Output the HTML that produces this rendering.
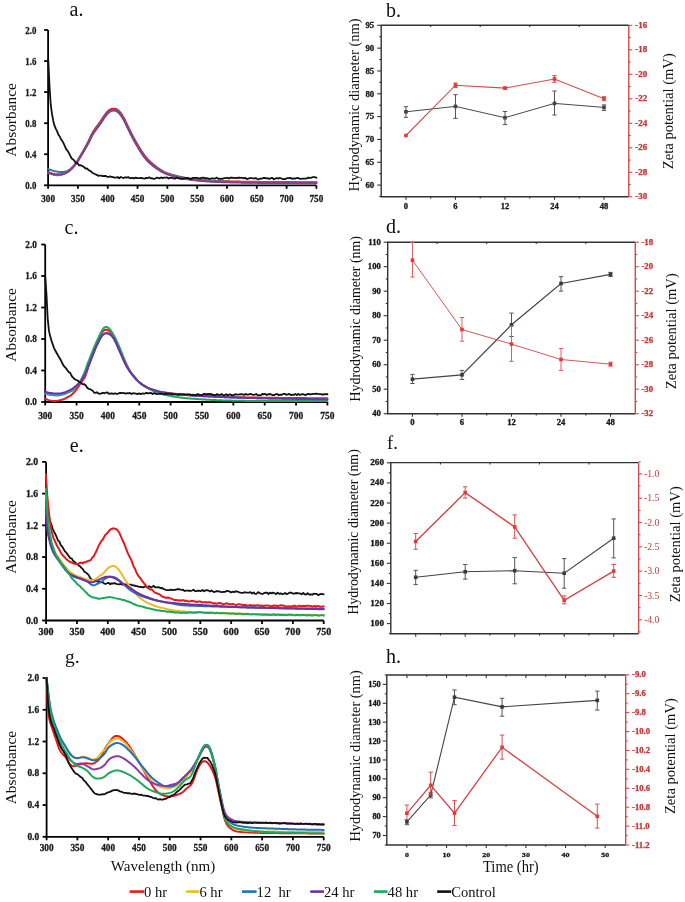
<!DOCTYPE html>
<html><head><meta charset="utf-8"><style>
html,body{margin:0;padding:0;background:#fff;}
body{width:685px;height:902px;overflow:hidden;}
svg{display:block;filter:blur(0.3px);}
text{font-family:"Liberation Serif",serif;}
</style></head><body>
<svg width="685" height="902" viewBox="0 0 685 902">
<rect width="685" height="902" fill="#fff"/>
<g stroke="#000" stroke-width="1.8" fill="none">
<path d="M48.1 30 L48.1 185.3 L316.4 185.3"/>
<path d="M44.1 185.3 H48.1"/>
<path d="M44.1 154.24 H48.1"/>
<path d="M44.1 123.18 H48.1"/>
<path d="M44.1 92.12 H48.1"/>
<path d="M44.1 61.06 H48.1"/>
<path d="M44.1 30 H48.1"/>
<path d="M48.1 185.3 V188.8"/>
<path d="M77.91 185.3 V188.8"/>
<path d="M107.72 185.3 V188.8"/>
<path d="M137.53 185.3 V188.8"/>
<path d="M167.34 185.3 V188.8"/>
<path d="M197.16 185.3 V188.8"/>
<path d="M226.97 185.3 V188.8"/>
<path d="M256.78 185.3 V188.8"/>
<path d="M286.59 185.3 V188.8"/>
<path d="M316.4 185.3 V188.8"/>
</g>
<text transform="translate(36.4 188.95) scale(0.82 1)" font-size="10.8" text-anchor="end" font-weight="bold" fill="#1a1a1a" stroke="#1a1a1a" stroke-width="0.3">0.0</text>
<text transform="translate(36.4 157.89) scale(0.82 1)" font-size="10.8" text-anchor="end" font-weight="bold" fill="#1a1a1a" stroke="#1a1a1a" stroke-width="0.3">0.4</text>
<text transform="translate(36.4 126.83) scale(0.82 1)" font-size="10.8" text-anchor="end" font-weight="bold" fill="#1a1a1a" stroke="#1a1a1a" stroke-width="0.3">0.8</text>
<text transform="translate(36.4 95.77) scale(0.82 1)" font-size="10.8" text-anchor="end" font-weight="bold" fill="#1a1a1a" stroke="#1a1a1a" stroke-width="0.3">1.2</text>
<text transform="translate(36.4 64.71) scale(0.82 1)" font-size="10.8" text-anchor="end" font-weight="bold" fill="#1a1a1a" stroke="#1a1a1a" stroke-width="0.3">1.6</text>
<text transform="translate(36.4 33.65) scale(0.82 1)" font-size="10.8" text-anchor="end" font-weight="bold" fill="#1a1a1a" stroke="#1a1a1a" stroke-width="0.3">2.0</text>
<text transform="translate(48.1 201.8) scale(0.89 1)" font-size="10.3" text-anchor="middle" font-weight="bold" fill="#1a1a1a" stroke="#1a1a1a" stroke-width="0.3">300</text>
<text transform="translate(77.91 201.8) scale(0.89 1)" font-size="10.3" text-anchor="middle" font-weight="bold" fill="#1a1a1a" stroke="#1a1a1a" stroke-width="0.3">350</text>
<text transform="translate(107.72 201.8) scale(0.89 1)" font-size="10.3" text-anchor="middle" font-weight="bold" fill="#1a1a1a" stroke="#1a1a1a" stroke-width="0.3">400</text>
<text transform="translate(137.53 201.8) scale(0.89 1)" font-size="10.3" text-anchor="middle" font-weight="bold" fill="#1a1a1a" stroke="#1a1a1a" stroke-width="0.3">450</text>
<text transform="translate(167.34 201.8) scale(0.89 1)" font-size="10.3" text-anchor="middle" font-weight="bold" fill="#1a1a1a" stroke="#1a1a1a" stroke-width="0.3">500</text>
<text transform="translate(197.16 201.8) scale(0.89 1)" font-size="10.3" text-anchor="middle" font-weight="bold" fill="#1a1a1a" stroke="#1a1a1a" stroke-width="0.3">550</text>
<text transform="translate(226.97 201.8) scale(0.89 1)" font-size="10.3" text-anchor="middle" font-weight="bold" fill="#1a1a1a" stroke="#1a1a1a" stroke-width="0.3">600</text>
<text transform="translate(256.78 201.8) scale(0.89 1)" font-size="10.3" text-anchor="middle" font-weight="bold" fill="#1a1a1a" stroke="#1a1a1a" stroke-width="0.3">650</text>
<text transform="translate(286.59 201.8) scale(0.89 1)" font-size="10.3" text-anchor="middle" font-weight="bold" fill="#1a1a1a" stroke="#1a1a1a" stroke-width="0.3">700</text>
<text transform="translate(316.4 201.8) scale(0.89 1)" font-size="10.3" text-anchor="middle" font-weight="bold" fill="#1a1a1a" stroke="#1a1a1a" stroke-width="0.3">750</text>
<text x="69.5" y="15.5" font-size="20" text-anchor="start" font-weight="normal" fill="#111">a.</text>
<text transform="translate(15.5 119.9) rotate(-90)" font-size="15.4" text-anchor="middle" font-weight="normal" fill="#111">Absorbance</text>
<path d="M48.2 172.3 L49.14 172.65 L50.08 173 L51.02 173.32 L51.97 173.62 L52.93 173.89 L53.9 174.13 L54.87 174.32 L55.85 174.47 L56.83 174.57 L57.82 174.62 L58.81 174.61 L59.79 174.53 L60.76 174.4 L61.73 174.21 L62.68 173.96 L63.63 173.65 L64.55 173.31 L65.47 172.91 L66.35 172.48 L67.22 172 L68.06 171.47 L68.87 170.91 L69.66 170.3 L70.42 169.66 L71.15 168.99 L71.86 168.29 L72.55 167.57 L73.23 166.83 L73.89 166.08 L74.54 165.32 L75.17 164.54 L75.77 163.75 L76.36 162.94 L76.92 162.12 L77.46 161.28 L77.98 160.43 L78.48 159.57 L78.98 158.7 L79.47 157.83 L79.96 156.96 L80.46 156.09 L80.96 155.22 L81.46 154.35 L81.96 153.48 L82.46 152.61 L82.95 151.74 L83.44 150.87 L83.92 149.99 L84.4 149.11 L84.87 148.22 L85.35 147.34 L85.82 146.46 L86.3 145.58 L86.77 144.69 L87.24 143.81 L87.71 142.92 L88.16 142.03 L88.61 141.13 L89.04 140.23 L89.46 139.32 L89.87 138.41 L90.28 137.5 L90.7 136.59 L91.12 135.68 L91.56 134.78 L92.03 133.9 L92.51 133.03 L93.02 132.16 L93.55 131.32 L94.09 130.48 L94.66 129.65 L95.23 128.83 L95.82 128.02 L96.41 127.22 L97.01 126.41 L97.61 125.61 L98.22 124.81 L98.81 124.01 L99.4 123.2 L99.98 122.38 L100.55 121.56 L101.11 120.73 L101.66 119.89 L102.2 119.05 L102.74 118.21 L103.29 117.37 L103.84 116.53 L104.4 115.7 L104.98 114.89 L105.57 114.08 L106.19 113.3 L106.83 112.54 L107.5 111.81 L108.21 111.13 L108.95 110.51 L109.73 109.95 L110.56 109.49 L111.42 109.12 L112.32 108.86 L113.22 108.73 L114.14 108.73 L115.03 108.86 L115.91 109.12 L116.74 109.51 L117.54 110 L118.28 110.59 L118.99 111.25 L119.65 111.97 L120.28 112.73 L120.89 113.52 L121.47 114.33 L122.03 115.16 L122.57 116 L123.09 116.85 L123.59 117.72 L124.07 118.6 L124.53 119.48 L124.98 120.38 L125.41 121.28 L125.84 122.19 L126.26 123.09 L126.69 124 L127.11 124.91 L127.55 125.81 L127.98 126.71 L128.43 127.61 L128.87 128.51 L129.32 129.4 L129.78 130.3 L130.23 131.19 L130.68 132.09 L131.13 132.98 L131.58 133.88 L132.03 134.77 L132.48 135.67 L132.94 136.56 L133.41 137.45 L133.88 138.33 L134.36 139.21 L134.84 140.09 L135.33 140.96 L135.83 141.83 L136.33 142.7 L136.83 143.56 L137.34 144.43 L137.85 145.29 L138.36 146.16 L138.87 147.02 L139.39 147.87 L139.91 148.73 L140.44 149.58 L140.98 150.43 L141.52 151.27 L142.08 152.1 L142.64 152.93 L143.21 153.76 L143.79 154.57 L144.38 155.38 L144.98 156.18 L145.6 156.97 L146.23 157.74 L146.88 158.5 L147.54 159.25 L148.23 159.98 L148.93 160.69 L149.64 161.39 L150.37 162.08 L151.11 162.75 L151.86 163.42 L152.62 164.07 L153.39 164.71 L154.17 165.34 L154.95 165.97 L155.74 166.58 L156.54 167.18 L157.35 167.77 L158.17 168.35 L158.99 168.91 L159.83 169.47 L160.68 170 L161.53 170.52 L162.4 171.02 L163.28 171.5 L164.16 171.95 L165.06 172.39 L165.98 172.79 L166.9 173.17 L167.83 173.53 L168.78 173.86 L169.73 174.17 L170.68 174.46 L171.64 174.74 L172.61 175.01 L173.58 175.27 L174.55 175.53 L175.52 175.78 L176.49 176.02 L177.46 176.26 L178.44 176.49 L179.41 176.72 L180.39 176.94 L181.37 177.16 L182.35 177.36 L183.33 177.57 L184.31 177.76 L185.3 177.95 L186.28 178.14 L187.27 178.31 L188.26 178.48 L189.24 178.64 L190.23 178.8 L191.23 178.94 L192.22 179.08 L193.21 179.2 L194.21 179.32 L195.2 179.44 L196.2 179.54 L197.2 179.64 L198.19 179.73 L199.19 179.82 L200.19 179.91 L201.19 180 L202.19 180.08 L203.19 180.17 L204.19 180.25 L205.19 180.33 L206.18 180.41 L207.18 180.48 L208.18 180.56 L209.18 180.63 L210.18 180.7 L211.18 180.76 L212.18 180.82 L213.18 180.88 L214.18 180.93 L215.19 180.98 L216.19 181.03 L217.19 181.08 L218.19 181.12 L219.19 181.16 L220.19 181.2 L221.19 181.23 L222.2 181.27 L223.2 181.3 L224.2 181.33 L225.2 181.36 L226.2 181.39 L227.2 181.42 L228.21 181.44 L229.21 181.47 L230.21 181.49 L231.21 181.52 L232.21 181.54 L233.22 181.56 L234.22 181.59 L235.22 181.61 L236.22 181.63 L237.22 181.65 L238.23 181.67 L239.23 181.69 L240.23 181.71 L241.23 181.73 L242.24 181.74 L243.24 181.76 L244.24 181.78 L245.24 181.8 L246.24 181.81 L247.25 181.83 L248.25 181.84 L249.25 181.86 L250.25 181.87 L251.25 181.89 L252.26 181.9 L253.26 181.91 L254.26 181.93 L255.26 181.94 L256.27 181.95 L257.27 181.97 L258.27 181.98 L259.27 181.99 L260.27 182 L261.28 182.01 L262.28 182.02 L263.28 182.03 L264.28 182.04 L265.29 182.05 L266.29 182.06 L267.29 182.07 L268.29 182.07 L269.29 182.08 L270.3 182.09 L271.3 182.1 L272.3 182.1 L273.3 182.11 L274.31 182.12 L275.31 182.12 L276.31 182.13 L277.31 182.13 L278.31 182.14 L279.32 182.15 L280.32 182.15 L281.32 182.16 L282.32 182.16 L283.33 182.17 L284.33 182.17 L285.33 182.18 L286.33 182.18 L287.33 182.18 L288.34 182.19 L289.34 182.19 L290.34 182.2 L291.34 182.2 L292.35 182.21 L293.35 182.21 L294.35 182.21 L295.35 182.22 L296.35 182.22 L297.36 182.23 L298.36 182.23 L299.36 182.23 L300.36 182.24 L301.37 182.24 L302.37 182.24 L303.37 182.25 L304.37 182.25 L305.38 182.26 L306.38 182.26 L307.38 182.26 L308.38 182.27 L309.38 182.27 L310.39 182.27 L311.39 182.28 L312.39 182.28 L313.39 182.29 L314.4 182.29 L315.4 182.3 L316.4 182.3 L316.4 182.3" fill="none" stroke="#d51d1d" stroke-width="2.2" stroke-linejoin="round" stroke-linecap="round"/>
<path d="M48.2 169 L49.14 169.35 L50.08 169.7 L51.02 170.03 L51.97 170.35 L52.92 170.64 L53.88 170.92 L54.85 171.16 L55.82 171.38 L56.8 171.57 L57.79 171.73 L58.78 171.85 L59.77 171.94 L60.76 171.99 L61.75 171.99 L62.74 171.94 L63.73 171.85 L64.7 171.7 L65.66 171.49 L66.6 171.22 L67.51 170.87 L68.39 170.46 L69.23 169.98 L70.05 169.43 L70.82 168.83 L71.57 168.18 L72.28 167.5 L72.98 166.79 L73.65 166.05 L74.31 165.3 L74.95 164.53 L75.57 163.75 L76.17 162.95 L76.75 162.14 L77.3 161.31 L77.84 160.47 L78.36 159.62 L78.87 158.76 L79.38 157.9 L79.89 157.04 L80.41 156.18 L80.93 155.33 L81.45 154.47 L81.98 153.62 L82.5 152.76 L83.01 151.9 L83.52 151.04 L84.03 150.17 L84.53 149.31 L85.03 148.44 L85.53 147.57 L86.03 146.7 L86.52 145.83 L87.02 144.96 L87.51 144.09 L87.99 143.21 L88.45 142.32 L88.91 141.43 L89.35 140.54 L89.78 139.63 L90.21 138.73 L90.64 137.82 L91.07 136.92 L91.52 136.03 L91.99 135.15 L92.48 134.28 L93 133.43 L93.53 132.58 L94.09 131.75 L94.66 130.93 L95.24 130.11 L95.83 129.3 L96.42 128.5 L97.02 127.7 L97.63 126.9 L98.23 126.1 L98.83 125.29 L99.42 124.48 L100 123.67 L100.56 122.84 L101.12 122.01 L101.67 121.17 L102.21 120.33 L102.75 119.49 L103.3 118.65 L103.85 117.81 L104.41 116.99 L104.99 116.17 L105.58 115.37 L106.2 114.59 L106.84 113.83 L107.51 113.1 L108.22 112.42 L108.96 111.8 L109.75 111.25 L110.57 110.78 L111.44 110.41 L112.33 110.16 L113.24 110.03 L114.15 110.03 L115.05 110.16 L115.92 110.42 L116.76 110.81 L117.55 111.31 L118.29 111.9 L119 112.56 L119.66 113.28 L120.29 114.04 L120.9 114.83 L121.48 115.64 L122.04 116.47 L122.58 117.31 L123.09 118.16 L123.59 119.03 L124.07 119.91 L124.54 120.79 L124.98 121.69 L125.42 122.59 L125.85 123.49 L126.27 124.4 L126.69 125.31 L127.12 126.22 L127.55 127.12 L127.99 128.02 L128.43 128.92 L128.88 129.82 L129.33 130.71 L129.78 131.61 L130.23 132.5 L130.68 133.4 L131.13 134.29 L131.58 135.19 L132.03 136.08 L132.48 136.97 L132.94 137.86 L133.41 138.75 L133.88 139.64 L134.36 140.52 L134.84 141.39 L135.34 142.27 L135.83 143.14 L136.33 144 L136.84 144.87 L137.34 145.73 L137.85 146.6 L138.36 147.46 L138.87 148.32 L139.39 149.18 L139.92 150.03 L140.45 150.88 L140.99 151.73 L141.53 152.56 L142.09 153.4 L142.65 154.22 L143.23 155.04 L143.81 155.86 L144.41 156.66 L145.02 157.45 L145.65 158.23 L146.29 159 L146.95 159.75 L147.63 160.48 L148.32 161.2 L149.04 161.9 L149.77 162.58 L150.51 163.25 L151.27 163.9 L152.04 164.54 L152.82 165.17 L153.6 165.79 L154.4 166.4 L155.2 167 L156.01 167.59 L156.83 168.16 L157.66 168.72 L158.5 169.27 L159.34 169.81 L160.2 170.33 L161.06 170.83 L161.93 171.32 L162.82 171.79 L163.71 172.24 L164.61 172.66 L165.53 173.06 L166.45 173.44 L167.39 173.8 L168.33 174.13 L169.28 174.44 L170.23 174.74 L171.19 175.02 L172.16 175.29 L173.13 175.56 L174.09 175.81 L175.06 176.06 L176.03 176.31 L177.01 176.55 L177.98 176.79 L178.96 177.02 L179.93 177.24 L180.91 177.46 L181.89 177.67 L182.87 177.87 L183.85 178.07 L184.84 178.27 L185.82 178.45 L186.81 178.63 L187.79 178.81 L188.78 178.97 L189.77 179.13 L190.76 179.27 L191.75 179.41 L192.75 179.55 L193.74 179.67 L194.73 179.78 L195.73 179.89 L196.73 179.99 L197.72 180.09 L198.72 180.18 L199.72 180.27 L200.72 180.36 L201.72 180.44 L202.72 180.53 L203.71 180.61 L204.71 180.69 L205.71 180.77 L206.71 180.85 L207.71 180.92 L208.71 181 L209.71 181.06 L210.71 181.13 L211.71 181.19 L212.71 181.25 L213.71 181.31 L214.71 181.36 L215.71 181.41 L216.71 181.46 L217.71 181.5 L218.71 181.54 L219.71 181.58 L220.72 181.62 L221.72 181.65 L222.72 181.68 L223.72 181.71 L224.72 181.75 L225.72 181.77 L226.73 181.8 L227.73 181.83 L228.73 181.86 L229.73 181.88 L230.73 181.91 L231.73 181.93 L232.74 181.95 L233.74 181.98 L234.74 182 L235.74 182.02 L236.74 182.04 L237.74 182.06 L238.75 182.08 L239.75 182.1 L240.75 182.12 L241.75 182.14 L242.75 182.15 L243.76 182.17 L244.76 182.19 L245.76 182.2 L246.76 182.22 L247.76 182.24 L248.76 182.25 L249.77 182.27 L250.77 182.28 L251.77 182.29 L252.77 182.31 L253.77 182.32 L254.78 182.33 L255.78 182.35 L256.78 182.36 L257.78 182.37 L258.78 182.38 L259.79 182.39 L260.79 182.41 L261.79 182.42 L262.79 182.43 L263.79 182.44 L264.8 182.44 L265.8 182.45 L266.8 182.46 L267.8 182.47 L268.8 182.48 L269.81 182.49 L270.81 182.49 L271.81 182.5 L272.81 182.51 L273.81 182.51 L274.82 182.52 L275.82 182.53 L276.82 182.53 L277.82 182.54 L278.82 182.54 L279.83 182.55 L280.83 182.55 L281.83 182.56 L282.83 182.56 L283.83 182.57 L284.84 182.57 L285.84 182.58 L286.84 182.58 L287.84 182.59 L288.84 182.59 L289.85 182.6 L290.85 182.6 L291.85 182.6 L292.85 182.61 L293.85 182.61 L294.86 182.62 L295.86 182.62 L296.86 182.62 L297.86 182.63 L298.86 182.63 L299.87 182.64 L300.87 182.64 L301.87 182.64 L302.87 182.65 L303.87 182.65 L304.88 182.65 L305.88 182.66 L306.88 182.66 L307.88 182.67 L308.88 182.67 L309.89 182.67 L310.89 182.68 L311.89 182.68 L312.89 182.68 L313.89 182.69 L314.9 182.69 L315.9 182.7 L316.4 182.7" fill="none" stroke="#2a7d9a" stroke-width="2.0" stroke-linejoin="round" stroke-linecap="round"/>
<path d="M48.2 172.9 L49.14 173.25 L50.07 173.6 L51.02 173.92 L51.97 174.23 L52.93 174.5 L53.89 174.73 L54.87 174.92 L55.84 175.07 L56.83 175.15 L57.81 175.18 L58.79 175.15 L59.76 175.04 L60.72 174.86 L61.67 174.62 L62.61 174.32 L63.53 173.96 L64.44 173.56 L65.32 173.11 L66.19 172.62 L67.03 172.1 L67.86 171.54 L68.65 170.95 L69.43 170.32 L70.18 169.67 L70.9 168.99 L71.61 168.28 L72.31 167.56 L72.98 166.83 L73.65 166.08 L74.3 165.32 L74.94 164.55 L75.56 163.77 L76.15 162.97 L76.73 162.16 L77.29 161.33 L77.82 160.49 L78.34 159.63 L78.86 158.78 L79.37 157.92 L79.88 157.06 L80.4 156.2 L80.92 155.35 L81.44 154.49 L81.96 153.64 L82.48 152.78 L83 151.92 L83.51 151.06 L84.02 150.19 L84.52 149.33 L85.02 148.46 L85.52 147.59 L86.01 146.72 L86.51 145.85 L87.01 144.98 L87.5 144.11 L87.98 143.23 L88.44 142.34 L88.9 141.45 L89.34 140.55 L89.77 139.65 L90.2 138.75 L90.63 137.84 L91.06 136.94 L91.51 136.05 L91.98 135.17 L92.47 134.3 L92.99 133.44 L93.52 132.6 L94.08 131.77 L94.64 130.94 L95.22 130.13 L95.81 129.32 L96.41 128.51 L97.01 127.71 L97.62 126.91 L98.22 126.11 L98.82 125.31 L99.41 124.5 L99.99 123.68 L100.55 122.86 L101.11 122.03 L101.66 121.19 L102.2 120.35 L102.74 119.51 L103.29 118.67 L103.84 117.83 L104.4 117 L104.98 116.19 L105.57 115.38 L106.19 114.6 L106.83 113.84 L107.5 113.12 L108.2 112.43 L108.95 111.81 L109.73 111.26 L110.56 110.79 L111.42 110.42 L112.31 110.16 L113.22 110.03 L114.13 110.03 L115.03 110.16 L115.9 110.42 L116.74 110.8 L117.53 111.3 L118.28 111.89 L118.98 112.55 L119.65 113.27 L120.28 114.03 L120.89 114.81 L121.47 115.62 L122.03 116.45 L122.57 117.29 L123.09 118.15 L123.59 119.01 L124.07 119.89 L124.53 120.78 L124.98 121.67 L125.41 122.57 L125.84 123.48 L126.26 124.39 L126.68 125.3 L127.11 126.2 L127.54 127.11 L127.98 128.01 L128.42 128.91 L128.87 129.8 L129.32 130.7 L129.77 131.59 L130.22 132.49 L130.67 133.38 L131.12 134.28 L131.57 135.17 L132.02 136.07 L132.48 136.96 L132.94 137.85 L133.4 138.74 L133.87 139.62 L134.35 140.5 L134.84 141.38 L135.33 142.25 L135.83 143.12 L136.33 143.99 L136.83 144.86 L137.34 145.72 L137.84 146.59 L138.35 147.45 L138.87 148.31 L139.38 149.17 L139.91 150.02 L140.44 150.87 L140.98 151.71 L141.52 152.55 L142.08 153.39 L142.65 154.21 L143.22 155.03 L143.81 155.85 L144.4 156.65 L145.01 157.44 L145.64 158.22 L146.28 158.99 L146.94 159.74 L147.62 160.47 L148.31 161.19 L149.03 161.89 L149.76 162.57 L150.5 163.24 L151.26 163.89 L152.03 164.53 L152.81 165.16 L153.59 165.78 L154.39 166.39 L155.19 166.99 L156 167.58 L156.82 168.15 L157.65 168.72 L158.49 169.27 L159.33 169.8 L160.19 170.32 L161.05 170.83 L161.92 171.31 L162.81 171.78 L163.7 172.23 L164.6 172.66 L165.52 173.06 L166.44 173.44 L167.38 173.79 L168.32 174.13 L169.27 174.44 L170.22 174.74 L171.18 175.02 L172.15 175.29 L173.11 175.55 L174.08 175.81 L175.05 176.06 L176.02 176.31 L177 176.55 L177.97 176.78 L178.95 177.01 L179.92 177.24 L180.9 177.45 L181.88 177.66 L182.86 177.87 L183.84 178.07 L184.83 178.26 L185.81 178.45 L186.8 178.63 L187.78 178.8 L188.77 178.97 L189.76 179.12 L190.75 179.27 L191.74 179.41 L192.74 179.54 L193.73 179.67 L194.72 179.78 L195.72 179.89 L196.72 179.99 L197.72 180.09 L198.71 180.18 L199.71 180.27 L200.71 180.36 L201.71 180.44 L202.71 180.53 L203.71 180.61 L204.7 180.69 L205.7 180.77 L206.7 180.85 L207.7 180.92 L208.7 180.99 L209.7 181.06 L210.7 181.13 L211.7 181.19 L212.7 181.25 L213.7 181.31 L214.7 181.36 L215.7 181.41 L216.7 181.46 L217.7 181.5 L218.71 181.54 L219.71 181.58 L220.71 181.62 L221.71 181.65 L222.71 181.68 L223.71 181.71 L224.71 181.74 L225.72 181.77 L226.72 181.8 L227.72 181.83 L228.72 181.86 L229.72 181.88 L230.73 181.91 L231.73 181.93 L232.73 181.95 L233.73 181.98 L234.73 182 L235.73 182.02 L236.74 182.04 L237.74 182.06 L238.74 182.08 L239.74 182.1 L240.74 182.12 L241.75 182.14 L242.75 182.15 L243.75 182.17 L244.75 182.19 L245.75 182.2 L246.76 182.22 L247.76 182.24 L248.76 182.25 L249.76 182.27 L250.76 182.28 L251.77 182.29 L252.77 182.31 L253.77 182.32 L254.77 182.33 L255.77 182.35 L256.78 182.36 L257.78 182.37 L258.78 182.38 L259.78 182.39 L260.78 182.41 L261.79 182.42 L262.79 182.43 L263.79 182.44 L264.79 182.44 L265.79 182.45 L266.8 182.46 L267.8 182.47 L268.8 182.48 L269.8 182.49 L270.8 182.49 L271.81 182.5 L272.81 182.51 L273.81 182.51 L274.81 182.52 L275.82 182.53 L276.82 182.53 L277.82 182.54 L278.82 182.54 L279.82 182.55 L280.83 182.55 L281.83 182.56 L282.83 182.56 L283.83 182.57 L284.83 182.57 L285.84 182.58 L286.84 182.58 L287.84 182.59 L288.84 182.59 L289.84 182.6 L290.85 182.6 L291.85 182.6 L292.85 182.61 L293.85 182.61 L294.85 182.62 L295.86 182.62 L296.86 182.62 L297.86 182.63 L298.86 182.63 L299.87 182.64 L300.87 182.64 L301.87 182.64 L302.87 182.65 L303.87 182.65 L304.88 182.65 L305.88 182.66 L306.88 182.66 L307.88 182.67 L308.88 182.67 L309.89 182.67 L310.89 182.68 L311.89 182.68 L312.89 182.68 L313.89 182.69 L314.9 182.69 L315.9 182.7 L316.4 182.7" fill="none" stroke="#3a9a6a" stroke-width="2.0" stroke-linejoin="round" stroke-linecap="round"/>
<path d="M48.2 172.4 L49.14 172.75 L50.08 173.1 L51.02 173.42 L51.97 173.72 L52.93 173.99 L53.9 174.23 L54.87 174.42 L55.85 174.57 L56.84 174.67 L57.82 174.72 L58.81 174.71 L59.79 174.63 L60.76 174.5 L61.73 174.3 L62.69 174.05 L63.63 173.75 L64.56 173.4 L65.47 173.01 L66.36 172.57 L67.22 172.09 L68.07 171.57 L68.88 171 L69.66 170.4 L70.42 169.76 L71.16 169.09 L71.87 168.39 L72.56 167.67 L73.24 166.93 L73.9 166.18 L74.55 165.42 L75.18 164.65 L75.79 163.86 L76.38 163.05 L76.95 162.23 L77.5 161.4 L78.03 160.55 L78.55 159.7 L79.06 158.84 L79.57 157.98 L80.09 157.12 L80.6 156.26 L81.13 155.41 L81.65 154.55 L82.17 153.7 L82.69 152.84 L83.2 151.98 L83.71 151.12 L84.22 150.25 L84.72 149.38 L85.22 148.51 L85.71 147.64 L86.21 146.77 L86.71 145.9 L87.2 145.03 L87.69 144.16 L88.16 143.27 L88.63 142.39 L89.08 141.49 L89.52 140.59 L89.94 139.69 L90.37 138.78 L90.8 137.88 L91.24 136.98 L91.7 136.09 L92.18 135.22 L92.68 134.35 L93.2 133.5 L93.74 132.66 L94.3 131.83 L94.88 131.01 L95.46 130.2 L96.06 129.39 L96.65 128.59 L97.26 127.79 L97.86 126.99 L98.46 126.18 L99.06 125.38 L99.64 124.57 L100.22 123.75 L100.78 122.92 L101.34 122.09 L101.88 121.25 L102.42 120.4 L102.97 119.56 L103.51 118.72 L104.07 117.89 L104.64 117.07 L105.22 116.25 L105.82 115.46 L106.45 114.68 L107.1 113.94 L107.79 113.23 L108.51 112.57 L109.27 111.97 L110.07 111.45 L110.91 111.02 L111.79 110.7 L112.69 110.49 L113.6 110.41 L114.51 110.47 L115.4 110.65 L116.26 110.97 L117.08 111.4 L117.85 111.93 L118.58 112.56 L119.27 113.24 L119.92 113.98 L120.54 114.75 L121.13 115.55 L121.7 116.37 L122.26 117.2 L122.79 118.05 L123.3 118.91 L123.79 119.78 L124.26 120.66 L124.72 121.55 L125.16 122.45 L125.59 123.36 L126.02 124.26 L126.44 125.17 L126.86 126.08 L127.29 126.98 L127.73 127.89 L128.17 128.79 L128.61 129.69 L129.06 130.58 L129.51 131.48 L129.96 132.37 L130.42 133.27 L130.87 134.16 L131.32 135.06 L131.77 135.95 L132.22 136.85 L132.67 137.74 L133.13 138.63 L133.6 139.52 L134.08 140.4 L134.56 141.28 L135.05 142.15 L135.54 143.03 L136.04 143.9 L136.54 144.76 L137.05 145.63 L137.55 146.49 L138.06 147.36 L138.57 148.22 L139.09 149.08 L139.61 149.94 L140.14 150.79 L140.67 151.64 L141.21 152.48 L141.77 153.31 L142.33 154.15 L142.89 154.97 L143.47 155.79 L144.06 156.6 L144.67 157.4 L145.28 158.18 L145.91 158.96 L146.56 159.72 L147.23 160.46 L147.92 161.19 L148.62 161.9 L149.35 162.59 L150.08 163.27 L150.83 163.93 L151.6 164.58 L152.37 165.21 L153.15 165.84 L153.94 166.45 L154.74 167.06 L155.55 167.65 L156.36 168.23 L157.19 168.8 L158.02 169.36 L158.86 169.9 L159.71 170.43 L160.57 170.95 L161.44 171.44 L162.31 171.92 L163.2 172.38 L164.1 172.82 L165.01 173.24 L165.93 173.63 L166.86 174 L167.8 174.35 L168.74 174.67 L169.69 174.97 L170.65 175.26 L171.62 175.54 L172.58 175.81 L173.55 176.07 L174.52 176.32 L175.49 176.57 L176.46 176.82 L177.43 177.06 L178.41 177.29 L179.39 177.51 L180.36 177.73 L181.34 177.95 L182.32 178.16 L183.3 178.36 L184.29 178.56 L185.27 178.75 L186.26 178.93 L187.24 179.11 L188.23 179.28 L189.22 179.44 L190.21 179.59 L191.2 179.74 L192.19 179.87 L193.19 180 L194.18 180.12 L195.18 180.23 L196.18 180.34 L197.17 180.44 L198.17 180.53 L199.17 180.62 L200.17 180.71 L201.17 180.8 L202.17 180.88 L203.17 180.96 L204.16 181.05 L205.16 181.13 L206.16 181.21 L207.16 181.28 L208.16 181.36 L209.16 181.43 L210.16 181.49 L211.16 181.56 L212.16 181.62 L213.16 181.68 L214.16 181.73 L215.17 181.78 L216.17 181.83 L217.17 181.88 L218.17 181.92 L219.17 181.96 L220.17 182 L221.18 182.03 L222.18 182.07 L223.18 182.1 L224.18 182.13 L225.18 182.16 L226.18 182.19 L227.19 182.22 L228.19 182.24 L229.19 182.27 L230.19 182.29 L231.2 182.32 L232.2 182.34 L233.2 182.36 L234.2 182.39 L235.2 182.41 L236.21 182.43 L237.21 182.45 L238.21 182.47 L239.21 182.49 L240.22 182.51 L241.22 182.53 L242.22 182.54 L243.22 182.56 L244.22 182.58 L245.23 182.59 L246.23 182.61 L247.23 182.63 L248.23 182.64 L249.24 182.66 L250.24 182.67 L251.24 182.69 L252.24 182.7 L253.25 182.71 L254.25 182.73 L255.25 182.74 L256.25 182.75 L257.26 182.77 L258.26 182.78 L259.26 182.79 L260.26 182.8 L261.27 182.81 L262.27 182.82 L263.27 182.83 L264.27 182.84 L265.27 182.85 L266.28 182.86 L267.28 182.87 L268.28 182.87 L269.28 182.88 L270.29 182.89 L271.29 182.9 L272.29 182.9 L273.29 182.91 L274.3 182.92 L275.3 182.92 L276.3 182.93 L277.3 182.93 L278.31 182.94 L279.31 182.95 L280.31 182.95 L281.31 182.96 L282.32 182.96 L283.32 182.97 L284.32 182.97 L285.32 182.98 L286.33 182.98 L287.33 182.98 L288.33 182.99 L289.33 182.99 L290.34 183 L291.34 183 L292.34 183.01 L293.34 183.01 L294.35 183.01 L295.35 183.02 L296.35 183.02 L297.35 183.03 L298.36 183.03 L299.36 183.03 L300.36 183.04 L301.36 183.04 L302.37 183.04 L303.37 183.05 L304.37 183.05 L305.37 183.06 L306.38 183.06 L307.38 183.06 L308.38 183.07 L309.38 183.07 L310.39 183.07 L311.39 183.08 L312.39 183.08 L313.39 183.09 L314.4 183.09 L315.4 183.1 L316.4 183.1 L316.4 183.1" fill="none" stroke="#8a3f8c" stroke-width="2.2" stroke-linejoin="round" stroke-linecap="round"/>
<path d="M48.3 60 L49.52 86.25 L50.72 104.46 L51.94 113.63 L53.22 120.66 L54.52 125.67 L55.76 128.69 L57.16 131.44 L58.48 134.82 L59.91 136.75 L61.15 139.52 L62.4 141.14 L63.64 143.35 L64.85 146.04 L66.26 149.3 L67.7 150.88 L68.94 153.2 L70.29 155.92 L71.76 158.42 L73.03 159.41 L74.36 160.63 L75.77 162.92 L77.27 162.85 L78.87 165.26 L80.14 165.21 L81.47 165.69 L82.83 166.26 L84.21 167.15 L85.56 168.55 L86.89 168.31 L88.18 169.67 L89.44 170.57 L91.01 171.4 L92.48 173.01 L94.03 173.52 L95.32 174.21 L96.73 174.87 L98.2 175.82 L99.7 175.58 L101.19 175.53 L102.69 176.07 L104.18 176.02 L105.68 175.95 L107.17 176.85 L108.66 176.87 L110.16 176.35 L111.65 176.99 L113.15 177.06 L114.65 177.71 L116.14 177.62 L117.64 177.08 L119.14 178.22 L120.64 177 L122.14 177.51 L123.64 178.07 L125.14 177.2 L126.64 177.74 L128.14 177.09 L129.65 178.05 L131.15 178.22 L132.65 177.95 L134.15 178.42 L135.65 177.59 L137.16 178.18 L138.66 178.04 L140.16 178.03 L141.66 177.86 L143.17 178.45 L144.67 178.62 L146.17 177.93 L147.67 178.22 L149.17 177.33 L150.68 178.31 L152.18 178.24 L153.68 178.78 L155.18 178.54 L156.68 177.75 L158.19 177.91 L159.69 178.35 L161.19 177.4 L162.69 178.07 L164.19 177.65 L165.7 177.59 L167.2 177.51 L168.7 178.59 L170.2 177.65 L171.7 177.84 L173.21 178.07 L174.71 178.8 L176.21 177.62 L177.71 178.19 L179.21 178.35 L180.72 178.86 L182.22 178.77 L183.72 178.84 L185.22 177.97 L186.73 178.18 L188.23 178.1 L189.73 178.89 L191.23 179 L192.73 177.79 L194.24 177.83 L195.74 177.91 L197.24 177.91 L198.74 178.28 L200.24 178.44 L201.75 177.94 L203.25 177.55 L204.75 178.17 L206.25 178.1 L207.76 178.39 L209.26 178.97 L210.76 178.57 L212.26 178.31 L213.76 178.46 L215.27 178.55 L216.77 177.62 L218.27 178.89 L219.77 178.72 L221.27 178.87 L222.78 178.76 L224.28 178.16 L225.78 178.18 L227.28 177.75 L228.78 178.56 L230.29 177.71 L231.79 177.73 L233.29 177.96 L234.79 177.9 L236.3 178.18 L237.8 177.77 L239.3 177.7 L240.8 177.94 L242.3 177.88 L243.81 178.29 L245.31 177.8 L246.81 179.08 L248.31 178.71 L249.81 178.02 L251.32 178.19 L252.82 178.34 L254.32 178.37 L255.82 178.02 L257.32 179.11 L258.83 179.34 L260.33 178.55 L261.83 178.58 L263.33 177.98 L264.83 178 L266.34 178.36 L267.84 178.24 L269.34 179.08 L270.84 178.08 L272.35 177.86 L273.85 179.25 L275.35 178.6 L276.85 178.02 L278.35 178.6 L279.86 177.81 L281.36 178.55 L282.86 179.21 L284.36 179.02 L285.86 178.75 L287.37 178.08 L288.87 178.21 L290.37 177.89 L291.87 178.78 L293.37 178.39 L294.88 178.73 L296.38 178.03 L297.88 177.84 L299.38 178.69 L300.88 178.91 L302.38 178.68 L303.89 178.58 L305.39 178.56 L306.89 178.4 L308.39 177.59 L309.89 177.99 L311.39 177.71 L312.9 177.18 L314.4 177.14 L315.9 177.48 L316.4 177.8" fill="none" stroke="#111111" stroke-width="1.8" stroke-linejoin="round" stroke-linecap="round"/>
<g stroke="#000" stroke-width="1.8" fill="none">
<path d="M45.2 244.5 L45.2 402 L327.4 402"/>
<path d="M41.2 402 H45.2"/>
<path d="M41.2 370.5 H45.2"/>
<path d="M41.2 339 H45.2"/>
<path d="M41.2 307.5 H45.2"/>
<path d="M41.2 276 H45.2"/>
<path d="M41.2 244.5 H45.2"/>
<path d="M45.2 402 V405.5"/>
<path d="M76.56 402 V405.5"/>
<path d="M107.91 402 V405.5"/>
<path d="M139.27 402 V405.5"/>
<path d="M170.62 402 V405.5"/>
<path d="M201.98 402 V405.5"/>
<path d="M233.33 402 V405.5"/>
<path d="M264.69 402 V405.5"/>
<path d="M296.04 402 V405.5"/>
<path d="M327.4 402 V405.5"/>
</g>
<text transform="translate(36.9 405.24) scale(0.97 1)" font-size="9.6" text-anchor="end" font-weight="bold" fill="#1a1a1a" stroke="#1a1a1a" stroke-width="0.3">0.0</text>
<text transform="translate(36.9 373.74) scale(0.97 1)" font-size="9.6" text-anchor="end" font-weight="bold" fill="#1a1a1a" stroke="#1a1a1a" stroke-width="0.3">0.4</text>
<text transform="translate(36.9 342.24) scale(0.97 1)" font-size="9.6" text-anchor="end" font-weight="bold" fill="#1a1a1a" stroke="#1a1a1a" stroke-width="0.3">0.8</text>
<text transform="translate(36.9 310.74) scale(0.97 1)" font-size="9.6" text-anchor="end" font-weight="bold" fill="#1a1a1a" stroke="#1a1a1a" stroke-width="0.3">1.2</text>
<text transform="translate(36.9 279.24) scale(0.97 1)" font-size="9.6" text-anchor="end" font-weight="bold" fill="#1a1a1a" stroke="#1a1a1a" stroke-width="0.3">1.6</text>
<text transform="translate(36.9 247.74) scale(0.97 1)" font-size="9.6" text-anchor="end" font-weight="bold" fill="#1a1a1a" stroke="#1a1a1a" stroke-width="0.3">2.0</text>
<text transform="translate(45.2 418.8) scale(0.9 1)" font-size="10.5" text-anchor="middle" font-weight="bold" fill="#1a1a1a" stroke="#1a1a1a" stroke-width="0.3">300</text>
<text transform="translate(76.56 418.8) scale(0.9 1)" font-size="10.5" text-anchor="middle" font-weight="bold" fill="#1a1a1a" stroke="#1a1a1a" stroke-width="0.3">350</text>
<text transform="translate(107.91 418.8) scale(0.9 1)" font-size="10.5" text-anchor="middle" font-weight="bold" fill="#1a1a1a" stroke="#1a1a1a" stroke-width="0.3">400</text>
<text transform="translate(139.27 418.8) scale(0.9 1)" font-size="10.5" text-anchor="middle" font-weight="bold" fill="#1a1a1a" stroke="#1a1a1a" stroke-width="0.3">450</text>
<text transform="translate(170.62 418.8) scale(0.9 1)" font-size="10.5" text-anchor="middle" font-weight="bold" fill="#1a1a1a" stroke="#1a1a1a" stroke-width="0.3">500</text>
<text transform="translate(201.98 418.8) scale(0.9 1)" font-size="10.5" text-anchor="middle" font-weight="bold" fill="#1a1a1a" stroke="#1a1a1a" stroke-width="0.3">550</text>
<text transform="translate(233.33 418.8) scale(0.9 1)" font-size="10.5" text-anchor="middle" font-weight="bold" fill="#1a1a1a" stroke="#1a1a1a" stroke-width="0.3">600</text>
<text transform="translate(264.69 418.8) scale(0.9 1)" font-size="10.5" text-anchor="middle" font-weight="bold" fill="#1a1a1a" stroke="#1a1a1a" stroke-width="0.3">650</text>
<text transform="translate(296.04 418.8) scale(0.9 1)" font-size="10.5" text-anchor="middle" font-weight="bold" fill="#1a1a1a" stroke="#1a1a1a" stroke-width="0.3">700</text>
<text transform="translate(327.4 418.8) scale(0.9 1)" font-size="10.5" text-anchor="middle" font-weight="bold" fill="#1a1a1a" stroke="#1a1a1a" stroke-width="0.3">750</text>
<text x="64.5" y="233.5" font-size="20" text-anchor="start" font-weight="normal" fill="#111">c.</text>
<text transform="translate(15.5 324.9) rotate(-90)" font-size="15.4" text-anchor="middle" font-weight="normal" fill="#111">Absorbance</text>
<path d="M45.2 398.8 L46.13 399.17 L47.07 399.53 L48.01 399.86 L48.96 400.16 L49.92 400.42 L50.9 400.62 L51.89 400.78 L52.88 400.9 L53.88 400.97 L54.87 400.98 L55.87 400.94 L56.87 400.85 L57.86 400.72 L58.84 400.54 L59.82 400.33 L60.79 400.1 L61.76 399.83 L62.71 399.53 L63.64 399.19 L64.56 398.79 L65.46 398.35 L66.34 397.89 L67.23 397.43 L68.12 396.97 L69 396.5 L69.86 396 L70.69 395.45 L71.48 394.84 L72.23 394.18 L72.96 393.49 L73.66 392.78 L74.34 392.05 L75 391.3 L75.64 390.53 L76.25 389.73 L76.84 388.93 L77.41 388.1 L77.98 387.28 L78.54 386.45 L79.1 385.62 L79.67 384.79 L80.23 383.97 L80.8 383.14 L81.37 382.32 L81.95 381.5 L82.54 380.69 L83.12 379.88 L83.69 379.06 L84.22 378.21 L84.71 377.34 L85.15 376.45 L85.55 375.53 L85.9 374.6 L86.23 373.65 L86.55 372.7 L86.85 371.75 L87.15 370.79 L87.44 369.83 L87.72 368.87 L88.01 367.91 L88.3 366.96 L88.6 366 L88.9 365.05 L89.21 364.09 L89.54 363.15 L89.86 362.2 L90.2 361.26 L90.54 360.31 L90.88 359.37 L91.22 358.43 L91.57 357.49 L91.91 356.55 L92.26 355.61 L92.6 354.67 L92.94 353.73 L93.28 352.79 L93.62 351.84 L93.96 350.9 L94.31 349.96 L94.66 349.03 L95.02 348.09 L95.39 347.16 L95.76 346.23 L96.14 345.31 L96.53 344.38 L96.93 343.46 L97.33 342.54 L97.73 341.63 L98.14 340.71 L98.55 339.8 L98.96 338.89 L99.37 337.97 L99.78 337.06 L100.18 336.14 L100.59 335.23 L101 334.32 L101.45 333.42 L101.93 332.56 L102.49 331.74 L103.14 331 L103.88 330.38 L104.7 329.92 L105.6 329.67 L106.51 329.67 L107.4 329.91 L108.25 330.36 L109.03 330.94 L109.76 331.61 L110.45 332.34 L111.09 333.1 L111.7 333.89 L112.26 334.72 L112.79 335.57 L113.29 336.43 L113.76 337.31 L114.22 338.21 L114.66 339.11 L115.08 340.01 L115.5 340.92 L115.91 341.83 L116.32 342.75 L116.71 343.67 L117.1 344.59 L117.48 345.52 L117.86 346.45 L118.23 347.38 L118.61 348.3 L118.98 349.23 L119.36 350.16 L119.74 351.09 L120.12 352.01 L120.5 352.94 L120.88 353.87 L121.26 354.79 L121.64 355.72 L122.03 356.64 L122.42 357.56 L122.82 358.48 L123.23 359.39 L123.65 360.3 L124.08 361.21 L124.52 362.11 L124.96 363.01 L125.41 363.9 L125.88 364.79 L126.35 365.67 L126.84 366.54 L127.35 367.4 L127.88 368.26 L128.42 369.1 L128.98 369.93 L129.55 370.75 L130.14 371.56 L130.74 372.36 L131.34 373.16 L131.96 373.95 L132.58 374.73 L133.21 375.52 L133.83 376.3 L134.46 377.07 L135.1 377.85 L135.74 378.62 L136.39 379.38 L137.07 380.11 L137.77 380.82 L138.5 381.51 L139.25 382.17 L140.02 382.8 L140.81 383.42 L141.61 384.02 L142.43 384.6 L143.26 385.16 L144.1 385.71 L144.95 386.23 L145.82 386.73 L146.7 387.2 L147.59 387.65 L148.5 388.07 L149.42 388.47 L150.35 388.84 L151.28 389.2 L152.22 389.54 L153.17 389.86 L154.12 390.17 L155.08 390.47 L156.04 390.76 L157 391.03 L157.97 391.29 L158.94 391.53 L159.92 391.74 L160.9 391.93 L161.89 392.11 L162.87 392.27 L163.86 392.42 L164.85 392.57 L165.84 392.72 L166.84 392.86 L167.83 393 L168.82 393.12 L169.81 393.25 L170.81 393.36 L171.8 393.47 L172.8 393.58 L173.8 393.68 L174.79 393.78 L175.79 393.87 L176.79 393.97 L177.78 394.06 L178.78 394.15 L179.78 394.23 L180.78 394.32 L181.78 394.4 L182.77 394.48 L183.77 394.56 L184.77 394.64 L185.77 394.71 L186.77 394.78 L187.77 394.85 L188.77 394.92 L189.77 394.98 L190.76 395.05 L191.76 395.11 L192.76 395.17 L193.76 395.23 L194.76 395.28 L195.76 395.34 L196.76 395.39 L197.76 395.44 L198.76 395.5 L199.76 395.55 L200.76 395.59 L201.76 395.64 L202.76 395.69 L203.76 395.73 L204.77 395.78 L205.77 395.82 L206.77 395.86 L207.77 395.91 L208.77 395.95 L209.77 395.99 L210.77 396.03 L211.77 396.08 L212.77 396.12 L213.77 396.17 L214.77 396.22 L215.77 396.26 L216.77 396.31 L217.77 396.36 L218.77 396.41 L219.77 396.45 L220.77 396.5 L221.77 396.55 L222.77 396.6 L223.77 396.64 L224.77 396.69 L225.77 396.73 L226.77 396.78 L227.77 396.82 L228.77 396.86 L229.78 396.9 L230.78 396.94 L231.78 396.98 L232.78 397.02 L233.78 397.05 L234.78 397.09 L235.78 397.12 L236.78 397.16 L237.78 397.19 L238.78 397.22 L239.78 397.25 L240.78 397.28 L241.79 397.3 L242.79 397.33 L243.79 397.36 L244.79 397.38 L245.79 397.41 L246.79 397.43 L247.79 397.45 L248.79 397.47 L249.79 397.49 L250.8 397.51 L251.8 397.53 L252.8 397.55 L253.8 397.56 L254.8 397.58 L255.8 397.6 L256.8 397.61 L257.8 397.63 L258.81 397.64 L259.81 397.66 L260.81 397.67 L261.81 397.68 L262.81 397.7 L263.81 397.71 L264.81 397.72 L265.82 397.73 L266.82 397.75 L267.82 397.76 L268.82 397.77 L269.82 397.78 L270.82 397.79 L271.82 397.8 L272.82 397.81 L273.83 397.83 L274.83 397.84 L275.83 397.85 L276.83 397.86 L277.83 397.87 L278.83 397.88 L279.83 397.89 L280.84 397.9 L281.84 397.91 L282.84 397.92 L283.84 397.93 L284.84 397.94 L285.84 397.94 L286.84 397.95 L287.85 397.96 L288.85 397.97 L289.85 397.98 L290.85 397.99 L291.85 398 L292.85 398.01 L293.85 398.02 L294.86 398.03 L295.86 398.03 L296.86 398.04 L297.86 398.05 L298.86 398.06 L299.86 398.07 L300.86 398.08 L301.86 398.08 L302.87 398.09 L303.87 398.1 L304.87 398.11 L305.87 398.12 L306.87 398.13 L307.87 398.13 L308.87 398.14 L309.88 398.15 L310.88 398.16 L311.88 398.17 L312.88 398.17 L313.88 398.18 L314.88 398.19 L315.88 398.2 L316.89 398.21 L317.89 398.22 L318.89 398.22 L319.89 398.23 L320.89 398.24 L321.89 398.25 L322.89 398.26 L323.9 398.27 L324.9 398.28 L325.9 398.29 L326.9 398.3 L327.4 398.3" fill="none" stroke="#e41a1c" stroke-width="2.0" stroke-linejoin="round" stroke-linecap="round"/>
<path d="M45.2 393.6 L46.16 393.88 L47.13 394.14 L48.1 394.39 L49.08 394.59 L50.06 394.76 L51.05 394.9 L52.05 395.01 L53.05 395.1 L54.05 395.17 L55.05 395.23 L56.05 395.26 L57.05 395.27 L58.05 395.23 L59.04 395.15 L60.03 395.03 L61.02 394.85 L61.99 394.63 L62.96 394.38 L63.93 394.11 L64.88 393.82 L65.83 393.5 L66.77 393.16 L67.71 392.81 L68.65 392.44 L69.57 392.06 L70.48 391.66 L71.37 391.21 L72.23 390.69 L73.03 390.11 L73.79 389.47 L74.5 388.77 L75.18 388.03 L75.84 387.28 L76.49 386.52 L77.13 385.75 L77.77 384.97 L78.37 384.18 L78.95 383.37 L79.5 382.53 L80.01 381.67 L80.5 380.8 L80.98 379.92 L81.44 379.03 L81.9 378.13 L82.34 377.23 L82.77 376.33 L83.2 375.42 L83.61 374.51 L84.01 373.59 L84.39 372.67 L84.76 371.73 L85.1 370.8 L85.44 369.85 L85.76 368.9 L86.08 367.95 L86.4 367 L86.72 366.05 L87.06 365.11 L87.4 364.17 L87.76 363.23 L88.13 362.3 L88.5 361.37 L88.88 360.44 L89.26 359.52 L89.64 358.59 L90.02 357.66 L90.4 356.74 L90.77 355.81 L91.14 354.87 L91.51 353.94 L91.87 353.01 L92.23 352.07 L92.59 351.14 L92.96 350.21 L93.32 349.27 L93.69 348.34 L94.07 347.41 L94.46 346.49 L94.85 345.57 L95.25 344.65 L95.65 343.73 L96.06 342.81 L96.47 341.9 L96.88 340.99 L97.3 340.08 L97.72 339.17 L98.14 338.26 L98.57 337.35 L98.99 336.45 L99.43 335.54 L99.86 334.64 L100.3 333.74 L100.75 332.84 L101.2 331.95 L101.67 331.07 L102.17 330.19 L102.69 329.35 L103.28 328.56 L103.94 327.86 L104.71 327.35 L105.56 327.07 L106.46 327.07 L107.35 327.33 L108.19 327.79 L108.95 328.4 L109.64 329.1 L110.28 329.86 L110.88 330.66 L111.46 331.48 L112.01 332.32 L112.54 333.17 L113.06 334.03 L113.56 334.89 L114.05 335.76 L114.53 336.64 L115 337.53 L115.45 338.42 L115.9 339.32 L116.33 340.22 L116.76 341.13 L117.18 342.04 L117.59 342.95 L118 343.87 L118.4 344.79 L118.8 345.71 L119.19 346.63 L119.57 347.55 L119.95 348.48 L120.33 349.41 L120.71 350.34 L121.09 351.27 L121.46 352.19 L121.84 353.12 L122.22 354.05 L122.6 354.98 L122.98 355.9 L123.36 356.83 L123.74 357.76 L124.12 358.69 L124.51 359.61 L124.9 360.53 L125.3 361.45 L125.71 362.36 L126.13 363.27 L126.56 364.18 L126.98 365.09 L127.42 365.99 L127.86 366.89 L128.3 367.79 L128.77 368.68 L129.24 369.56 L129.74 370.43 L130.25 371.28 L130.79 372.13 L131.35 372.96 L131.92 373.78 L132.51 374.59 L133.12 375.39 L133.74 376.18 L134.37 376.95 L135.01 377.72 L135.67 378.48 L136.34 379.23 L137.02 379.96 L137.71 380.68 L138.42 381.39 L139.15 382.08 L139.89 382.75 L140.65 383.4 L141.43 384.03 L142.22 384.64 L143.03 385.24 L143.85 385.81 L144.69 386.36 L145.53 386.89 L146.39 387.41 L147.26 387.9 L148.14 388.38 L149.03 388.85 L149.92 389.29 L150.83 389.73 L151.74 390.15 L152.65 390.56 L153.57 390.96 L154.49 391.35 L155.42 391.73 L156.35 392.11 L157.28 392.47 L158.22 392.81 L159.17 393.14 L160.12 393.46 L161.08 393.75 L162.04 394.02 L163.01 394.29 L163.98 394.54 L164.95 394.78 L165.92 395.02 L166.9 395.25 L167.87 395.47 L168.85 395.69 L169.83 395.89 L170.82 396.08 L171.8 396.27 L172.79 396.44 L173.78 396.6 L174.77 396.76 L175.76 396.91 L176.75 397.05 L177.74 397.19 L178.73 397.33 L179.73 397.46 L180.72 397.59 L181.71 397.71 L182.71 397.82 L183.71 397.93 L184.7 398.03 L185.7 398.13 L186.7 398.22 L187.7 398.31 L188.69 398.39 L189.69 398.47 L190.69 398.55 L191.69 398.63 L192.69 398.71 L193.69 398.78 L194.69 398.86 L195.69 398.93 L196.69 399 L197.69 399.07 L198.69 399.14 L199.69 399.21 L200.68 399.28 L201.68 399.35 L202.68 399.41 L203.68 399.48 L204.68 399.54 L205.68 399.6 L206.68 399.66 L207.69 399.72 L208.69 399.77 L209.69 399.83 L210.69 399.88 L211.69 399.93 L212.69 399.98 L213.69 400.03 L214.69 400.08 L215.69 400.12 L216.69 400.17 L217.69 400.21 L218.69 400.25 L219.7 400.29 L220.7 400.32 L221.7 400.36 L222.7 400.39 L223.7 400.42 L224.7 400.45 L225.7 400.48 L226.71 400.51 L227.71 400.54 L228.71 400.57 L229.71 400.59 L230.71 400.62 L231.71 400.64 L232.72 400.66 L233.72 400.69 L234.72 400.71 L235.72 400.73 L236.72 400.74 L237.72 400.76 L238.73 400.78 L239.73 400.79 L240.73 400.81 L241.73 400.82 L242.73 400.84 L243.74 400.85 L244.74 400.86 L245.74 400.88 L246.74 400.89 L247.74 400.9 L248.74 400.91 L249.75 400.92 L250.75 400.93 L251.75 400.94 L252.75 400.95 L253.75 400.95 L254.76 400.96 L255.76 400.97 L256.76 400.98 L257.76 400.98 L258.76 400.99 L259.77 401 L260.77 401 L261.77 401.01 L262.77 401.01 L263.77 401.02 L264.78 401.02 L265.78 401.03 L266.78 401.03 L267.78 401.03 L268.78 401.04 L269.79 401.04 L270.79 401.04 L271.79 401.04 L272.79 401.04 L273.79 401.05 L274.8 401.05 L275.8 401.05 L276.8 401.05 L277.8 401.05 L278.8 401.05 L279.81 401.05 L280.81 401.05 L281.81 401.05 L282.81 401.05 L283.81 401.05 L284.82 401.05 L285.82 401.05 L286.82 401.05 L287.82 401.05 L288.82 401.05 L289.83 401.05 L290.83 401.05 L291.83 401.05 L292.83 401.05 L293.83 401.05 L294.84 401.04 L295.84 401.04 L296.84 401.04 L297.84 401.04 L298.84 401.04 L299.85 401.04 L300.85 401.04 L301.85 401.04 L302.85 401.04 L303.85 401.03 L304.86 401.03 L305.86 401.03 L306.86 401.03 L307.86 401.03 L308.86 401.03 L309.87 401.02 L310.87 401.02 L311.87 401.02 L312.87 401.02 L313.87 401.02 L314.88 401.02 L315.88 401.01 L316.88 401.01 L317.88 401.01 L318.88 401.01 L319.89 401.01 L320.89 401.01 L321.89 401.01 L322.89 401 L323.89 401 L324.9 401 L325.9 401 L326.9 401 L327.4 401" fill="none" stroke="#1ca85a" stroke-width="2.0" stroke-linejoin="round" stroke-linecap="round"/>
<path d="M45.2 393.5 L46.16 393.77 L47.13 394.04 L48.1 394.28 L49.08 394.49 L50.06 394.67 L51.05 394.82 L52.05 394.94 L53.05 395.04 L54.04 395.13 L55.04 395.19 L56.04 395.24 L57.04 395.26 L58.04 395.24 L59.04 395.17 L60.03 395.05 L61.02 394.88 L61.99 394.65 L62.95 394.38 L63.9 394.06 L64.83 393.69 L65.75 393.29 L66.65 392.86 L67.54 392.41 L68.42 391.92 L69.28 391.42 L70.14 390.89 L70.97 390.35 L71.8 389.78 L72.6 389.18 L73.39 388.56 L74.15 387.91 L74.9 387.25 L75.64 386.57 L76.38 385.89 L77.11 385.21 L77.84 384.53 L78.56 383.83 L79.26 383.11 L79.91 382.36 L80.52 381.57 L81.09 380.75 L81.62 379.9 L82.13 379.04 L82.63 378.17 L83.14 377.31 L83.66 376.45 L84.18 375.59 L84.67 374.72 L85.14 373.84 L85.58 372.94 L86 372.03 L86.4 371.11 L86.78 370.19 L87.16 369.26 L87.54 368.33 L87.91 367.4 L88.28 366.47 L88.65 365.53 L89.02 364.6 L89.39 363.67 L89.76 362.74 L90.12 361.81 L90.49 360.87 L90.86 359.94 L91.22 359.01 L91.59 358.07 L91.95 357.14 L92.32 356.21 L92.69 355.28 L93.06 354.34 L93.43 353.41 L93.8 352.48 L94.17 351.55 L94.54 350.62 L94.92 349.69 L95.3 348.76 L95.68 347.84 L96.08 346.92 L96.49 346.01 L96.92 345.1 L97.36 344.2 L97.82 343.31 L98.27 342.41 L98.71 341.52 L99.15 340.61 L99.59 339.71 L100.04 338.82 L100.52 337.94 L101.03 337.08 L101.59 336.26 L102.21 335.48 L102.9 334.78 L103.68 334.17 L104.52 333.68 L105.42 333.34 L106.36 333.17 L107.3 333.22 L108.22 333.46 L109.11 333.87 L109.95 334.39 L110.74 334.99 L111.48 335.65 L112.17 336.37 L112.8 337.14 L113.38 337.95 L113.9 338.8 L114.39 339.67 L114.85 340.56 L115.3 341.46 L115.73 342.36 L116.16 343.27 L116.58 344.18 L117 345.09 L117.42 346 L117.84 346.91 L118.26 347.82 L118.68 348.73 L119.09 349.64 L119.5 350.56 L119.91 351.47 L120.32 352.39 L120.72 353.31 L121.13 354.22 L121.54 355.14 L121.94 356.06 L122.34 356.97 L122.73 357.89 L123.13 358.82 L123.53 359.74 L123.93 360.65 L124.34 361.57 L124.76 362.48 L125.2 363.38 L125.65 364.27 L126.12 365.16 L126.6 366.04 L127.08 366.92 L127.58 367.79 L128.09 368.65 L128.61 369.5 L129.15 370.35 L129.7 371.19 L130.27 372.01 L130.85 372.83 L131.45 373.63 L132.06 374.42 L132.68 375.21 L133.31 375.99 L133.95 376.76 L134.61 377.52 L135.27 378.27 L135.94 379.01 L136.63 379.74 L137.33 380.46 L138.04 381.16 L138.77 381.85 L139.52 382.51 L140.29 383.15 L141.08 383.77 L141.89 384.36 L142.71 384.93 L143.56 385.47 L144.41 385.98 L145.28 386.48 L146.17 386.95 L147.06 387.4 L147.97 387.83 L148.88 388.23 L149.81 388.62 L150.74 388.98 L151.68 389.33 L152.63 389.66 L153.58 389.98 L154.53 390.29 L155.49 390.59 L156.45 390.88 L157.41 391.16 L158.37 391.42 L159.34 391.67 L160.32 391.9 L161.3 392.12 L162.28 392.31 L163.27 392.49 L164.25 392.67 L165.24 392.83 L166.23 392.98 L167.22 393.12 L168.22 393.26 L169.21 393.38 L170.21 393.5 L171.2 393.61 L172.2 393.71 L173.2 393.82 L174.19 393.92 L175.19 394.02 L176.19 394.12 L177.19 394.21 L178.18 394.31 L179.18 394.4 L180.18 394.5 L181.18 394.59 L182.18 394.67 L183.18 394.76 L184.17 394.85 L185.17 394.93 L186.17 395.01 L187.17 395.09 L188.17 395.16 L189.17 395.24 L190.17 395.31 L191.17 395.38 L192.17 395.46 L193.17 395.53 L194.17 395.6 L195.17 395.67 L196.17 395.74 L197.17 395.8 L198.17 395.87 L199.17 395.93 L200.17 395.99 L201.17 396.05 L202.17 396.11 L203.17 396.16 L204.17 396.22 L205.17 396.27 L206.17 396.32 L207.17 396.37 L208.18 396.41 L209.18 396.46 L210.18 396.51 L211.18 396.55 L212.18 396.6 L213.18 396.65 L214.18 396.69 L215.18 396.74 L216.19 396.79 L217.19 396.83 L218.19 396.88 L219.19 396.92 L220.19 396.97 L221.19 397.01 L222.19 397.06 L223.19 397.1 L224.2 397.14 L225.2 397.19 L226.2 397.23 L227.2 397.27 L228.2 397.31 L229.2 397.35 L230.2 397.39 L231.21 397.42 L232.21 397.46 L233.21 397.5 L234.21 397.53 L235.21 397.57 L236.21 397.6 L237.22 397.63 L238.22 397.67 L239.22 397.7 L240.22 397.73 L241.22 397.76 L242.22 397.79 L243.23 397.82 L244.23 397.85 L245.23 397.87 L246.23 397.9 L247.23 397.93 L248.24 397.95 L249.24 397.98 L250.24 398 L251.24 398.03 L252.24 398.05 L253.25 398.07 L254.25 398.1 L255.25 398.12 L256.25 398.14 L257.25 398.16 L258.26 398.18 L259.26 398.21 L260.26 398.23 L261.26 398.25 L262.26 398.27 L263.27 398.29 L264.27 398.31 L265.27 398.33 L266.27 398.35 L267.27 398.36 L268.28 398.38 L269.28 398.4 L270.28 398.42 L271.28 398.44 L272.28 398.46 L273.29 398.48 L274.29 398.5 L275.29 398.51 L276.29 398.53 L277.29 398.55 L278.3 398.57 L279.3 398.59 L280.3 398.6 L281.3 398.62 L282.3 398.64 L283.31 398.66 L284.31 398.67 L285.31 398.69 L286.31 398.71 L287.32 398.73 L288.32 398.74 L289.32 398.76 L290.32 398.78 L291.32 398.8 L292.33 398.81 L293.33 398.83 L294.33 398.85 L295.33 398.86 L296.33 398.88 L297.34 398.9 L298.34 398.91 L299.34 398.93 L300.34 398.95 L301.35 398.96 L302.35 398.98 L303.35 399 L304.35 399.01 L305.35 399.03 L306.36 399.05 L307.36 399.06 L308.36 399.08 L309.36 399.1 L310.36 399.11 L311.37 399.13 L312.37 399.15 L313.37 399.16 L314.37 399.18 L315.37 399.2 L316.38 399.21 L317.38 399.23 L318.38 399.25 L319.38 399.26 L320.39 399.28 L321.39 399.3 L322.39 399.31 L323.39 399.33 L324.39 399.35 L325.4 399.37 L326.4 399.38 L327.4 399.4 L327.4 399.4" fill="none" stroke="#3497d6" stroke-width="2.0" stroke-linejoin="round" stroke-linecap="round"/>
<path d="M45.2 391.8 L46.16 392.07 L47.13 392.34 L48.1 392.58 L49.08 392.79 L50.07 392.97 L51.06 393.11 L52.05 393.23 L53.05 393.34 L54.05 393.42 L55.05 393.49 L56.05 393.54 L57.05 393.56 L58.05 393.54 L59.05 393.48 L60.04 393.37 L61.03 393.21 L62.01 393.01 L62.98 392.77 L63.94 392.5 L64.9 392.19 L65.84 391.86 L66.77 391.49 L67.7 391.1 L68.61 390.69 L69.51 390.26 L70.4 389.8 L71.28 389.31 L72.14 388.8 L72.98 388.26 L73.8 387.68 L74.59 387.07 L75.37 386.44 L76.14 385.8 L76.91 385.16 L77.67 384.5 L78.42 383.84 L79.14 383.15 L79.82 382.41 L80.45 381.64 L81.03 380.83 L81.56 379.98 L82.08 379.12 L82.58 378.26 L83.09 377.4 L83.61 376.54 L84.13 375.68 L84.63 374.81 L85.1 373.93 L85.54 373.03 L85.96 372.12 L86.36 371.2 L86.75 370.28 L87.13 369.35 L87.5 368.42 L87.87 367.49 L88.24 366.56 L88.61 365.62 L88.98 364.69 L89.35 363.76 L89.72 362.83 L90.09 361.9 L90.46 360.96 L90.82 360.03 L91.19 359.1 L91.55 358.16 L91.92 357.23 L92.29 356.3 L92.66 355.36 L93.02 354.43 L93.39 353.5 L93.76 352.57 L94.14 351.64 L94.51 350.71 L94.88 349.78 L95.26 348.85 L95.65 347.92 L96.05 347 L96.45 346.09 L96.88 345.18 L97.32 344.28 L97.78 343.39 L98.23 342.49 L98.67 341.59 L99.11 340.69 L99.55 339.79 L100 338.9 L100.47 338.02 L100.98 337.16 L101.54 336.33 L102.16 335.55 L102.84 334.84 L103.61 334.22 L104.44 333.72 L105.34 333.36 L106.28 333.18 L107.22 333.21 L108.15 333.44 L109.03 333.83 L109.88 334.35 L110.68 334.94 L111.43 335.59 L112.12 336.3 L112.75 337.07 L113.33 337.88 L113.86 338.73 L114.35 339.6 L114.82 340.49 L115.26 341.39 L115.7 342.29 L116.12 343.2 L116.55 344.11 L116.97 345.02 L117.39 345.93 L117.81 346.84 L118.23 347.75 L118.65 348.66 L119.06 349.57 L119.47 350.49 L119.88 351.4 L120.29 352.32 L120.69 353.24 L121.1 354.15 L121.51 355.07 L121.91 355.99 L122.31 356.91 L122.71 357.83 L123.1 358.75 L123.5 359.67 L123.9 360.59 L124.31 361.5 L124.73 362.41 L125.17 363.31 L125.62 364.21 L126.09 365.1 L126.56 365.98 L127.05 366.85 L127.54 367.73 L128.05 368.59 L128.57 369.45 L129.11 370.29 L129.66 371.13 L130.23 371.96 L130.81 372.77 L131.41 373.58 L132.02 374.37 L132.64 375.16 L133.27 375.94 L133.91 376.71 L134.56 377.47 L135.22 378.22 L135.9 378.97 L136.58 379.7 L137.28 380.42 L137.99 381.12 L138.72 381.8 L139.47 382.47 L140.24 383.11 L141.03 383.73 L141.84 384.32 L142.66 384.89 L143.5 385.43 L144.36 385.95 L145.23 386.45 L146.11 386.92 L147.01 387.37 L147.91 387.8 L148.83 388.21 L149.75 388.59 L150.69 388.96 L151.63 389.31 L152.57 389.64 L153.52 389.96 L154.47 390.27 L155.43 390.57 L156.39 390.86 L157.35 391.14 L158.32 391.41 L159.29 391.66 L160.26 391.89 L161.24 392.1 L162.23 392.3 L163.21 392.48 L164.2 392.66 L165.19 392.82 L166.18 392.97 L167.17 393.12 L168.17 393.25 L169.16 393.37 L170.16 393.49 L171.15 393.6 L172.15 393.71 L173.15 393.81 L174.14 393.91 L175.14 394.01 L176.14 394.11 L177.14 394.21 L178.13 394.3 L179.13 394.4 L180.13 394.49 L181.13 394.58 L182.13 394.67 L183.13 394.76 L184.13 394.84 L185.13 394.92 L186.12 395 L187.12 395.08 L188.12 395.16 L189.12 395.23 L190.12 395.31 L191.12 395.38 L192.12 395.45 L193.12 395.52 L194.12 395.59 L195.12 395.66 L196.12 395.73 L197.12 395.8 L198.12 395.86 L199.13 395.93 L200.13 395.99 L201.13 396.05 L202.13 396.1 L203.13 396.16 L204.13 396.21 L205.13 396.27 L206.13 396.32 L207.13 396.36 L208.14 396.41 L209.14 396.46 L210.14 396.51 L211.14 396.55 L212.14 396.6 L213.14 396.64 L214.14 396.69 L215.15 396.74 L216.15 396.78 L217.15 396.83 L218.15 396.88 L219.15 396.92 L220.15 396.97 L221.16 397.01 L222.16 397.06 L223.16 397.1 L224.16 397.14 L225.16 397.18 L226.16 397.23 L227.17 397.27 L228.17 397.31 L229.17 397.35 L230.17 397.38 L231.17 397.42 L232.17 397.46 L233.18 397.49 L234.18 397.53 L235.18 397.57 L236.18 397.6 L237.18 397.63 L238.19 397.66 L239.19 397.7 L240.19 397.73 L241.19 397.76 L242.2 397.79 L243.2 397.82 L244.2 397.85 L245.2 397.87 L246.2 397.9 L247.21 397.93 L248.21 397.95 L249.21 397.98 L250.21 398 L251.22 398.03 L252.22 398.05 L253.22 398.07 L254.22 398.1 L255.22 398.12 L256.23 398.14 L257.23 398.16 L258.23 398.18 L259.23 398.2 L260.24 398.23 L261.24 398.25 L262.24 398.27 L263.24 398.29 L264.25 398.31 L265.25 398.33 L266.25 398.35 L267.25 398.36 L268.26 398.38 L269.26 398.4 L270.26 398.42 L271.26 398.44 L272.27 398.46 L273.27 398.48 L274.27 398.5 L275.27 398.51 L276.28 398.53 L277.28 398.55 L278.28 398.57 L279.28 398.59 L280.28 398.6 L281.29 398.62 L282.29 398.64 L283.29 398.66 L284.29 398.67 L285.3 398.69 L286.3 398.71 L287.3 398.73 L288.3 398.74 L289.31 398.76 L290.31 398.78 L291.31 398.8 L292.31 398.81 L293.32 398.83 L294.32 398.85 L295.32 398.86 L296.32 398.88 L297.33 398.9 L298.33 398.91 L299.33 398.93 L300.33 398.95 L301.34 398.96 L302.34 398.98 L303.34 399 L304.34 399.01 L305.35 399.03 L306.35 399.05 L307.35 399.06 L308.35 399.08 L309.36 399.1 L310.36 399.11 L311.36 399.13 L312.36 399.15 L313.37 399.16 L314.37 399.18 L315.37 399.2 L316.37 399.21 L317.38 399.23 L318.38 399.25 L319.38 399.26 L320.38 399.28 L321.39 399.3 L322.39 399.31 L323.39 399.33 L324.39 399.35 L325.4 399.37 L326.4 399.38 L327.4 399.4 L327.4 399.4" fill="none" stroke="#7131a0" stroke-width="2.0" stroke-linejoin="round" stroke-linecap="round"/>
<path d="M45.3 277 L46.51 295.14 L47.72 318.81 L48.99 331.15 L50.22 336.27 L51.52 340.79 L52.83 344.65 L54.14 348.39 L55.46 350.76 L56.79 353.23 L58 355.44 L59.28 357.55 L60.58 359.7 L61.9 362.46 L63.24 364.99 L64.65 366.97 L66.13 368.45 L67.37 370.28 L68.65 372.05 L69.92 372.52 L71.16 374.96 L72.39 376.91 L73.71 378.23 L75.18 379.53 L76.38 380.01 L77.65 380.36 L78.95 382.04 L80.27 382.06 L81.61 383.44 L82.96 384.36 L84.26 384.23 L85.83 385.44 L87.21 387.7 L88.6 388.8 L90.15 389.22 L91.41 389.97 L92.71 390.74 L94.06 392.53 L95.46 392.9 L96.91 392.24 L98.4 393.46 L99.89 393.79 L101.4 393.36 L102.9 392.93 L104.4 393.25 L105.91 392.65 L107.41 392.5 L108.91 393.96 L110.41 393.5 L111.92 393.33 L113.42 393.96 L114.93 393.22 L116.43 393.89 L117.93 393.83 L119.44 392.92 L120.94 393 L122.44 393.07 L123.95 393 L125.45 393.53 L126.95 393.05 L128.46 393.3 L129.96 392.88 L131.46 394.05 L132.97 393.23 L134.47 393.39 L135.97 393.59 L137.48 394.08 L138.98 393.36 L140.48 394.11 L141.99 393.5 L143.49 393.55 L144.99 393.55 L146.5 392.8 L148 393.45 L149.5 393.08 L151.01 392.83 L152.51 394.04 L154.01 393.13 L155.52 393.61 L157.02 394.03 L158.52 393.82 L160.02 393.52 L161.53 393.86 L163.03 393.97 L164.53 394.37 L166.03 393.4 L167.54 394.13 L169.04 393.7 L170.54 393.78 L172.05 394.55 L173.55 394.19 L175.05 394.29 L176.56 394.61 L178.06 394.86 L179.56 394.18 L181.07 394.45 L182.57 394.31 L184.07 394.33 L185.58 394.62 L187.08 394.28 L188.58 394.41 L190.09 394.35 L191.59 395.06 L193.09 394.71 L194.6 394.99 L196.1 395.1 L197.6 394.09 L199.11 394.55 L200.61 395.14 L202.11 394.99 L203.62 393.95 L205.12 393.94 L206.62 394.43 L208.13 393.89 L209.63 394.15 L211.13 393.91 L212.64 394.81 L214.14 394.99 L215.64 395.17 L217.15 394.07 L218.65 394.92 L220.15 394.84 L221.66 394.07 L223.16 395.19 L224.66 395.32 L226.17 394.2 L227.67 395.31 L229.18 394.48 L230.68 394.61 L232.18 395.37 L233.69 395.14 L235.19 394.13 L236.69 394.54 L238.2 394.66 L239.7 394.39 L241.2 394.18 L242.71 394.36 L244.21 394.96 L245.71 393.91 L247.22 394.71 L248.72 394.53 L250.22 393.9 L251.73 394.36 L253.23 394.8 L254.73 394.63 L256.24 393.95 L257.74 395.33 L259.24 395.03 L260.75 395.31 L262.25 394 L263.75 394.24 L265.26 393.9 L266.76 395 L268.26 394.24 L269.77 394.02 L271.27 394.46 L272.78 395.19 L274.28 395.04 L275.78 394.2 L277.29 394.03 L278.79 395.18 L280.29 394.65 L281.8 394.84 L283.3 393.92 L284.8 393.87 L286.31 394.81 L287.81 394.41 L289.31 393.88 L290.82 395.17 L292.32 394.71 L293.82 394.96 L295.33 393.88 L296.83 395.03 L298.33 393.84 L299.84 395.03 L301.34 394.41 L302.84 394.24 L304.35 394.55 L305.85 395.11 L307.35 394.12 L308.86 393.9 L310.36 394.49 L311.86 394.06 L313.37 393.86 L314.87 393.93 L316.37 393.76 L317.88 393.98 L319.38 394.14 L320.89 394.13 L322.39 394.8 L323.89 394.1 L325.4 394.41 L326.9 393.92 L327.4 394.4" fill="none" stroke="#111111" stroke-width="1.8" stroke-linejoin="round" stroke-linecap="round"/>
<g stroke="#000" stroke-width="1.8" fill="none">
<path d="M46.1 461.9 L46.1 620.5 L323.7 620.5"/>
<path d="M42.1 620.5 H46.1"/>
<path d="M42.1 588.78 H46.1"/>
<path d="M42.1 557.06 H46.1"/>
<path d="M42.1 525.34 H46.1"/>
<path d="M42.1 493.62 H46.1"/>
<path d="M42.1 461.9 H46.1"/>
<path d="M46.1 620.5 V624"/>
<path d="M76.94 620.5 V624"/>
<path d="M107.79 620.5 V624"/>
<path d="M138.63 620.5 V624"/>
<path d="M169.48 620.5 V624"/>
<path d="M200.32 620.5 V624"/>
<path d="M231.17 620.5 V624"/>
<path d="M262.01 620.5 V624"/>
<path d="M292.86 620.5 V624"/>
<path d="M323.7 620.5 V624"/>
</g>
<text x="38.2" y="623.81" font-size="9.8" text-anchor="end" font-weight="bold" fill="#1a1a1a" stroke="#1a1a1a" stroke-width="0.3">0.0</text>
<text x="38.2" y="592.09" font-size="9.8" text-anchor="end" font-weight="bold" fill="#1a1a1a" stroke="#1a1a1a" stroke-width="0.3">0.4</text>
<text x="38.2" y="560.37" font-size="9.8" text-anchor="end" font-weight="bold" fill="#1a1a1a" stroke="#1a1a1a" stroke-width="0.3">0.8</text>
<text x="38.2" y="528.65" font-size="9.8" text-anchor="end" font-weight="bold" fill="#1a1a1a" stroke="#1a1a1a" stroke-width="0.3">1.2</text>
<text x="38.2" y="496.93" font-size="9.8" text-anchor="end" font-weight="bold" fill="#1a1a1a" stroke="#1a1a1a" stroke-width="0.3">1.6</text>
<text x="38.2" y="465.21" font-size="9.8" text-anchor="end" font-weight="bold" fill="#1a1a1a" stroke="#1a1a1a" stroke-width="0.3">2.0</text>
<text transform="translate(46.1 634.5) scale(1.03 1)" font-size="9.8" text-anchor="middle" font-weight="bold" fill="#1a1a1a" stroke="#1a1a1a" stroke-width="0.3">300</text>
<text transform="translate(76.94 634.5) scale(1.03 1)" font-size="9.8" text-anchor="middle" font-weight="bold" fill="#1a1a1a" stroke="#1a1a1a" stroke-width="0.3">350</text>
<text transform="translate(107.79 634.5) scale(1.03 1)" font-size="9.8" text-anchor="middle" font-weight="bold" fill="#1a1a1a" stroke="#1a1a1a" stroke-width="0.3">400</text>
<text transform="translate(138.63 634.5) scale(1.03 1)" font-size="9.8" text-anchor="middle" font-weight="bold" fill="#1a1a1a" stroke="#1a1a1a" stroke-width="0.3">450</text>
<text transform="translate(169.48 634.5) scale(1.03 1)" font-size="9.8" text-anchor="middle" font-weight="bold" fill="#1a1a1a" stroke="#1a1a1a" stroke-width="0.3">500</text>
<text transform="translate(200.32 634.5) scale(1.03 1)" font-size="9.8" text-anchor="middle" font-weight="bold" fill="#1a1a1a" stroke="#1a1a1a" stroke-width="0.3">550</text>
<text transform="translate(231.17 634.5) scale(1.03 1)" font-size="9.8" text-anchor="middle" font-weight="bold" fill="#1a1a1a" stroke="#1a1a1a" stroke-width="0.3">600</text>
<text transform="translate(262.01 634.5) scale(1.03 1)" font-size="9.8" text-anchor="middle" font-weight="bold" fill="#1a1a1a" stroke="#1a1a1a" stroke-width="0.3">650</text>
<text transform="translate(292.86 634.5) scale(1.03 1)" font-size="9.8" text-anchor="middle" font-weight="bold" fill="#1a1a1a" stroke="#1a1a1a" stroke-width="0.3">700</text>
<text transform="translate(323.7 634.5) scale(1.03 1)" font-size="9.8" text-anchor="middle" font-weight="bold" fill="#1a1a1a" stroke="#1a1a1a" stroke-width="0.3">750</text>
<text x="69.8" y="451.5" font-size="20" text-anchor="start" font-weight="normal" fill="#111">e.</text>
<text transform="translate(15.5 536.9) rotate(-90)" font-size="15.4" text-anchor="middle" font-weight="normal" fill="#111">Absorbance</text>
<path d="M46.3 497 L47.51 511.2 L48.73 517 L50.09 521.71 L51.42 524.53 L52.75 529.07 L54.11 531.98 L55.35 534.06 L56.69 537.27 L58.11 540.74 L59.36 541.43 L60.64 544.86 L61.96 546.29 L63.33 548.5 L64.75 551.18 L66.24 552.4 L67.48 554.18 L68.77 556.03 L70.12 558.04 L71.52 558.32 L72.95 560.61 L74.38 561.79 L75.81 563.06 L77.23 564.06 L78.65 565.38 L80.06 566.27 L81.48 567.82 L82.9 569.13 L84.32 571.75 L85.74 572.3 L87.15 573.55 L88.56 574.83 L89.94 577.65 L91.33 579.14 L92.83 580.09 L94.08 580.2 L95.43 580.74 L96.85 581.3 L98.31 581.95 L99.78 581.67 L101.27 582.38 L102.77 582.22 L104.26 583.64 L105.76 583.83 L107.25 583.22 L108.74 582.84 L110.24 584.3 L111.73 583.27 L113.23 583.51 L114.72 583.03 L116.22 583.86 L117.72 584.17 L119.21 584.37 L120.71 583.97 L122.2 584.66 L123.7 583.91 L125.2 584.52 L126.69 584.35 L128.19 585.06 L129.68 584.56 L131.18 584.67 L132.68 585.32 L134.17 585.34 L135.67 586.14 L137.16 586.21 L138.65 586.78 L140.15 586.77 L141.64 587.01 L143.14 587.41 L144.64 586.59 L146.15 586.5 L147.65 587.67 L149.15 586.13 L150.66 587.13 L152.16 586.94 L153.66 585.84 L155.16 587.26 L156.66 587.41 L158.15 587.08 L159.59 587.6 L160.96 588.3 L162.28 587.79 L163.62 589.1 L165.04 589.44 L166.52 590.19 L168.02 590.15 L169.52 590.15 L171.02 589.65 L172.53 590.15 L174.03 589.76 L175.52 589.87 L177 589.23 L178.48 589.11 L179.97 589.48 L181.47 590 L182.97 589.62 L184.47 590.99 L185.98 590.53 L187.48 590.7 L188.98 590.73 L190.48 590.85 L191.99 590.54 L193.49 589.69 L194.99 591.15 L196.49 591.09 L198 590.68 L199.5 590.77 L201 591.03 L202.51 589.99 L204.01 591.24 L205.51 590.41 L207.01 590.14 L208.52 590.53 L210.02 591.42 L211.52 590.53 L213.02 591.55 L214.52 592.04 L216.03 591.24 L217.53 591.11 L219.03 591.36 L220.53 591.8 L222.03 592.02 L223.53 591.82 L225.03 591.95 L226.54 591 L228.04 591.2 L229.54 591.47 L231.04 592.43 L232.54 591.71 L234.04 592.26 L235.54 591.33 L237.04 591.49 L238.55 591.93 L240.05 592.72 L241.55 592.83 L243.05 592.86 L244.55 592.23 L246.06 592.69 L247.56 592.65 L249.06 592.71 L250.56 592.13 L252.06 593.57 L253.57 592.36 L255.07 593.8 L256.57 593.76 L258.08 592.14 L259.58 592.96 L261.08 593.64 L262.58 593.94 L264.09 593.03 L265.59 592.73 L267.09 592.64 L268.6 593.99 L270.1 592.69 L271.6 593.37 L273.11 592.6 L274.61 593.31 L276.11 594.1 L277.61 592.65 L279.12 593.9 L280.62 593.36 L282.12 594.06 L283.63 593.76 L285.13 592.93 L286.63 594.16 L288.14 593.44 L289.64 592.64 L291.14 592.63 L292.64 593.54 L294.15 593.5 L295.65 593.26 L297.15 593.01 L298.65 593.41 L300.16 593.39 L301.66 594.37 L303.16 592.9 L304.67 594.28 L306.17 594.48 L307.67 593.22 L309.17 594.71 L310.68 594.36 L312.18 594.74 L313.68 593.67 L315.18 593.86 L316.69 593.93 L318.19 595.06 L319.69 594.36 L321.2 593.99 L322.7 594.15 L323.7 594.3" fill="none" stroke="#111111" stroke-width="1.8" stroke-linejoin="round" stroke-linecap="round"/>
<path d="M45.9 474 L47.13 494.23 L48.36 507.42 L49.57 517.94 L50.79 527.24 L52.1 532.96 L53.43 538.04 L54.68 540.49 L55.89 543.26 L57.22 546.25 L58.43 548.05 L59.73 550.41 L61.12 553.2 L62.59 555.13 L63.86 556.6 L65.22 557.85 L66.68 559.55 L68.23 560.86 L69.83 561.58 L71.08 562.62 L72.38 562.53 L73.77 563.85 L75.22 563.74 L76.71 564.07 L78.19 563.75 L79.67 563.07 L81.15 562.54 L82.64 563.37 L84.11 562.13 L85.55 562.15 L86.96 561.49 L88.33 560.84 L89.64 560.64 L90.84 560.05 L92.25 557.79 L93.72 556.26 L95 553.68 L96.33 551.3 L97.54 548.35 L98.86 545.38 L100.08 543.19 L101.35 541.08 L102.65 539.78 L103.99 537.18 L105.37 534.76 L106.84 533.56 L108.15 532.16 L109.67 530.24 L110.96 529.12 L112.33 528.66 L113.76 528.32 L115.16 528.83 L116.43 529.18 L117.85 530.71 L119.28 532.77 L120.48 535.34 L121.77 538.43 L123.15 541.49 L124.46 544.34 L125.7 547.62 L126.96 551.02 L128.31 554.08 L129.58 556.76 L130.89 559.13 L132.15 562.12 L133.5 566.18 L134.83 568.41 L136.08 571.6 L137.28 573.94 L138.61 576.35 L139.99 577.66 L141.39 579.8 L142.85 581.81 L144.12 583.53 L145.5 585.04 L146.96 587.02 L148.48 588.19 L150.06 589.45 L151.28 589.3 L152.54 590.14 L153.82 591.74 L155.11 592.73 L156.41 592.98 L157.71 593.87 L159.02 593.9 L160.35 595.07 L161.71 596.34 L163.1 596.78 L164.52 597.3 L165.95 597.89 L167.4 597.43 L168.85 597.67 L170.3 598.11 L171.76 598.92 L173.22 599.44 L174.69 600.05 L176.17 600.05 L177.66 600.19 L179.15 600.52 L180.64 600.31 L182.13 600.57 L183.63 600.11 L185.13 601.14 L186.62 600.62 L188.12 601.58 L189.62 601.38 L191.11 601.1 L192.61 601.01 L194.11 601.27 L195.61 601.84 L197.11 602.03 L198.6 601.43 L200.1 601.49 L201.6 602.14 L203.1 602.32 L204.6 602.2 L206.1 602.11 L207.6 602.67 L209.1 602.07 L210.59 602.53 L212.09 602.83 L213.59 603.54 L215.09 603.27 L216.59 603.66 L218.09 603.28 L219.59 603.1 L221.09 603.22 L222.58 604.18 L224.08 603.98 L225.58 603.6 L227.08 603.36 L228.58 604.04 L230.08 604.35 L231.58 604.14 L233.08 604.04 L234.58 604.63 L236.08 605.04 L237.58 604.29 L239.08 604.15 L240.58 604.61 L242.08 604.79 L243.58 605.19 L245.08 604.69 L246.58 605.49 L248.08 605.49 L249.58 605.28 L251.08 604.99 L252.58 605.97 L254.09 605.23 L255.59 605.9 L257.09 605.24 L258.59 605.27 L260.09 605.95 L261.6 605.43 L263.1 606.25 L264.6 605.73 L266.1 605.39 L267.6 605.46 L269.11 605.71 L270.61 606.02 L272.11 606.38 L273.62 605.43 L275.12 605.74 L276.62 605.53 L278.12 606.46 L279.63 605.47 L281.13 605.37 L282.63 605.39 L284.13 605.81 L285.64 606.43 L287.14 606.43 L288.64 606.26 L290.14 606.6 L291.65 606.54 L293.15 605.84 L294.65 605.69 L296.15 606.61 L297.66 606.4 L299.16 605.56 L300.66 606.34 L302.16 606.01 L303.67 606.03 L305.17 605.99 L306.67 605.82 L308.17 605.63 L309.68 605.98 L311.18 606.09 L312.68 606.83 L314.18 605.84 L315.69 606.87 L317.19 605.98 L318.69 606.17 L320.19 606.75 L321.7 606.76 L323.2 606.31 L323.7 606.4" fill="none" stroke="#e41a1c" stroke-width="2.0" stroke-linejoin="round" stroke-linecap="round"/>
<path d="M46 492 L46.04 493 L46.08 494 L46.12 495 L46.16 496 L46.19 497 L46.23 498.01 L46.27 499.01 L46.31 500.01 L46.35 501.01 L46.39 502.01 L46.43 503.01 L46.47 504.01 L46.51 505.01 L46.55 506.01 L46.59 507.01 L46.64 508.01 L46.68 509.01 L46.73 510.02 L46.78 511.02 L46.83 512.02 L46.89 513.02 L46.94 514.02 L47.01 515.02 L47.07 516.02 L47.15 517.01 L47.22 518.01 L47.3 519.01 L47.39 520.01 L47.48 521.01 L47.57 522 L47.67 523 L47.77 524 L47.88 524.99 L48 525.99 L48.12 526.98 L48.24 527.98 L48.37 528.97 L48.5 529.96 L48.64 530.96 L48.78 531.95 L48.93 532.94 L49.09 533.93 L49.25 534.91 L49.42 535.9 L49.61 536.89 L49.8 537.87 L50.01 538.85 L50.23 539.82 L50.47 540.8 L50.71 541.77 L50.97 542.74 L51.24 543.7 L51.53 544.66 L51.84 545.61 L52.16 546.56 L52.5 547.5 L52.86 548.43 L53.25 549.35 L53.68 550.26 L54.14 551.14 L54.65 552.01 L55.19 552.85 L55.76 553.67 L56.34 554.49 L56.92 555.3 L57.5 556.12 L58.07 556.94 L58.63 557.77 L59.2 558.6 L59.76 559.43 L60.32 560.25 L60.89 561.08 L61.46 561.9 L62.04 562.72 L62.63 563.53 L63.22 564.34 L63.82 565.14 L64.44 565.92 L65.08 566.7 L65.73 567.46 L66.4 568.21 L67.08 568.94 L67.77 569.66 L68.49 570.36 L69.22 571.04 L69.97 571.7 L70.74 572.34 L71.54 572.94 L72.36 573.52 L73.2 574.05 L74.07 574.55 L74.96 575 L75.87 575.42 L76.79 575.81 L77.72 576.17 L78.66 576.52 L79.61 576.85 L80.55 577.18 L81.5 577.52 L82.44 577.86 L83.37 578.21 L84.31 578.56 L85.26 578.9 L86.2 579.23 L87.16 579.53 L88.12 579.8 L89.09 580.04 L90.07 580.24 L91.05 580.35 L92.03 580.35 L92.99 580.2 L93.91 579.9 L94.8 579.47 L95.65 578.96 L96.47 578.4 L97.27 577.8 L98.06 577.18 L98.85 576.56 L99.66 575.97 L100.48 575.41 L101.32 574.86 L102.14 574.3 L102.91 573.68 L103.64 573 L104.31 572.26 L104.94 571.49 L105.57 570.71 L106.21 569.95 L106.9 569.23 L107.63 568.55 L108.4 567.93 L109.22 567.35 L110.07 566.83 L110.95 566.4 L111.87 566.08 L112.81 565.95 L113.75 566.02 L114.66 566.29 L115.52 566.73 L116.33 567.3 L117.07 567.96 L117.76 568.68 L118.41 569.43 L119.03 570.22 L119.63 571.02 L120.2 571.84 L120.76 572.68 L121.29 573.52 L121.81 574.38 L122.32 575.24 L122.82 576.1 L123.33 576.97 L123.86 577.82 L124.39 578.67 L124.94 579.51 L125.49 580.34 L126.04 581.18 L126.61 582 L127.18 582.83 L127.76 583.65 L128.34 584.46 L128.93 585.27 L129.52 586.08 L130.11 586.89 L130.71 587.69 L131.31 588.49 L131.92 589.29 L132.54 590.07 L133.16 590.86 L133.8 591.63 L134.45 592.39 L135.12 593.14 L135.8 593.87 L136.49 594.59 L137.2 595.3 L137.93 595.99 L138.66 596.67 L139.4 597.34 L140.16 598 L140.93 598.64 L141.7 599.27 L142.5 599.88 L143.31 600.46 L144.15 601.01 L145 601.54 L145.87 602.03 L146.76 602.49 L147.66 602.93 L148.57 603.35 L149.48 603.76 L150.4 604.16 L151.32 604.55 L152.25 604.92 L153.19 605.28 L154.13 605.63 L155.07 605.95 L156.02 606.26 L156.98 606.56 L157.94 606.84 L158.91 607.1 L159.88 607.36 L160.85 607.61 L161.82 607.85 L162.79 608.08 L163.77 608.31 L164.74 608.54 L165.72 608.77 L166.7 608.99 L167.67 609.22 L168.65 609.44 L169.63 609.65 L170.61 609.85 L171.59 610.04 L172.58 610.22 L173.57 610.38 L174.56 610.52 L175.55 610.66 L176.54 610.78 L177.54 610.9 L178.53 611.01 L179.53 611.11 L180.53 611.2 L181.53 611.29 L182.52 611.38 L183.52 611.46 L184.52 611.54 L185.52 611.61 L186.52 611.68 L187.52 611.75 L188.52 611.81 L189.52 611.87 L190.52 611.92 L191.52 611.98 L192.52 612.03 L193.52 612.07 L194.52 612.11 L195.52 612.15 L196.52 612.19 L197.52 612.22 L198.52 612.25 L199.53 612.28 L200.53 612.31 L201.53 612.34 L202.53 612.37 L203.53 612.4 L204.53 612.43 L205.53 612.46 L206.53 612.49 L207.54 612.52 L208.54 612.55 L209.54 612.59 L210.54 612.62 L211.54 612.65 L212.54 612.69 L213.54 612.72 L214.54 612.76 L215.54 612.79 L216.55 612.83 L217.55 612.86 L218.55 612.9 L219.55 612.93 L220.55 612.97 L221.55 613 L222.55 613.04 L223.55 613.07 L224.55 613.11 L225.56 613.14 L226.56 613.17 L227.56 613.21 L228.56 613.24 L229.56 613.28 L230.56 613.31 L231.56 613.34 L232.56 613.38 L233.56 613.41 L234.57 613.44 L235.57 613.48 L236.57 613.51 L237.57 613.54 L238.57 613.57 L239.57 613.6 L240.57 613.63 L241.57 613.66 L242.57 613.69 L243.58 613.72 L244.58 613.75 L245.58 613.78 L246.58 613.81 L247.58 613.84 L248.58 613.86 L249.58 613.89 L250.59 613.91 L251.59 613.94 L252.59 613.96 L253.59 613.98 L254.59 614.01 L255.59 614.03 L256.59 614.05 L257.6 614.07 L258.6 614.09 L259.6 614.11 L260.6 614.13 L261.6 614.15 L262.6 614.17 L263.6 614.19 L264.61 614.21 L265.61 614.22 L266.61 614.24 L267.61 614.26 L268.61 614.28 L269.61 614.29 L270.62 614.31 L271.62 614.33 L272.62 614.34 L273.62 614.36 L274.62 614.37 L275.62 614.39 L276.62 614.4 L277.63 614.42 L278.63 614.43 L279.63 614.45 L280.63 614.46 L281.63 614.48 L282.63 614.49 L283.64 614.51 L284.64 614.52 L285.64 614.54 L286.64 614.55 L287.64 614.57 L288.64 614.58 L289.65 614.59 L290.65 614.61 L291.65 614.62 L292.65 614.64 L293.65 614.65 L294.65 614.67 L295.65 614.68 L296.66 614.69 L297.66 614.7 L298.66 614.72 L299.66 614.73 L300.66 614.74 L301.66 614.75 L302.67 614.77 L303.67 614.78 L304.67 614.79 L305.67 614.8 L306.67 614.81 L307.67 614.82 L308.68 614.84 L309.68 614.85 L310.68 614.86 L311.68 614.87 L312.68 614.88 L313.68 614.89 L314.69 614.9 L315.69 614.91 L316.69 614.92 L317.69 614.93 L318.69 614.94 L319.69 614.96 L320.7 614.97 L321.7 614.98 L322.7 614.99 L323.7 615 L323.7 615" fill="none" stroke="#f2b824" stroke-width="2.0" stroke-linejoin="round" stroke-linecap="round"/>
<path d="M46 500 L46.05 501 L46.09 502 L46.14 503.01 L46.18 504.01 L46.23 505.01 L46.27 506.01 L46.31 507.01 L46.36 508.01 L46.41 509.02 L46.45 510.02 L46.5 511.02 L46.55 512.02 L46.6 513.02 L46.65 514.02 L46.7 515.03 L46.76 516.03 L46.81 517.03 L46.88 518.03 L46.94 519.03 L47.01 520.03 L47.08 521.03 L47.16 522.03 L47.23 523.03 L47.32 524.03 L47.4 525.03 L47.49 526.03 L47.59 527.03 L47.68 528.02 L47.79 529.02 L47.89 530.02 L48 531.02 L48.12 532.01 L48.24 533.01 L48.37 534 L48.51 534.99 L48.65 535.99 L48.8 536.98 L48.97 537.97 L49.14 538.96 L49.32 539.94 L49.52 540.92 L49.74 541.9 L49.97 542.88 L50.21 543.85 L50.47 544.82 L50.75 545.78 L51.04 546.74 L51.35 547.69 L51.68 548.64 L52.03 549.58 L52.4 550.51 L52.8 551.43 L53.22 552.34 L53.67 553.24 L54.15 554.11 L54.66 554.97 L55.21 555.81 L55.78 556.63 L56.37 557.45 L56.95 558.26 L57.54 559.07 L58.13 559.88 L58.72 560.7 L59.3 561.51 L59.89 562.32 L60.48 563.14 L61.07 563.94 L61.67 564.75 L62.28 565.55 L62.89 566.34 L63.51 567.13 L64.14 567.91 L64.79 568.68 L65.44 569.43 L66.11 570.18 L66.79 570.92 L67.48 571.64 L68.18 572.36 L68.9 573.06 L69.64 573.73 L70.4 574.38 L71.19 575 L72 575.58 L72.85 576.12 L73.72 576.6 L74.63 577.02 L75.55 577.39 L76.5 577.72 L77.46 578.01 L78.42 578.28 L79.39 578.55 L80.35 578.82 L81.31 579.11 L82.26 579.43 L83.2 579.77 L84.13 580.14 L85.06 580.53 L85.96 580.96 L86.85 581.42 L87.71 581.92 L88.53 582.49 L89.32 583.1 L90.09 583.74 L90.86 584.36 L91.67 584.88 L92.52 585.22 L93.42 585.32 L94.34 585.17 L95.25 584.85 L96.15 584.44 L97.06 584 L97.95 583.55 L98.84 583.09 L99.72 582.61 L100.58 582.09 L101.41 581.54 L102.21 580.94 L102.99 580.32 L103.77 579.68 L104.55 579.07 L105.37 578.5 L106.23 578.01 L107.14 577.6 L108.07 577.26 L109.04 577 L110.01 576.83 L111 576.74 L111.99 576.77 L112.96 576.92 L113.92 577.18 L114.84 577.53 L115.75 577.95 L116.62 578.44 L117.46 578.98 L118.26 579.57 L119.05 580.18 L119.83 580.82 L120.59 581.47 L121.35 582.13 L122.1 582.79 L122.85 583.46 L123.59 584.14 L124.32 584.82 L125.05 585.51 L125.77 586.2 L126.5 586.9 L127.23 587.58 L127.97 588.26 L128.73 588.91 L129.51 589.54 L130.31 590.14 L131.13 590.71 L131.98 591.25 L132.83 591.76 L133.7 592.26 L134.58 592.74 L135.47 593.21 L136.36 593.67 L137.26 594.11 L138.17 594.54 L139.08 594.96 L140 595.36 L140.92 595.75 L141.85 596.12 L142.79 596.48 L143.73 596.82 L144.68 597.16 L145.63 597.48 L146.58 597.8 L147.53 598.12 L148.48 598.42 L149.44 598.72 L150.4 599 L151.37 599.28 L152.33 599.55 L153.3 599.81 L154.27 600.05 L155.25 600.28 L156.23 600.5 L157.21 600.71 L158.19 600.91 L159.18 601.1 L160.16 601.28 L161.15 601.46 L162.13 601.65 L163.12 601.83 L164.11 602.01 L165.09 602.19 L166.08 602.38 L167.06 602.56 L168.05 602.74 L169.04 602.92 L170.02 603.1 L171.01 603.28 L172 603.46 L172.98 603.64 L173.97 603.82 L174.95 604.01 L175.94 604.2 L176.92 604.41 L177.9 604.61 L178.89 604.79 L179.88 604.95 L180.87 605.07 L181.87 605.17 L182.87 605.26 L183.87 605.33 L184.87 605.4 L185.87 605.46 L186.87 605.51 L187.87 605.56 L188.87 605.6 L189.87 605.64 L190.88 605.68 L191.88 605.72 L192.88 605.76 L193.88 605.79 L194.89 605.83 L195.89 605.86 L196.89 605.89 L197.89 605.93 L198.89 605.96 L199.9 606 L200.9 606.03 L201.9 606.06 L202.9 606.1 L203.91 606.13 L204.91 606.16 L205.91 606.2 L206.91 606.23 L207.91 606.26 L208.92 606.29 L209.92 606.33 L210.92 606.36 L211.92 606.39 L212.93 606.42 L213.93 606.45 L214.93 606.48 L215.93 606.52 L216.94 606.55 L217.94 606.58 L218.94 606.61 L219.94 606.64 L220.94 606.67 L221.95 606.7 L222.95 606.73 L223.95 606.76 L224.95 606.79 L225.96 606.82 L226.96 606.85 L227.96 606.88 L228.96 606.91 L229.97 606.94 L230.97 606.97 L231.97 607 L232.97 607.03 L233.98 607.06 L234.98 607.08 L235.98 607.11 L236.98 607.14 L237.99 607.17 L238.99 607.2 L239.99 607.23 L240.99 607.25 L242 607.28 L243 607.31 L244 607.34 L245 607.36 L246 607.39 L247.01 607.42 L248.01 607.45 L249.01 607.47 L250.01 607.5 L251.02 607.53 L252.02 607.55 L253.02 607.58 L254.02 607.61 L255.03 607.63 L256.03 607.66 L257.03 607.68 L258.03 607.71 L259.04 607.73 L260.04 607.76 L261.04 607.78 L262.04 607.81 L263.05 607.84 L264.05 607.86 L265.05 607.89 L266.05 607.91 L267.06 607.94 L268.06 607.96 L269.06 607.98 L270.06 608.01 L271.07 608.03 L272.07 608.06 L273.07 608.08 L274.07 608.11 L275.08 608.13 L276.08 608.16 L277.08 608.18 L278.08 608.21 L279.09 608.23 L280.09 608.25 L281.09 608.28 L282.09 608.3 L283.1 608.33 L284.1 608.35 L285.1 608.38 L286.1 608.4 L287.11 608.42 L288.11 608.45 L289.11 608.47 L290.12 608.5 L291.12 608.52 L292.12 608.55 L293.12 608.57 L294.13 608.59 L295.13 608.62 L296.13 608.64 L297.13 608.67 L298.14 608.69 L299.14 608.71 L300.14 608.74 L301.14 608.76 L302.15 608.78 L303.15 608.81 L304.15 608.83 L305.15 608.86 L306.16 608.88 L307.16 608.9 L308.16 608.93 L309.16 608.95 L310.17 608.98 L311.17 609 L312.17 609.02 L313.17 609.05 L314.18 609.07 L315.18 609.1 L316.18 609.12 L317.18 609.14 L318.19 609.17 L319.19 609.19 L320.19 609.22 L321.19 609.24 L322.2 609.26 L323.2 609.29 L323.7 609.3" fill="none" stroke="#1f72b5" stroke-width="2.0" stroke-linejoin="round" stroke-linecap="round"/>
<path d="M45.9 509.6 L45.97 510.6 L46.03 511.6 L46.09 512.6 L46.16 513.6 L46.22 514.6 L46.28 515.6 L46.35 516.6 L46.41 517.6 L46.47 518.6 L46.54 519.6 L46.61 520.59 L46.68 521.59 L46.75 522.59 L46.83 523.59 L46.9 524.59 L46.99 525.59 L47.08 526.59 L47.17 527.58 L47.28 528.58 L47.39 529.57 L47.52 530.57 L47.66 531.56 L47.81 532.55 L47.98 533.53 L48.18 534.52 L48.39 535.49 L48.63 536.47 L48.88 537.44 L49.15 538.4 L49.43 539.36 L49.72 540.32 L50.01 541.28 L50.31 542.23 L50.62 543.19 L50.93 544.14 L51.24 545.09 L51.57 546.04 L51.91 546.98 L52.26 547.92 L52.61 548.85 L52.99 549.78 L53.37 550.71 L53.78 551.62 L54.21 552.53 L54.66 553.42 L55.14 554.3 L55.64 555.16 L56.17 556.01 L56.73 556.84 L57.3 557.67 L57.88 558.48 L58.46 559.3 L59.05 560.11 L59.63 560.92 L60.2 561.75 L60.76 562.58 L61.3 563.42 L61.84 564.26 L62.37 565.11 L62.89 565.97 L63.42 566.82 L63.96 567.67 L64.5 568.5 L65.07 569.33 L65.66 570.13 L66.29 570.91 L66.96 571.65 L67.68 572.33 L68.45 572.96 L69.27 573.53 L70.12 574.04 L71 574.51 L71.9 574.96 L72.8 575.4 L73.71 575.82 L74.62 576.24 L75.53 576.65 L76.45 577.04 L77.38 577.43 L78.3 577.81 L79.23 578.18 L80.16 578.55 L81.09 578.92 L82.02 579.29 L82.96 579.66 L83.89 580.02 L84.83 580.37 L85.77 580.72 L86.71 581.06 L87.66 581.38 L88.61 581.7 L89.56 581.98 L90.52 582.19 L91.49 582.29 L92.46 582.23 L93.42 582.02 L94.35 581.71 L95.27 581.33 L96.19 580.92 L97.1 580.51 L98.01 580.1 L98.93 579.68 L99.84 579.27 L100.75 578.85 L101.65 578.43 L102.56 578.01 L103.48 577.62 L104.42 577.28 L105.38 577.01 L106.35 576.82 L107.34 576.71 L108.33 576.66 L109.33 576.7 L110.31 576.81 L111.29 577.01 L112.25 577.28 L113.19 577.61 L114.12 577.97 L115.04 578.37 L115.93 578.81 L116.81 579.29 L117.65 579.82 L118.47 580.4 L119.26 581.01 L120.03 581.65 L120.8 582.28 L121.59 582.91 L122.39 583.51 L123.21 584.07 L124.06 584.6 L124.92 585.1 L125.8 585.58 L126.69 586.05 L127.57 586.52 L128.45 587 L129.32 587.49 L130.18 588.01 L131.03 588.54 L131.86 589.1 L132.69 589.66 L133.52 590.22 L134.35 590.79 L135.18 591.34 L136.02 591.88 L136.88 592.4 L137.75 592.9 L138.62 593.38 L139.51 593.84 L140.41 594.29 L141.31 594.72 L142.22 595.14 L143.14 595.54 L144.06 595.93 L144.99 596.31 L145.92 596.68 L146.85 597.04 L147.79 597.39 L148.73 597.74 L149.67 598.07 L150.62 598.4 L151.57 598.72 L152.52 599.03 L153.48 599.33 L154.44 599.62 L155.4 599.9 L156.36 600.17 L157.33 600.44 L158.3 600.69 L159.27 600.94 L160.24 601.17 L161.22 601.4 L162.19 601.61 L163.17 601.81 L164.16 602 L165.15 602.17 L166.14 602.32 L167.13 602.45 L168.12 602.57 L169.12 602.68 L170.11 602.77 L171.11 602.86 L172.11 602.95 L173.11 603.04 L174.11 603.12 L175.1 603.22 L176.1 603.31 L177.1 603.4 L178.1 603.49 L179.09 603.58 L180.09 603.66 L181.09 603.73 L182.09 603.81 L183.09 603.88 L184.09 603.96 L185.09 604.04 L186.08 604.11 L187.08 604.19 L188.08 604.26 L189.08 604.33 L190.08 604.4 L191.08 604.47 L192.08 604.53 L193.08 604.6 L194.08 604.66 L195.08 604.72 L196.08 604.78 L197.08 604.84 L198.08 604.89 L199.08 604.95 L200.08 605 L201.08 605.06 L202.08 605.12 L203.08 605.17 L204.08 605.23 L205.08 605.29 L206.08 605.35 L207.08 605.41 L208.08 605.47 L209.08 605.53 L210.08 605.58 L211.08 605.64 L212.08 605.7 L213.08 605.76 L214.08 605.82 L215.08 605.88 L216.08 605.94 L217.08 605.99 L218.08 606.05 L219.08 606.11 L220.08 606.16 L221.08 606.22 L222.08 606.27 L223.08 606.33 L224.08 606.38 L225.08 606.43 L226.08 606.49 L227.08 606.54 L228.08 606.59 L229.08 606.64 L230.08 606.69 L231.08 606.74 L232.08 606.79 L233.08 606.83 L234.08 606.88 L235.08 606.93 L236.08 606.97 L237.08 607.01 L238.08 607.06 L239.08 607.1 L240.08 607.14 L241.09 607.18 L242.09 607.22 L243.09 607.26 L244.09 607.3 L245.09 607.33 L246.09 607.37 L247.09 607.4 L248.09 607.43 L249.09 607.47 L250.09 607.5 L251.1 607.53 L252.1 607.56 L253.1 607.58 L254.1 607.61 L255.1 607.64 L256.1 607.67 L257.1 607.69 L258.1 607.71 L259.11 607.74 L260.11 607.76 L261.11 607.78 L262.11 607.81 L263.11 607.83 L264.11 607.85 L265.11 607.87 L266.11 607.89 L267.12 607.91 L268.12 607.93 L269.12 607.95 L270.12 607.97 L271.12 607.99 L272.12 608.01 L273.12 608.03 L274.13 608.04 L275.13 608.06 L276.13 608.08 L277.13 608.1 L278.13 608.11 L279.13 608.13 L280.13 608.15 L281.14 608.16 L282.14 608.18 L283.14 608.2 L284.14 608.21 L285.14 608.23 L286.14 608.25 L287.15 608.26 L288.15 608.28 L289.15 608.29 L290.15 608.31 L291.15 608.32 L292.15 608.34 L293.15 608.35 L294.16 608.37 L295.16 608.38 L296.16 608.4 L297.16 608.41 L298.16 608.43 L299.16 608.44 L300.16 608.46 L301.17 608.47 L302.17 608.49 L303.17 608.5 L304.17 608.51 L305.17 608.53 L306.17 608.54 L307.18 608.56 L308.18 608.57 L309.18 608.58 L310.18 608.6 L311.18 608.61 L312.18 608.63 L313.18 608.64 L314.19 608.66 L315.19 608.67 L316.19 608.68 L317.19 608.7 L318.19 608.71 L319.19 608.73 L320.19 608.74 L321.2 608.76 L322.2 608.78 L323.2 608.79 L323.7 608.8" fill="none" stroke="#7131a0" stroke-width="2.0" stroke-linejoin="round" stroke-linecap="round"/>
<path d="M45.9 488.7 L47.31 512.95 L48.73 525.66 L50.19 535.01 L51.6 542.21 L53.07 547.09 L54.56 551.45 L55.97 554.98 L57.62 557.56 L59.23 560.32 L60.7 562.59 L62.21 564.56 L63.73 566.12 L65.22 568.13 L66.66 570.2 L68.07 572.79 L69.48 574.47 L70.92 576.81 L72.44 578.9 L74.06 580.47 L75.8 582.23 L77.25 584.03 L78.71 585.19 L80.17 586.36 L81.58 588.05 L83.31 589.63 L85.03 591.43 L86.43 592.69 L87.91 594.49 L89.51 595.79 L91.24 596.62 L93.06 597.62 L94.47 597.58 L95.92 598.08 L97.39 598.41 L98.89 598.72 L100.39 598.65 L101.89 598.17 L103.38 597.9 L104.86 597.76 L106.34 597.52 L107.81 597.52 L109.3 596.89 L110.79 597.24 L112.27 597.38 L113.73 597.76 L115.17 598.14 L116.62 598.44 L118.08 598.64 L119.54 598.98 L121.01 599.35 L122.47 599.96 L123.92 599.94 L125.35 600.47 L126.77 601.3 L128.17 601.54 L130.02 602.2 L131.85 602.99 L133.7 604.07 L135.12 604.44 L136.55 605.29 L137.99 605.65 L139.44 606.14 L140.87 606.15 L142.31 606.49 L143.75 606.92 L145.21 607.54 L146.67 608.02 L148.13 608.2 L149.6 608.41 L151.07 608.84 L152.54 609.27 L154.02 609.6 L155.49 609.93 L156.97 610.27 L158.45 610.43 L159.93 610.35 L161.42 611.03 L162.9 610.93 L164.39 611.3 L165.89 611.37 L167.38 611.76 L168.88 611.59 L170.37 611.76 L171.87 611.89 L173.37 611.96 L174.87 612.53 L176.37 612.49 L177.86 612.49 L179.36 612.64 L180.86 613.06 L182.37 612.78 L183.87 612.6 L185.37 612.89 L186.87 612.73 L188.38 612.87 L189.88 612.28 L191.38 612.47 L192.89 612.65 L194.39 612.65 L195.9 612.7 L197.4 612.19 L198.9 612.36 L200.41 612.29 L201.91 612.37 L203.41 612.88 L204.92 612.69 L206.42 612.95 L207.92 612.66 L209.43 613.01 L210.93 612.82 L212.43 612.76 L213.94 613.13 L215.44 613.28 L216.94 612.84 L218.45 613.19 L219.95 613.26 L221.45 613.08 L222.95 613.23 L224.46 613.16 L225.96 613.25 L227.46 613.34 L228.97 613.61 L230.47 613.7 L231.97 613.49 L233.47 613.43 L234.98 613.68 L236.48 613.95 L237.98 613.71 L239.49 613.84 L240.99 613.83 L242.49 614.24 L244 614.14 L245.5 613.9 L247 613.97 L248.51 614.19 L250.01 614.33 L251.51 614.42 L253.02 614.13 L254.52 614.21 L256.02 614.57 L257.53 614.43 L259.03 614.39 L260.53 614.44 L262.04 614.85 L263.54 614.5 L265.05 614.68 L266.55 614.58 L268.05 614.64 L269.56 614.93 L271.06 615.04 L272.57 614.68 L274.07 614.6 L275.57 614.94 L277.08 614.65 L278.58 614.55 L280.09 615.1 L281.59 614.84 L283.09 615.1 L284.6 614.87 L286.1 615.17 L287.6 614.94 L289.11 614.78 L290.61 614.72 L292.12 615.06 L293.62 615.14 L295.12 615.32 L296.63 614.84 L298.13 615.18 L299.64 615.05 L301.14 615.15 L302.64 614.95 L304.15 615.05 L305.65 615.21 L307.16 615.47 L308.66 615 L310.16 615.25 L311.67 615.45 L313.17 615.57 L314.68 615.12 L316.18 615.09 L317.68 615.6 L319.19 615.64 L320.69 615.36 L322.2 615.12 L323.7 615.66 L323.7 615.4" fill="none" stroke="#1ca85a" stroke-width="2.0" stroke-linejoin="round" stroke-linecap="round"/>
<g stroke="#000" stroke-width="1.8" fill="none">
<path d="M46.6 678 L46.6 836.8 L323.7 836.8"/>
<path d="M42.6 836.8 H46.6"/>
<path d="M42.6 805.04 H46.6"/>
<path d="M42.6 773.28 H46.6"/>
<path d="M42.6 741.52 H46.6"/>
<path d="M42.6 709.76 H46.6"/>
<path d="M42.6 678 H46.6"/>
<path d="M46.6 836.8 V840.3"/>
<path d="M77.39 836.8 V840.3"/>
<path d="M108.18 836.8 V840.3"/>
<path d="M138.97 836.8 V840.3"/>
<path d="M169.76 836.8 V840.3"/>
<path d="M200.54 836.8 V840.3"/>
<path d="M231.33 836.8 V840.3"/>
<path d="M262.12 836.8 V840.3"/>
<path d="M292.91 836.8 V840.3"/>
<path d="M323.7 836.8 V840.3"/>
</g>
<text x="39.1" y="839.98" font-size="9.4" text-anchor="end" font-weight="bold" fill="#1a1a1a" stroke="#1a1a1a" stroke-width="0.3">0.0</text>
<text x="39.1" y="808.22" font-size="9.4" text-anchor="end" font-weight="bold" fill="#1a1a1a" stroke="#1a1a1a" stroke-width="0.3">0.4</text>
<text x="39.1" y="776.46" font-size="9.4" text-anchor="end" font-weight="bold" fill="#1a1a1a" stroke="#1a1a1a" stroke-width="0.3">0.8</text>
<text x="39.1" y="744.7" font-size="9.4" text-anchor="end" font-weight="bold" fill="#1a1a1a" stroke="#1a1a1a" stroke-width="0.3">1.2</text>
<text x="39.1" y="712.94" font-size="9.4" text-anchor="end" font-weight="bold" fill="#1a1a1a" stroke="#1a1a1a" stroke-width="0.3">1.6</text>
<text x="39.1" y="681.18" font-size="9.4" text-anchor="end" font-weight="bold" fill="#1a1a1a" stroke="#1a1a1a" stroke-width="0.3">2.0</text>
<text transform="translate(46.6 851) scale(0.95 1)" font-size="9.8" text-anchor="middle" font-weight="bold" fill="#1a1a1a" stroke="#1a1a1a" stroke-width="0.3">300</text>
<text transform="translate(77.39 851) scale(0.95 1)" font-size="9.8" text-anchor="middle" font-weight="bold" fill="#1a1a1a" stroke="#1a1a1a" stroke-width="0.3">350</text>
<text transform="translate(108.18 851) scale(0.95 1)" font-size="9.8" text-anchor="middle" font-weight="bold" fill="#1a1a1a" stroke="#1a1a1a" stroke-width="0.3">400</text>
<text transform="translate(138.97 851) scale(0.95 1)" font-size="9.8" text-anchor="middle" font-weight="bold" fill="#1a1a1a" stroke="#1a1a1a" stroke-width="0.3">450</text>
<text transform="translate(169.76 851) scale(0.95 1)" font-size="9.8" text-anchor="middle" font-weight="bold" fill="#1a1a1a" stroke="#1a1a1a" stroke-width="0.3">500</text>
<text transform="translate(200.54 851) scale(0.95 1)" font-size="9.8" text-anchor="middle" font-weight="bold" fill="#1a1a1a" stroke="#1a1a1a" stroke-width="0.3">550</text>
<text transform="translate(231.33 851) scale(0.95 1)" font-size="9.8" text-anchor="middle" font-weight="bold" fill="#1a1a1a" stroke="#1a1a1a" stroke-width="0.3">600</text>
<text transform="translate(262.12 851) scale(0.95 1)" font-size="9.8" text-anchor="middle" font-weight="bold" fill="#1a1a1a" stroke="#1a1a1a" stroke-width="0.3">650</text>
<text transform="translate(292.91 851) scale(0.95 1)" font-size="9.8" text-anchor="middle" font-weight="bold" fill="#1a1a1a" stroke="#1a1a1a" stroke-width="0.3">700</text>
<text transform="translate(323.7 851) scale(0.95 1)" font-size="9.8" text-anchor="middle" font-weight="bold" fill="#1a1a1a" stroke="#1a1a1a" stroke-width="0.3">750</text>
<text x="64.9" y="662.6" font-size="19.5" text-anchor="start" font-weight="normal" fill="#111">g.</text>
<text transform="translate(15.5 767.6) rotate(-90)" font-size="15.4" text-anchor="middle" font-weight="normal" fill="#111">Absorbance</text>
<path d="M46.6 678 L46.63 679 L46.67 680 L46.7 681 L46.73 682 L46.77 683 L46.8 684 L46.83 685 L46.87 686 L46.9 687.01 L46.94 688.01 L46.97 689.01 L47.01 690.01 L47.04 691.01 L47.08 692.01 L47.12 693.01 L47.16 694.01 L47.2 695.01 L47.24 696.01 L47.28 697.01 L47.32 698.01 L47.36 699.01 L47.4 700.01 L47.45 701.01 L47.49 702.01 L47.54 703.01 L47.6 704.01 L47.66 705.01 L47.73 706.01 L47.8 707.01 L47.88 708 L47.97 709 L48.06 710 L48.16 710.99 L48.27 711.99 L48.38 712.99 L48.5 713.98 L48.63 714.97 L48.77 715.96 L48.93 716.95 L49.1 717.94 L49.29 718.92 L49.51 719.9 L49.74 720.87 L50 721.84 L50.28 722.8 L50.58 723.75 L50.89 724.7 L51.22 725.65 L51.55 726.59 L51.89 727.53 L52.22 728.48 L52.56 729.42 L52.88 730.37 L53.21 731.32 L53.53 732.26 L53.85 733.21 L54.18 734.16 L54.5 735.11 L54.83 736.05 L55.15 737 L55.48 737.95 L55.81 738.89 L56.13 739.84 L56.45 740.79 L56.77 741.74 L57.08 742.69 L57.38 743.64 L57.68 744.6 L57.98 745.55 L58.28 746.51 L58.61 747.45 L58.98 748.38 L59.38 749.29 L59.83 750.18 L60.34 751.04 L60.89 751.88 L61.47 752.68 L62.1 753.47 L62.75 754.22 L63.43 754.95 L64.14 755.65 L64.84 756.35 L65.5 757.09 L66.09 757.88 L66.6 758.73 L67.05 759.62 L67.48 760.52 L67.91 761.43 L68.37 762.31 L68.89 763.15 L69.49 763.94 L70.17 764.64 L70.95 765.24 L71.8 765.71 L72.7 766.03 L73.65 766.16 L74.61 766.11 L75.56 765.9 L76.49 765.58 L77.42 765.21 L78.34 764.84 L79.29 764.51 L80.24 764.22 L81.21 763.97 L82.19 763.76 L83.17 763.59 L84.16 763.46 L85.16 763.37 L86.15 763.33 L87.15 763.33 L88.15 763.38 L89.14 763.49 L90.11 763.63 L91.08 763.77 L92.03 763.79 L92.96 763.62 L93.85 763.28 L94.71 762.81 L95.55 762.27 L96.37 761.7 L97.16 761.09 L97.92 760.45 L98.64 759.75 L99.3 759.01 L99.92 758.23 L100.5 757.41 L101.04 756.58 L101.55 755.72 L102.04 754.84 L102.49 753.95 L102.93 753.05 L103.34 752.14 L103.75 751.23 L104.17 750.32 L104.61 749.42 L105.08 748.53 L105.57 747.67 L106.09 746.81 L106.64 745.97 L107.2 745.15 L107.78 744.33 L108.36 743.52 L108.96 742.71 L109.56 741.91 L110.16 741.11 L110.76 740.31 L111.37 739.51 L111.98 738.72 L112.62 737.97 L113.32 737.27 L114.09 736.68 L114.95 736.24 L115.86 735.96 L116.82 735.88 L117.77 735.98 L118.7 736.25 L119.58 736.67 L120.44 737.17 L121.26 737.74 L122.05 738.34 L122.83 738.98 L123.57 739.64 L124.3 740.33 L125 741.04 L125.69 741.77 L126.36 742.51 L127.02 743.26 L127.66 744.03 L128.28 744.82 L128.88 745.62 L129.46 746.43 L130.02 747.26 L130.57 748.1 L131.12 748.94 L131.65 749.78 L132.18 750.64 L132.7 751.49 L133.22 752.35 L133.73 753.2 L134.25 754.06 L134.76 754.92 L135.27 755.78 L135.79 756.64 L136.3 757.5 L136.81 758.36 L137.32 759.22 L137.83 760.09 L138.34 760.95 L138.85 761.81 L139.35 762.68 L139.85 763.54 L140.36 764.41 L140.86 765.27 L141.36 766.14 L141.85 767.01 L142.35 767.88 L142.84 768.76 L143.32 769.63 L143.8 770.51 L144.28 771.39 L144.75 772.27 L145.22 773.16 L145.69 774.04 L146.16 774.92 L146.64 775.8 L147.12 776.68 L147.6 777.56 L148.1 778.43 L148.6 779.3 L149.1 780.16 L149.62 781.02 L150.14 781.88 L150.66 782.73 L151.18 783.58 L151.71 784.43 L152.25 785.28 L152.8 786.12 L153.35 786.95 L153.92 787.77 L154.51 788.58 L155.12 789.38 L155.75 790.15 L156.41 790.89 L157.11 791.61 L157.85 792.28 L158.62 792.91 L159.43 793.5 L160.27 794.03 L161.14 794.51 L162.04 794.95 L162.96 795.33 L163.9 795.66 L164.86 795.94 L165.83 796.16 L166.81 796.34 L167.8 796.46 L168.8 796.52 L169.79 796.52 L170.79 796.44 L171.77 796.3 L172.75 796.1 L173.72 795.86 L174.68 795.58 L175.64 795.29 L176.59 794.97 L177.53 794.64 L178.47 794.29 L179.39 793.91 L180.3 793.5 L181.19 793.04 L182.04 792.53 L182.86 791.96 L183.63 791.33 L184.37 790.66 L185.08 789.96 L185.79 789.25 L186.51 788.56 L187.26 787.91 L188.04 787.29 L188.85 786.7 L189.63 786.1 L190.37 785.44 L191.04 784.71 L191.63 783.92 L192.14 783.07 L192.59 782.18 L193 781.27 L193.39 780.35 L193.75 779.41 L194.1 778.47 L194.44 777.53 L194.77 776.59 L195.11 775.65 L195.44 774.7 L195.77 773.76 L196.12 772.82 L196.47 771.88 L196.83 770.95 L197.22 770.02 L197.62 769.11 L198.05 768.21 L198.5 767.31 L198.96 766.43 L199.46 765.56 L199.98 764.71 L200.54 763.88 L201.15 763.1 L201.82 762.38 L202.57 761.78 L203.4 761.35 L204.29 761.17 L205.19 761.26 L206.06 761.6 L206.86 762.12 L207.59 762.77 L208.25 763.51 L208.86 764.3 L209.42 765.13 L209.95 765.97 L210.45 766.84 L210.94 767.71 L211.4 768.6 L211.86 769.49 L212.3 770.39 L212.72 771.3 L213.13 772.21 L213.53 773.13 L213.9 774.05 L214.27 774.99 L214.61 775.93 L214.93 776.88 L215.23 777.83 L215.52 778.79 L215.78 779.75 L216.03 780.72 L216.27 781.7 L216.5 782.67 L216.72 783.65 L216.93 784.63 L217.14 785.6 L217.35 786.58 L217.55 787.56 L217.76 788.54 L217.96 789.52 L218.17 790.5 L218.39 791.48 L218.61 792.46 L218.82 793.43 L219.04 794.41 L219.26 795.39 L219.48 796.37 L219.7 797.34 L219.91 798.32 L220.13 799.3 L220.34 800.28 L220.56 801.25 L220.77 802.23 L220.99 803.21 L221.2 804.19 L221.42 805.17 L221.63 806.14 L221.83 807.12 L222.04 808.1 L222.24 809.08 L222.44 810.07 L222.64 811.05 L222.84 812.03 L223.04 813.01 L223.26 813.98 L223.49 814.96 L223.73 815.93 L223.99 816.9 L224.27 817.86 L224.55 818.82 L224.86 819.77 L225.18 820.72 L225.53 821.65 L225.91 822.58 L226.34 823.48 L226.81 824.36 L227.35 825.2 L227.94 825.99 L228.6 826.73 L229.32 827.43 L230.07 828.07 L230.87 828.68 L231.68 829.26 L232.52 829.79 L233.39 830.28 L234.29 830.7 L235.22 831.03 L236.18 831.29 L237.16 831.48 L238.15 831.64 L239.14 831.76 L240.14 831.87 L241.13 831.96 L242.13 832.04 L243.13 832.11 L244.13 832.18 L245.13 832.24 L246.13 832.3 L247.13 832.35 L248.13 832.41 L249.13 832.46 L250.13 832.51 L251.13 832.56 L252.13 832.61 L253.13 832.65 L254.13 832.7 L255.13 832.74 L256.13 832.78 L257.13 832.81 L258.13 832.83 L259.13 832.86 L260.13 832.88 L261.13 832.9 L262.13 832.92 L263.13 832.93 L264.13 832.95 L265.13 832.96 L266.14 832.98 L267.14 832.99 L268.14 833.01 L269.14 833.02 L270.14 833.03 L271.14 833.04 L272.14 833.05 L273.14 833.06 L274.14 833.08 L275.15 833.09 L276.15 833.1 L277.15 833.11 L278.15 833.12 L279.15 833.13 L280.15 833.14 L281.15 833.14 L282.15 833.15 L283.15 833.16 L284.16 833.17 L285.16 833.18 L286.16 833.19 L287.16 833.2 L288.16 833.21 L289.16 833.22 L290.16 833.23 L291.16 833.23 L292.16 833.24 L293.17 833.25 L294.17 833.26 L295.17 833.27 L296.17 833.28 L297.17 833.28 L298.17 833.29 L299.17 833.3 L300.17 833.31 L301.17 833.32 L302.18 833.33 L303.18 833.33 L304.18 833.34 L305.18 833.35 L306.18 833.36 L307.18 833.37 L308.18 833.37 L309.18 833.38 L310.18 833.39 L311.19 833.4 L312.19 833.41 L313.19 833.41 L314.19 833.42 L315.19 833.43 L316.19 833.44 L317.19 833.45 L318.19 833.45 L319.19 833.46 L320.2 833.47 L321.2 833.48 L322.2 833.49 L323.2 833.5 L323.7 833.5" fill="none" stroke="#e41a1c" stroke-width="2.0" stroke-linejoin="round" stroke-linecap="round"/>
<path d="M46.6 678 L46.7 679 L46.8 679.99 L46.91 680.99 L47.01 681.98 L47.11 682.98 L47.21 683.98 L47.32 684.97 L47.42 685.97 L47.53 686.96 L47.64 687.96 L47.75 688.95 L47.86 689.95 L47.98 690.94 L48.09 691.94 L48.21 692.93 L48.33 693.92 L48.45 694.92 L48.57 695.91 L48.69 696.91 L48.81 697.9 L48.94 698.89 L49.06 699.89 L49.19 700.88 L49.32 701.87 L49.46 702.86 L49.6 703.85 L49.74 704.84 L49.9 705.83 L50.06 706.82 L50.23 707.81 L50.4 708.79 L50.59 709.78 L50.79 710.76 L51 711.74 L51.22 712.71 L51.46 713.69 L51.7 714.66 L51.95 715.63 L52.21 716.59 L52.49 717.56 L52.76 718.52 L53.05 719.48 L53.35 720.43 L53.65 721.39 L53.96 722.34 L54.29 723.28 L54.62 724.23 L54.96 725.17 L55.31 726.11 L55.67 727.04 L56.03 727.97 L56.4 728.9 L56.78 729.83 L57.15 730.76 L57.53 731.69 L57.92 732.61 L58.31 733.53 L58.71 734.45 L59.12 735.36 L59.53 736.28 L59.95 737.19 L60.37 738.09 L60.81 738.99 L61.27 739.88 L61.74 740.76 L62.24 741.63 L62.76 742.49 L63.29 743.33 L63.83 744.18 L64.37 745.02 L64.9 745.87 L65.41 746.73 L65.91 747.6 L66.41 748.47 L66.9 749.34 L67.4 750.21 L67.9 751.07 L68.42 751.93 L68.96 752.77 L69.52 753.59 L70.12 754.39 L70.76 755.16 L71.44 755.88 L72.18 756.55 L72.96 757.16 L73.8 757.68 L74.69 758.08 L75.62 758.33 L76.58 758.42 L77.55 758.35 L78.52 758.16 L79.48 757.89 L80.43 757.59 L81.38 757.29 L82.34 757.03 L83.31 756.86 L84.28 756.82 L85.24 756.93 L86.18 757.19 L87.1 757.56 L88 757.98 L88.91 758.39 L89.83 758.77 L90.77 759.11 L91.72 759.39 L92.68 759.55 L93.62 759.55 L94.53 759.34 L95.4 758.94 L96.22 758.41 L97.01 757.8 L97.76 757.14 L98.47 756.45 L99.15 755.71 L99.79 754.95 L100.4 754.16 L101 753.36 L101.64 752.6 L102.32 751.88 L103.05 751.21 L103.79 750.55 L104.5 749.86 L105.14 749.11 L105.73 748.31 L106.26 747.46 L106.77 746.6 L107.28 745.74 L107.79 744.88 L108.33 744.05 L108.92 743.24 L109.54 742.46 L110.22 741.73 L110.95 741.05 L111.72 740.43 L112.55 739.87 L113.41 739.39 L114.31 738.98 L115.25 738.68 L116.21 738.51 L117.18 738.49 L118.14 738.62 L119.07 738.91 L119.97 739.31 L120.84 739.8 L121.68 740.33 L122.5 740.91 L123.29 741.52 L124.05 742.16 L124.79 742.84 L125.5 743.54 L126.19 744.26 L126.86 745.01 L127.5 745.78 L128.12 746.56 L128.73 747.35 L129.34 748.15 L129.94 748.95 L130.53 749.76 L131.13 750.56 L131.72 751.37 L132.31 752.18 L132.89 752.99 L133.47 753.81 L134.04 754.63 L134.61 755.45 L135.18 756.28 L135.74 757.11 L136.29 757.95 L136.84 758.78 L137.38 759.63 L137.92 760.47 L138.46 761.31 L139 762.16 L139.54 763 L140.08 763.84 L140.62 764.68 L141.16 765.53 L141.7 766.37 L142.23 767.22 L142.77 768.06 L143.31 768.9 L143.85 769.75 L144.4 770.58 L144.95 771.42 L145.5 772.25 L146.06 773.09 L146.62 773.91 L147.19 774.74 L147.75 775.57 L148.32 776.39 L148.9 777.21 L149.5 778.01 L150.11 778.8 L150.74 779.58 L151.39 780.34 L152.06 781.08 L152.75 781.8 L153.46 782.51 L154.19 783.2 L154.94 783.85 L155.72 784.47 L156.53 785.05 L157.38 785.57 L158.26 786.04 L159.17 786.45 L160.1 786.81 L161.05 787.12 L162.01 787.39 L162.99 787.62 L163.97 787.81 L164.95 787.96 L165.95 788.08 L166.94 788.15 L167.94 788.18 L168.94 788.14 L169.93 788.04 L170.91 787.88 L171.88 787.66 L172.83 787.37 L173.77 787.03 L174.69 786.64 L175.6 786.22 L176.48 785.76 L177.36 785.27 L178.21 784.75 L179.05 784.21 L179.88 783.65 L180.69 783.06 L181.48 782.44 L182.23 781.79 L182.95 781.1 L183.63 780.37 L184.28 779.61 L184.89 778.82 L185.49 778.02 L186.09 777.22 L186.7 776.43 L187.34 775.65 L187.99 774.89 L188.65 774.14 L189.31 773.39 L189.96 772.63 L190.6 771.86 L191.2 771.07 L191.78 770.25 L192.34 769.42 L192.87 768.57 L193.38 767.71 L193.88 766.85 L194.37 765.97 L194.85 765.1 L195.33 764.21 L195.79 763.33 L196.26 762.44 L196.71 761.55 L197.16 760.65 L197.6 759.75 L198.02 758.85 L198.44 757.94 L198.84 757.02 L199.23 756.1 L199.62 755.18 L200.01 754.25 L200.4 753.33 L200.81 752.42 L201.24 751.52 L201.71 750.64 L202.21 749.78 L202.77 748.95 L203.4 748.2 L204.1 747.55 L204.9 747.07 L205.78 746.82 L206.68 746.84 L207.54 747.13 L208.3 747.65 L208.95 748.35 L209.49 749.16 L209.94 750.04 L210.33 750.96 L210.68 751.89 L211.01 752.84 L211.31 753.79 L211.61 754.75 L211.89 755.71 L212.16 756.67 L212.43 757.64 L212.69 758.6 L212.94 759.57 L213.19 760.54 L213.44 761.51 L213.68 762.48 L213.92 763.45 L214.16 764.43 L214.39 765.4 L214.62 766.38 L214.84 767.35 L215.06 768.33 L215.28 769.31 L215.49 770.28 L215.69 771.27 L215.88 772.25 L216.07 773.23 L216.26 774.21 L216.44 775.2 L216.61 776.18 L216.79 777.17 L216.96 778.16 L217.13 779.14 L217.3 780.13 L217.46 781.12 L217.63 782.1 L217.8 783.09 L217.98 784.08 L218.15 785.06 L218.33 786.05 L218.51 787.03 L218.69 788.02 L218.88 789 L219.06 789.98 L219.25 790.97 L219.44 791.95 L219.63 792.93 L219.82 793.92 L220 794.9 L220.19 795.88 L220.38 796.87 L220.58 797.85 L220.77 798.83 L220.96 799.81 L221.16 800.8 L221.35 801.78 L221.55 802.76 L221.75 803.74 L221.94 804.72 L222.14 805.7 L222.34 806.69 L222.53 807.67 L222.73 808.65 L222.94 809.63 L223.16 810.6 L223.39 811.58 L223.63 812.55 L223.88 813.52 L224.16 814.48 L224.44 815.44 L224.74 816.39 L225.06 817.34 L225.4 818.28 L225.77 819.21 L226.17 820.13 L226.62 821.02 L227.12 821.88 L227.67 822.71 L228.28 823.5 L228.94 824.25 L229.63 824.96 L230.37 825.64 L231.13 826.28 L231.91 826.91 L232.71 827.5 L233.54 828.05 L234.41 828.53 L235.31 828.93 L236.25 829.25 L237.22 829.5 L238.2 829.71 L239.18 829.88 L240.17 830.04 L241.16 830.17 L242.15 830.3 L243.15 830.41 L244.14 830.52 L245.14 830.61 L246.14 830.7 L247.14 830.79 L248.13 830.86 L249.13 830.94 L250.13 831 L251.13 831.07 L252.13 831.13 L253.13 831.18 L254.13 831.23 L255.13 831.27 L256.13 831.31 L257.13 831.33 L258.13 831.36 L259.13 831.38 L260.13 831.39 L261.13 831.41 L262.13 831.42 L263.14 831.44 L264.14 831.45 L265.14 831.47 L266.14 831.48 L267.14 831.49 L268.14 831.51 L269.14 831.52 L270.14 831.53 L271.14 831.54 L272.14 831.55 L273.15 831.56 L274.15 831.58 L275.15 831.59 L276.15 831.6 L277.15 831.61 L278.15 831.62 L279.15 831.63 L280.15 831.64 L281.15 831.64 L282.16 831.65 L283.16 831.66 L284.16 831.67 L285.16 831.68 L286.16 831.69 L287.16 831.7 L288.16 831.71 L289.16 831.72 L290.16 831.73 L291.16 831.73 L292.17 831.74 L293.17 831.75 L294.17 831.76 L295.17 831.77 L296.17 831.78 L297.17 831.78 L298.17 831.79 L299.17 831.8 L300.17 831.81 L301.18 831.82 L302.18 831.83 L303.18 831.83 L304.18 831.84 L305.18 831.85 L306.18 831.86 L307.18 831.87 L308.18 831.87 L309.18 831.88 L310.19 831.89 L311.19 831.9 L312.19 831.91 L313.19 831.91 L314.19 831.92 L315.19 831.93 L316.19 831.94 L317.19 831.95 L318.19 831.95 L319.2 831.96 L320.2 831.97 L321.2 831.98 L322.2 831.99 L323.2 832 L323.7 832" fill="none" stroke="#f2b824" stroke-width="2.0" stroke-linejoin="round" stroke-linecap="round"/>
<path d="M46.6 678 L46.71 679 L46.82 679.99 L46.93 680.99 L47.04 681.98 L47.15 682.98 L47.26 683.97 L47.37 684.97 L47.48 685.97 L47.59 686.96 L47.71 687.96 L47.83 688.95 L47.95 689.95 L48.07 690.94 L48.19 691.93 L48.32 692.93 L48.44 693.92 L48.57 694.92 L48.7 695.91 L48.82 696.9 L48.95 697.9 L49.08 698.89 L49.21 699.88 L49.35 700.88 L49.48 701.87 L49.62 702.86 L49.77 703.85 L49.92 704.84 L50.08 705.83 L50.25 706.82 L50.42 707.8 L50.61 708.79 L50.8 709.77 L51.01 710.75 L51.23 711.73 L51.46 712.7 L51.7 713.67 L51.95 714.64 L52.21 715.61 L52.48 716.57 L52.76 717.54 L53.05 718.5 L53.34 719.46 L53.64 720.41 L53.95 721.37 L54.26 722.32 L54.59 723.26 L54.92 724.21 L55.26 725.15 L55.61 726.09 L55.97 727.02 L56.33 727.96 L56.7 728.89 L57.07 729.82 L57.45 730.75 L57.83 731.67 L58.22 732.6 L58.61 733.52 L59.01 734.44 L59.41 735.35 L59.82 736.27 L60.24 737.18 L60.67 738.08 L61.11 738.98 L61.57 739.87 L62.04 740.76 L62.54 741.62 L63.06 742.48 L63.59 743.33 L64.14 744.17 L64.68 745.01 L65.21 745.86 L65.73 746.71 L66.24 747.58 L66.74 748.44 L67.25 749.31 L67.76 750.17 L68.28 751.03 L68.81 751.87 L69.37 752.7 L69.97 753.51 L70.59 754.28 L71.26 755.02 L71.98 755.71 L72.74 756.35 L73.55 756.92 L74.42 757.39 L75.33 757.75 L76.28 757.96 L77.25 758.03 L78.23 757.97 L79.22 757.82 L80.2 757.64 L81.18 757.47 L82.17 757.36 L83.15 757.35 L84.14 757.45 L85.11 757.64 L86.07 757.9 L87.02 758.21 L87.96 758.55 L88.89 758.92 L89.82 759.29 L90.76 759.65 L91.7 759.96 L92.66 760.19 L93.64 760.31 L94.62 760.29 L95.59 760.15 L96.54 759.89 L97.46 759.53 L98.36 759.09 L99.22 758.59 L100.05 758.03 L100.85 757.43 L101.62 756.8 L102.36 756.12 L103.06 755.41 L103.72 754.67 L104.35 753.89 L104.94 753.08 L105.49 752.25 L106.01 751.39 L106.51 750.53 L107.03 749.67 L107.57 748.84 L108.17 748.05 L108.84 747.31 L109.56 746.62 L110.33 745.99 L111.13 745.4 L111.97 744.85 L112.83 744.35 L113.72 743.9 L114.63 743.52 L115.58 743.23 L116.54 743.06 L117.52 743.02 L118.49 743.12 L119.45 743.35 L120.39 743.68 L121.29 744.09 L122.17 744.56 L123.02 745.09 L123.84 745.65 L124.63 746.26 L125.4 746.9 L126.14 747.57 L126.87 748.26 L127.58 748.97 L128.29 749.67 L128.99 750.39 L129.69 751.1 L130.39 751.82 L131.08 752.55 L131.76 753.28 L132.44 754.02 L133.1 754.77 L133.75 755.53 L134.4 756.3 L135.04 757.07 L135.67 757.85 L136.28 758.64 L136.9 759.43 L137.5 760.23 L138.1 761.03 L138.7 761.83 L139.31 762.63 L139.91 763.43 L140.53 764.22 L141.14 765.01 L141.77 765.8 L142.39 766.58 L143.02 767.36 L143.65 768.14 L144.28 768.92 L144.92 769.69 L145.55 770.46 L146.19 771.23 L146.83 772.01 L147.47 772.78 L148.11 773.55 L148.76 774.31 L149.42 775.07 L150.09 775.81 L150.78 776.53 L151.49 777.24 L152.21 777.93 L152.96 778.6 L153.72 779.25 L154.49 779.89 L155.27 780.51 L156.07 781.11 L156.88 781.7 L157.7 782.28 L158.53 782.85 L159.36 783.4 L160.2 783.94 L161.06 784.45 L161.94 784.92 L162.85 785.33 L163.78 785.68 L164.74 785.96 L165.71 786.18 L166.69 786.35 L167.69 786.48 L168.68 786.55 L169.68 786.56 L170.67 786.5 L171.65 786.36 L172.62 786.13 L173.56 785.81 L174.46 785.41 L175.34 784.93 L176.18 784.4 L177 783.82 L177.79 783.21 L178.57 782.59 L179.34 781.94 L180.09 781.28 L180.84 780.62 L181.58 779.95 L182.32 779.26 L183.03 778.56 L183.73 777.84 L184.39 777.1 L185.05 776.34 L185.69 775.57 L186.34 774.81 L187 774.06 L187.67 773.32 L188.36 772.59 L189.06 771.87 L189.75 771.14 L190.42 770.4 L191.06 769.64 L191.69 768.85 L192.28 768.05 L192.85 767.23 L193.4 766.39 L193.94 765.55 L194.46 764.69 L194.98 763.84 L195.49 762.97 L195.99 762.1 L196.48 761.23 L196.97 760.35 L197.44 759.47 L197.9 758.58 L198.35 757.69 L198.79 756.79 L199.21 755.88 L199.63 754.97 L200.05 754.06 L200.47 753.15 L200.89 752.24 L201.33 751.34 L201.78 750.45 L202.24 749.56 L202.71 748.68 L203.2 747.8 L203.7 746.94 L204.27 746.15 L204.92 745.47 L205.68 745 L206.51 744.82 L207.35 744.96 L208.12 745.41 L208.78 746.07 L209.34 746.87 L209.8 747.74 L210.21 748.65 L210.57 749.58 L210.9 750.52 L211.21 751.48 L211.51 752.43 L211.8 753.39 L212.07 754.36 L212.34 755.32 L212.6 756.29 L212.86 757.26 L213.11 758.23 L213.36 759.2 L213.6 760.17 L213.84 761.14 L214.08 762.11 L214.31 763.09 L214.55 764.06 L214.77 765.04 L214.99 766.01 L215.21 766.99 L215.42 767.97 L215.63 768.95 L215.82 769.93 L216.01 770.92 L216.2 771.9 L216.38 772.89 L216.56 773.87 L216.73 774.86 L216.9 775.85 L217.07 776.83 L217.24 777.82 L217.41 778.81 L217.58 779.8 L217.75 780.78 L217.92 781.77 L218.1 782.76 L218.27 783.74 L218.45 784.73 L218.64 785.71 L218.82 786.7 L219.01 787.68 L219.19 788.67 L219.38 789.65 L219.57 790.63 L219.76 791.62 L219.95 792.6 L220.14 793.59 L220.33 794.57 L220.52 795.55 L220.71 796.54 L220.9 797.52 L221.1 798.5 L221.3 799.48 L221.49 800.47 L221.69 801.45 L221.89 802.43 L222.08 803.41 L222.28 804.4 L222.47 805.38 L222.67 806.36 L222.88 807.34 L223.09 808.32 L223.31 809.29 L223.55 810.27 L223.81 811.24 L224.08 812.2 L224.37 813.16 L224.67 814.11 L224.99 815.06 L225.34 816 L225.73 816.92 L226.15 817.82 L226.64 818.69 L227.18 819.52 L227.8 820.29 L228.49 821.01 L229.25 821.65 L230.05 822.25 L230.88 822.8 L231.73 823.33 L232.6 823.83 L233.48 824.29 L234.39 824.69 L235.32 825.03 L236.28 825.31 L237.25 825.55 L238.23 825.76 L239.21 825.96 L240.2 826.14 L241.18 826.32 L242.17 826.48 L243.16 826.64 L244.15 826.78 L245.14 826.92 L246.14 827.06 L247.13 827.18 L248.13 827.3 L249.12 827.4 L250.12 827.5 L251.12 827.59 L252.12 827.67 L253.11 827.75 L254.11 827.81 L255.11 827.87 L256.11 827.93 L257.11 827.98 L258.12 828.03 L259.12 828.07 L260.12 828.11 L261.12 828.15 L262.12 828.19 L263.12 828.23 L264.12 828.27 L265.12 828.3 L266.12 828.34 L267.12 828.38 L268.12 828.42 L269.13 828.46 L270.13 828.5 L271.13 828.54 L272.13 828.57 L273.13 828.61 L274.13 828.65 L275.13 828.69 L276.13 828.72 L277.13 828.76 L278.14 828.8 L279.14 828.83 L280.14 828.87 L281.14 828.9 L282.14 828.94 L283.14 828.97 L284.14 829.01 L285.14 829.04 L286.14 829.07 L287.15 829.11 L288.15 829.14 L289.15 829.17 L290.15 829.2 L291.15 829.24 L292.15 829.27 L293.15 829.3 L294.15 829.33 L295.16 829.36 L296.16 829.39 L297.16 829.42 L298.16 829.45 L299.16 829.48 L300.16 829.5 L301.16 829.53 L302.17 829.55 L303.17 829.58 L304.17 829.6 L305.17 829.62 L306.17 829.64 L307.17 829.66 L308.17 829.68 L309.18 829.69 L310.18 829.71 L311.18 829.73 L312.18 829.74 L313.18 829.76 L314.18 829.77 L315.19 829.79 L316.19 829.8 L317.19 829.81 L318.19 829.83 L319.19 829.84 L320.19 829.85 L321.2 829.86 L322.2 829.88 L323.2 829.89 L323.7 829.9" fill="none" stroke="#1f72b5" stroke-width="2.0" stroke-linejoin="round" stroke-linecap="round"/>
<path d="M46.6 678 L46.68 679 L46.77 680 L46.85 680.99 L46.94 681.99 L47.02 682.99 L47.11 683.99 L47.19 684.98 L47.28 685.98 L47.36 686.98 L47.45 687.98 L47.53 688.97 L47.62 689.97 L47.71 690.97 L47.79 691.97 L47.88 692.96 L47.96 693.96 L48.04 694.96 L48.12 695.96 L48.2 696.96 L48.27 697.95 L48.35 698.95 L48.43 699.95 L48.51 700.95 L48.6 701.95 L48.69 702.94 L48.79 703.94 L48.89 704.93 L49 705.93 L49.13 706.92 L49.26 707.91 L49.41 708.9 L49.58 709.89 L49.76 710.87 L49.96 711.86 L50.17 712.83 L50.4 713.81 L50.63 714.78 L50.88 715.75 L51.13 716.72 L51.39 717.69 L51.64 718.66 L51.9 719.63 L52.15 720.59 L52.41 721.56 L52.66 722.53 L52.92 723.5 L53.18 724.46 L53.45 725.43 L53.73 726.39 L54.02 727.35 L54.32 728.3 L54.63 729.26 L54.95 730.2 L55.28 731.15 L55.62 732.09 L55.97 733.03 L56.33 733.96 L56.7 734.89 L57.07 735.82 L57.45 736.75 L57.84 737.67 L58.23 738.59 L58.63 739.51 L59.03 740.43 L59.44 741.34 L59.85 742.26 L60.27 743.16 L60.69 744.07 L61.12 744.98 L61.56 745.88 L61.99 746.78 L62.44 747.68 L62.89 748.57 L63.34 749.46 L63.8 750.35 L64.27 751.24 L64.75 752.12 L65.24 752.99 L65.75 753.85 L66.27 754.7 L66.82 755.54 L67.39 756.36 L67.98 757.17 L68.6 757.96 L69.23 758.73 L69.89 759.48 L70.57 760.21 L71.28 760.91 L72.02 761.58 L72.8 762.21 L73.62 762.77 L74.49 763.24 L75.39 763.6 L76.34 763.83 L77.31 763.9 L78.28 763.84 L79.26 763.71 L80.24 763.61 L81.21 763.61 L82.18 763.76 L83.12 764.04 L84.04 764.41 L84.94 764.83 L85.83 765.29 L86.71 765.77 L87.58 766.26 L88.44 766.77 L89.29 767.3 L90.13 767.84 L90.96 768.38 L91.81 768.87 L92.69 769.22 L93.63 769.38 L94.59 769.37 L95.56 769.22 L96.53 769 L97.5 768.76 L98.47 768.5 L99.42 768.21 L100.36 767.88 L101.27 767.48 L102.13 766.99 L102.94 766.42 L103.69 765.77 L104.4 765.07 L105.07 764.33 L105.7 763.56 L106.31 762.77 L106.9 761.96 L107.51 761.17 L108.14 760.4 L108.82 759.67 L109.55 759.01 L110.35 758.42 L111.2 757.91 L112.09 757.48 L113.02 757.11 L113.97 756.8 L114.93 756.55 L115.91 756.36 L116.89 756.26 L117.88 756.25 L118.86 756.36 L119.81 756.59 L120.74 756.93 L121.65 757.33 L122.54 757.79 L123.41 758.28 L124.27 758.8 L125.1 759.35 L125.91 759.93 L126.72 760.52 L127.52 761.13 L128.31 761.73 L129.11 762.34 L129.91 762.95 L130.7 763.56 L131.48 764.18 L132.26 764.82 L133.02 765.46 L133.77 766.13 L134.5 766.81 L135.22 767.51 L135.92 768.22 L136.62 768.94 L137.31 769.67 L137.99 770.4 L138.68 771.12 L139.37 771.85 L140.06 772.57 L140.76 773.29 L141.45 774.02 L142.14 774.74 L142.83 775.46 L143.53 776.18 L144.23 776.89 L144.95 777.59 L145.69 778.27 L146.45 778.92 L147.22 779.55 L148.02 780.15 L148.84 780.72 L149.67 781.28 L150.53 781.8 L151.39 782.3 L152.28 782.76 L153.18 783.2 L154.09 783.6 L155.03 783.96 L155.97 784.29 L156.92 784.59 L157.89 784.85 L158.86 785.09 L159.84 785.3 L160.82 785.49 L161.81 785.65 L162.8 785.79 L163.79 785.89 L164.79 785.94 L165.79 785.94 L166.78 785.87 L167.77 785.73 L168.75 785.54 L169.72 785.32 L170.69 785.08 L171.66 784.84 L172.63 784.59 L173.6 784.34 L174.56 784.05 L175.51 783.74 L176.43 783.37 L177.32 782.93 L178.16 782.41 L178.94 781.8 L179.67 781.13 L180.36 780.41 L181.04 779.68 L181.73 778.95 L182.43 778.24 L183.16 777.55 L183.89 776.87 L184.64 776.2 L185.37 775.53 L186.11 774.84 L186.83 774.15 L187.55 773.45 L188.25 772.74 L188.95 772.03 L189.64 771.3 L190.31 770.56 L190.96 769.79 L191.57 769.01 L192.17 768.2 L192.74 767.38 L193.29 766.54 L193.82 765.7 L194.34 764.84 L194.86 763.99 L195.36 763.12 L195.87 762.26 L196.36 761.39 L196.86 760.52 L197.35 759.65 L197.84 758.77 L198.32 757.89 L198.79 757.01 L199.25 756.12 L199.71 755.23 L200.17 754.34 L200.64 753.46 L201.12 752.58 L201.6 751.7 L202.1 750.83 L202.61 749.97 L203.12 749.11 L203.66 748.28 L204.25 747.51 L204.93 746.89 L205.71 746.51 L206.54 746.44 L207.37 746.7 L208.11 747.23 L208.75 747.94 L209.29 748.75 L209.76 749.63 L210.17 750.54 L210.55 751.46 L210.89 752.4 L211.22 753.35 L211.53 754.3 L211.83 755.25 L212.12 756.21 L212.4 757.17 L212.68 758.13 L212.95 759.1 L213.22 760.06 L213.48 761.03 L213.73 762 L213.98 762.97 L214.23 763.94 L214.48 764.91 L214.72 765.88 L214.96 766.85 L215.18 767.83 L215.41 768.8 L215.62 769.78 L215.83 770.76 L216.03 771.74 L216.22 772.72 L216.41 773.71 L216.6 774.69 L216.78 775.67 L216.96 776.66 L217.14 777.64 L217.32 778.63 L217.5 779.62 L217.67 780.6 L217.86 781.59 L218.04 782.57 L218.22 783.55 L218.41 784.54 L218.61 785.52 L218.8 786.5 L219 787.48 L219.2 788.46 L219.39 789.45 L219.59 790.43 L219.79 791.41 L219.99 792.39 L220.2 793.37 L220.4 794.35 L220.6 795.33 L220.81 796.31 L221.02 797.29 L221.23 798.27 L221.44 799.25 L221.65 800.23 L221.86 801.2 L222.07 802.18 L222.28 803.16 L222.5 804.14 L222.71 805.12 L222.94 806.09 L223.18 807.06 L223.44 808.03 L223.71 808.99 L224.01 809.95 L224.34 810.89 L224.69 811.83 L225.08 812.75 L225.5 813.65 L225.98 814.53 L226.52 815.36 L227.13 816.14 L227.81 816.85 L228.57 817.49 L229.38 818.06 L230.24 818.57 L231.12 819.05 L232.01 819.5 L232.91 819.93 L233.82 820.33 L234.76 820.66 L235.72 820.92 L236.7 821.12 L237.68 821.28 L238.67 821.42 L239.67 821.53 L240.67 821.63 L241.66 821.73 L242.66 821.81 L243.66 821.89 L244.66 821.96 L245.65 822.03 L246.65 822.1 L247.65 822.16 L248.65 822.22 L249.65 822.28 L250.65 822.33 L251.65 822.38 L252.65 822.43 L253.65 822.47 L254.65 822.51 L255.65 822.55 L256.65 822.58 L257.65 822.61 L258.66 822.64 L259.66 822.67 L260.66 822.7 L261.66 822.73 L262.66 822.76 L263.66 822.79 L264.66 822.81 L265.66 822.84 L266.66 822.87 L267.66 822.9 L268.66 822.93 L269.66 822.96 L270.66 822.99 L271.67 823.02 L272.67 823.04 L273.67 823.07 L274.67 823.1 L275.67 823.13 L276.67 823.15 L277.67 823.18 L278.67 823.21 L279.67 823.23 L280.67 823.26 L281.67 823.29 L282.67 823.31 L283.68 823.34 L284.68 823.36 L285.68 823.39 L286.68 823.42 L287.68 823.45 L288.68 823.47 L289.68 823.5 L290.68 823.53 L291.68 823.56 L292.68 823.58 L293.68 823.61 L294.68 823.64 L295.69 823.67 L296.69 823.7 L297.69 823.73 L298.69 823.76 L299.69 823.79 L300.69 823.82 L301.69 823.86 L302.69 823.89 L303.69 823.93 L304.69 823.96 L305.69 824 L306.69 824.03 L307.69 824.07 L308.69 824.11 L309.69 824.14 L310.69 824.18 L311.7 824.22 L312.7 824.26 L313.7 824.3 L314.7 824.34 L315.7 824.38 L316.7 824.42 L317.7 824.46 L318.7 824.5 L319.7 824.54 L320.7 824.58 L321.7 824.62 L322.7 824.66 L323.7 824.7 L323.7 824.7" fill="none" stroke="#8a3aac" stroke-width="2.0" stroke-linejoin="round" stroke-linecap="round"/>
<path d="M46.6 678 L46.7 679 L46.79 679.99 L46.89 680.99 L46.98 681.99 L47.07 682.99 L47.17 683.98 L47.27 684.98 L47.37 685.98 L47.47 686.98 L47.57 687.97 L47.67 688.97 L47.78 689.97 L47.89 690.96 L48 691.96 L48.11 692.95 L48.23 693.95 L48.34 694.94 L48.46 695.94 L48.58 696.93 L48.7 697.93 L48.82 698.92 L48.94 699.92 L49.07 700.91 L49.2 701.9 L49.33 702.9 L49.46 703.89 L49.6 704.88 L49.74 705.88 L49.89 706.87 L50.04 707.86 L50.2 708.85 L50.36 709.83 L50.53 710.82 L50.71 711.81 L50.9 712.79 L51.09 713.77 L51.3 714.76 L51.51 715.73 L51.72 716.71 L51.95 717.69 L52.18 718.66 L52.42 719.64 L52.66 720.61 L52.92 721.58 L53.18 722.55 L53.44 723.51 L53.72 724.47 L54 725.44 L54.3 726.39 L54.6 727.35 L54.9 728.3 L55.22 729.25 L55.54 730.2 L55.87 731.15 L56.21 732.09 L56.56 733.03 L56.92 733.97 L57.28 734.9 L57.65 735.83 L58.03 736.76 L58.42 737.68 L58.81 738.61 L59.2 739.53 L59.61 740.44 L60.02 741.36 L60.44 742.26 L60.87 743.17 L61.31 744.07 L61.77 744.96 L62.23 745.85 L62.7 746.73 L63.19 747.61 L63.68 748.48 L64.18 749.35 L64.7 750.21 L65.21 751.07 L65.74 751.92 L66.26 752.77 L66.79 753.62 L67.32 754.48 L67.84 755.34 L68.35 756.19 L68.87 757.05 L69.4 757.9 L69.95 758.74 L70.52 759.56 L71.12 760.36 L71.75 761.13 L72.41 761.89 L73.09 762.63 L73.79 763.34 L74.51 764.03 L75.27 764.67 L76.07 765.26 L76.93 765.75 L77.83 766.16 L78.76 766.49 L79.71 766.8 L80.65 767.14 L81.57 767.51 L82.48 767.93 L83.38 768.38 L84.25 768.87 L85.11 769.39 L85.94 769.94 L86.74 770.54 L87.51 771.17 L88.24 771.85 L88.93 772.58 L89.57 773.34 L90.2 774.12 L90.82 774.89 L91.48 775.64 L92.19 776.33 L92.96 776.96 L93.79 777.5 L94.67 777.95 L95.59 778.3 L96.54 778.52 L97.52 778.61 L98.51 778.58 L99.49 778.46 L100.47 778.27 L101.44 778.02 L102.39 777.72 L103.31 777.34 L104.18 776.88 L105.01 776.34 L105.79 775.72 L106.53 775.06 L107.27 774.39 L108.05 773.76 L108.86 773.2 L109.72 772.69 L110.61 772.24 L111.52 771.83 L112.45 771.46 L113.39 771.12 L114.35 770.82 L115.31 770.59 L116.29 770.44 L117.28 770.39 L118.26 770.46 L119.24 770.63 L120.2 770.89 L121.14 771.2 L122.08 771.55 L123.01 771.92 L123.94 772.3 L124.86 772.71 L125.76 773.13 L126.66 773.56 L127.56 774.02 L128.44 774.48 L129.32 774.97 L130.19 775.46 L131.06 775.97 L131.91 776.49 L132.75 777.03 L133.59 777.58 L134.42 778.15 L135.24 778.73 L136.05 779.31 L136.85 779.91 L137.64 780.52 L138.43 781.15 L139.21 781.78 L139.98 782.42 L140.74 783.06 L141.51 783.71 L142.27 784.36 L143.04 785 L143.81 785.64 L144.59 786.27 L145.38 786.89 L146.18 787.49 L146.99 788.07 L147.83 788.62 L148.69 789.14 L149.56 789.61 L150.46 790.05 L151.38 790.46 L152.3 790.84 L153.24 791.21 L154.17 791.56 L155.11 791.91 L156.06 792.24 L157.01 792.56 L157.96 792.86 L158.92 793.13 L159.9 793.37 L160.88 793.56 L161.86 793.7 L162.86 793.78 L163.85 793.8 L164.85 793.75 L165.84 793.65 L166.83 793.5 L167.82 793.33 L168.8 793.13 L169.77 792.89 L170.73 792.6 L171.66 792.26 L172.57 791.85 L173.44 791.37 L174.28 790.83 L175.08 790.24 L175.86 789.61 L176.61 788.95 L177.35 788.28 L178.08 787.58 L178.79 786.88 L179.5 786.18 L180.2 785.45 L180.87 784.72 L181.53 783.96 L182.18 783.19 L182.82 782.43 L183.47 781.67 L184.16 780.95 L184.89 780.28 L185.68 779.69 L186.53 779.19 L187.41 778.73 L188.28 778.25 L189.1 777.71 L189.84 777.07 L190.48 776.33 L191.05 775.52 L191.55 774.66 L192 773.77 L192.42 772.86 L192.81 771.94 L193.19 771.01 L193.55 770.08 L193.91 769.14 L194.26 768.2 L194.6 767.26 L194.94 766.32 L195.28 765.38 L195.62 764.43 L195.96 763.49 L196.31 762.55 L196.66 761.61 L197.01 760.67 L197.38 759.74 L197.75 758.81 L198.12 757.88 L198.5 756.95 L198.87 756.02 L199.25 755.09 L199.63 754.17 L200.02 753.24 L200.42 752.32 L200.83 751.41 L201.26 750.51 L201.71 749.61 L202.18 748.73 L202.67 747.86 L203.2 747.02 L203.79 746.23 L204.45 745.56 L205.21 745.11 L206.04 744.96 L206.88 745.13 L207.66 745.59 L208.33 746.26 L208.91 747.04 L209.41 747.9 L209.85 748.79 L210.25 749.71 L210.62 750.64 L210.96 751.58 L211.29 752.53 L211.6 753.48 L211.9 754.44 L212.2 755.4 L212.48 756.36 L212.76 757.32 L213.03 758.28 L213.3 759.25 L213.56 760.22 L213.81 761.18 L214.06 762.16 L214.31 763.13 L214.54 764.1 L214.77 765.08 L215 766.05 L215.22 767.03 L215.42 768.01 L215.62 768.99 L215.81 769.98 L216 770.96 L216.18 771.95 L216.35 772.93 L216.52 773.92 L216.69 774.91 L216.85 775.9 L217.01 776.89 L217.17 777.88 L217.33 778.86 L217.48 779.85 L217.64 780.84 L217.8 781.83 L217.96 782.82 L218.13 783.81 L218.3 784.8 L218.47 785.78 L218.64 786.77 L218.81 787.76 L218.99 788.74 L219.17 789.73 L219.34 790.72 L219.52 791.7 L219.7 792.69 L219.88 793.67 L220.06 794.66 L220.24 795.65 L220.42 796.63 L220.6 797.62 L220.78 798.6 L220.96 799.59 L221.15 800.57 L221.33 801.56 L221.51 802.54 L221.7 803.53 L221.88 804.51 L222.06 805.5 L222.24 806.48 L222.42 807.47 L222.6 808.46 L222.78 809.44 L222.97 810.42 L223.17 811.41 L223.38 812.39 L223.61 813.36 L223.85 814.33 L224.1 815.3 L224.38 816.27 L224.66 817.23 L224.97 818.18 L225.31 819.12 L225.67 820.05 L226.09 820.96 L226.55 821.84 L227.09 822.67 L227.71 823.45 L228.4 824.15 L229.17 824.77 L229.99 825.34 L230.84 825.85 L231.72 826.34 L232.6 826.81 L233.5 827.25 L234.42 827.63 L235.36 827.96 L236.32 828.23 L237.29 828.46 L238.27 828.67 L239.26 828.87 L240.24 829.05 L241.23 829.22 L242.22 829.39 L243.2 829.55 L244.19 829.7 L245.19 829.85 L246.18 829.99 L247.17 830.13 L248.16 830.26 L249.16 830.39 L250.15 830.52 L251.14 830.64 L252.14 830.76 L253.13 830.88 L254.13 830.99 L255.12 831.11 L256.12 831.22 L257.12 831.32 L258.11 831.42 L259.11 831.51 L260.11 831.6 L261.11 831.68 L262.11 831.76 L263.11 831.83 L264.11 831.9 L265.11 831.96 L266.11 832.02 L267.11 832.07 L268.11 832.12 L269.11 832.17 L270.11 832.21 L271.11 832.25 L272.11 832.29 L273.11 832.32 L274.11 832.36 L275.12 832.39 L276.12 832.42 L277.12 832.45 L278.12 832.48 L279.12 832.51 L280.12 832.54 L281.13 832.57 L282.13 832.59 L283.13 832.62 L284.13 832.64 L285.13 832.67 L286.13 832.69 L287.14 832.71 L288.14 832.74 L289.14 832.76 L290.14 832.78 L291.14 832.8 L292.14 832.83 L293.15 832.85 L294.15 832.87 L295.15 832.89 L296.15 832.91 L297.15 832.94 L298.15 832.96 L299.16 832.98 L300.16 833 L301.16 833.03 L302.16 833.05 L303.16 833.07 L304.16 833.09 L305.17 833.11 L306.17 833.13 L307.17 833.14 L308.17 833.16 L309.17 833.18 L310.18 833.2 L311.18 833.21 L312.18 833.23 L313.18 833.25 L314.18 833.26 L315.18 833.28 L316.19 833.29 L317.19 833.3 L318.19 833.32 L319.19 833.33 L320.19 833.35 L321.2 833.36 L322.2 833.38 L323.2 833.39 L323.7 833.4" fill="none" stroke="#1ca85a" stroke-width="2.0" stroke-linejoin="round" stroke-linecap="round"/>
<path d="M46.6 678 L48.03 702.92 L49.45 715.27 L50.92 721.38 L52.49 725.76 L54.02 728.94 L55.58 733.67 L57.06 737.48 L58.57 741.87 L60.05 745.95 L61.68 749.03 L63.27 751.06 L64.79 753.68 L66.31 756.98 L67.85 760.78 L69.46 764.34 L71.1 767.23 L72.75 769.83 L74.35 772.13 L75.8 773.65 L77.39 774.16 L79.08 775.64 L80.67 776.98 L82.09 777.8 L83.76 780.31 L85.39 781.63 L87.03 783.92 L88.65 785.79 L90.2 787.82 L91.65 789.6 L93.12 791.71 L94.91 793.52 L96.68 794.2 L98.13 794.69 L99.62 794.65 L101.12 794.63 L102.6 794.16 L104.06 794.33 L105.46 793.72 L107.25 792.64 L109.03 792.14 L110.86 791.36 L112.28 790.64 L113.74 790.09 L115.22 790.15 L116.68 789.93 L118.09 790.34 L119.92 791.35 L121.79 791.8 L123.22 792.53 L124.67 792.94 L126.15 792.79 L127.65 793.38 L129.15 793.01 L130.65 793.61 L132.15 793.77 L133.64 793.74 L135.12 793.59 L136.61 794.18 L138.09 794.32 L139.58 795.01 L141.07 794.57 L142.56 795.33 L144.05 795.63 L145.53 795.64 L147 796.01 L148.46 795.88 L149.91 796.92 L151.34 796.96 L152.77 797.79 L154.2 798.24 L155.63 798.11 L157.06 799.05 L158.5 799.58 L159.96 799.2 L161.44 799.53 L162.91 799.7 L164.34 798.83 L165.75 798.9 L167.59 797.62 L169.41 797.21 L171.19 795.76 L172.93 795.05 L174.6 794.28 L176.21 792.52 L177.77 791.3 L179.29 790.2 L180.78 788.71 L182.22 787.09 L183.65 785.81 L185.17 784.52 L186.88 784.31 L188.74 783.72 L190.37 783.08 L191.81 780.57 L193.27 777.88 L194.75 773.62 L196.21 770.22 L197.79 766.62 L199.33 763.25 L200.82 761.06 L202.34 758.85 L203.89 757.77 L205.69 757.78 L207.43 757.86 L208.86 759.89 L210.26 761.65 L211.85 764.59 L213.41 768.6 L214.86 772.44 L216.3 778.86 L217.7 785.91 L219.16 793.11 L220.66 800.8 L222.14 807.39 L223.62 813 L225.04 816.63 L226.57 818.01 L228.11 819.88 L229.85 820.39 L231.7 821.47 L233.12 822.21 L234.58 822.24 L236.06 822.52 L237.55 822.38 L239.05 822.24 L240.55 822.35 L242.05 822.51 L243.56 822.94 L245.06 822.84 L246.56 822.94 L248.06 823.28 L249.57 822.69 L251.07 822.78 L252.57 823.12 L254.08 822.6 L255.58 822.56 L257.08 822.82 L258.58 822.6 L260.09 822.78 L261.59 822.66 L263.09 822.94 L264.6 822.95 L266.1 822.65 L267.6 823 L269.1 822.91 L270.61 822.67 L272.11 823.35 L273.61 822.83 L275.12 822.79 L276.62 822.79 L278.12 823.27 L279.62 823.5 L281.13 823.47 L282.63 823.21 L284.13 823.15 L285.63 822.99 L287.14 823.54 L288.64 823.52 L290.14 823.4 L291.64 823.68 L293.14 823.56 L294.65 824 L296.15 823.88 L297.65 823.54 L299.15 824.1 L300.66 823.45 L302.16 823.88 L303.66 823.81 L305.17 823.71 L306.67 823.6 L308.17 824.21 L309.67 823.63 L311.18 824.09 L312.68 824.43 L314.18 823.83 L315.69 823.9 L317.19 824.26 L318.69 824.21 L320.19 824.34 L321.7 824.51 L323.2 824.03 L323.7 824.3" fill="none" stroke="#111111" stroke-width="1.8" stroke-linejoin="round" stroke-linecap="round"/>
<g style="font-family:&quot;Liberation Serif&quot;,serif" fill="#111">
<text transform="translate(163 871) scale(0.965 1)" font-size="15.6" text-anchor="middle" font-weight="normal" fill="#111">Wavelength (nm)</text>
</g>
<line x1="129.6" y1="891.6" x2="144" y2="891.6" stroke="#e41a1c" stroke-width="2.6" stroke-linecap="butt"/>
<line x1="186.3" y1="891.6" x2="199.4" y2="891.6" stroke="#f2b824" stroke-width="2.6" stroke-linecap="butt"/>
<line x1="242" y1="891.6" x2="256.6" y2="891.6" stroke="#1f72b5" stroke-width="2.6" stroke-linecap="butt"/>
<line x1="310.2" y1="891.6" x2="324" y2="891.6" stroke="#7131a0" stroke-width="2.6" stroke-linecap="butt"/>
<line x1="373.9" y1="891.6" x2="387.6" y2="891.6" stroke="#1ca85a" stroke-width="2.6" stroke-linecap="butt"/>
<line x1="437.2" y1="891.6" x2="451.2" y2="891.6" stroke="#111111" stroke-width="2.6" stroke-linecap="butt"/>
<g style="font-family:&quot;Liberation Serif&quot;,serif" fill="#111" font-size="14.6">
<text x="144" y="896.5">0 hr</text>
<text x="199.4" y="896.5">6 hr</text>
<text x="256.6" y="896.5">12&#160; hr</text>
<text x="324" y="896.5">24 hr</text>
<text x="387.6" y="896.5">48 hr</text>
<text x="451.2" y="896.5">Control</text>
</g>
<g stroke="#333333" stroke-width="1.4" fill="none">
<path d="M381.2 24.7 V196.8 H628.8"/>
<path d="M381.2 25.3 H628.8"/>
</g>
<g stroke="#333333" stroke-width="1.1" fill="none">
<path d="M379.2 196.51 H381.2"/>
<path d="M377.2 185.1 H381.2"/>
<path d="M379.2 173.69 H381.2"/>
<path d="M377.2 162.27 H381.2"/>
<path d="M379.2 150.86 H381.2"/>
<path d="M377.2 139.44 H381.2"/>
<path d="M379.2 128.03 H381.2"/>
<path d="M377.2 116.61 H381.2"/>
<path d="M379.2 105.2 H381.2"/>
<path d="M377.2 93.79 H381.2"/>
<path d="M379.2 82.37 H381.2"/>
<path d="M377.2 70.96 H381.2"/>
<path d="M379.2 59.54 H381.2"/>
<path d="M377.2 48.13 H381.2"/>
<path d="M379.2 36.71 H381.2"/>
<path d="M377.2 25.3 H381.2"/>
<path d="M405.95 196.8 V199.8"/>
<path d="M455.47 196.8 V199.8"/>
<path d="M504.99 196.8 V199.8"/>
<path d="M554.51 196.8 V199.8"/>
<path d="M604.03 196.8 V199.8"/>
<path d="M430.71 196.8 V198.6"/>
<path d="M480.23 196.8 V198.6"/>
<path d="M529.75 196.8 V198.6"/>
<path d="M579.27 196.8 V198.6"/>
<path d="M430.71 25.3 V27.1"/>
<path d="M480.23 25.3 V27.1"/>
<path d="M529.75 25.3 V27.1"/>
<path d="M579.27 25.3 V27.1"/>
</g>
<g stroke="#d24a4c" stroke-width="1.4" fill="none"><path d="M628.8 25.3 V196.8"/></g>
<g stroke="#d24a4c" stroke-width="1.1" fill="none">
<path d="M628.8 25.3 H632.3"/>
<path d="M628.8 37.55 H630.8"/>
<path d="M628.8 49.8 H632.3"/>
<path d="M628.8 62.05 H630.8"/>
<path d="M628.8 74.3 H632.3"/>
<path d="M628.8 86.55 H630.8"/>
<path d="M628.8 98.8 H632.3"/>
<path d="M628.8 111.05 H630.8"/>
<path d="M628.8 123.3 H632.3"/>
<path d="M628.8 135.55 H630.8"/>
<path d="M628.8 147.8 H632.3"/>
<path d="M628.8 160.05 H630.8"/>
<path d="M628.8 172.3 H632.3"/>
<path d="M628.8 184.55 H630.8"/>
<path d="M628.8 196.8 H632.3"/>
</g>
<text transform="translate(374.2 187.96) scale(1.05 1)" font-size="8.4" text-anchor="end" font-weight="bold" fill="#1a1a1a" stroke="#1a1a1a" stroke-width="0.3">60</text>
<text transform="translate(374.2 165.13) scale(1.05 1)" font-size="8.4" text-anchor="end" font-weight="bold" fill="#1a1a1a" stroke="#1a1a1a" stroke-width="0.3">65</text>
<text transform="translate(374.2 142.3) scale(1.05 1)" font-size="8.4" text-anchor="end" font-weight="bold" fill="#1a1a1a" stroke="#1a1a1a" stroke-width="0.3">70</text>
<text transform="translate(374.2 119.47) scale(1.05 1)" font-size="8.4" text-anchor="end" font-weight="bold" fill="#1a1a1a" stroke="#1a1a1a" stroke-width="0.3">75</text>
<text transform="translate(374.2 96.64) scale(1.05 1)" font-size="8.4" text-anchor="end" font-weight="bold" fill="#1a1a1a" stroke="#1a1a1a" stroke-width="0.3">80</text>
<text transform="translate(374.2 73.81) scale(1.05 1)" font-size="8.4" text-anchor="end" font-weight="bold" fill="#1a1a1a" stroke="#1a1a1a" stroke-width="0.3">85</text>
<text transform="translate(374.2 50.98) scale(1.05 1)" font-size="8.4" text-anchor="end" font-weight="bold" fill="#1a1a1a" stroke="#1a1a1a" stroke-width="0.3">90</text>
<text transform="translate(374.2 28.16) scale(1.05 1)" font-size="8.4" text-anchor="end" font-weight="bold" fill="#1a1a1a" stroke="#1a1a1a" stroke-width="0.3">95</text>
<text transform="translate(635.2 27.95) scale(1.15 1)" font-size="7.8" text-anchor="start" font-weight="bold" fill="#c33b3b" stroke="#c33b3b" stroke-width="0.3">-16</text>
<text transform="translate(635.2 52.45) scale(1.15 1)" font-size="7.8" text-anchor="start" font-weight="bold" fill="#c33b3b" stroke="#c33b3b" stroke-width="0.3">-18</text>
<text transform="translate(635.2 76.95) scale(1.15 1)" font-size="7.8" text-anchor="start" font-weight="bold" fill="#c33b3b" stroke="#c33b3b" stroke-width="0.3">-20</text>
<text transform="translate(635.2 101.45) scale(1.15 1)" font-size="7.8" text-anchor="start" font-weight="bold" fill="#c33b3b" stroke="#c33b3b" stroke-width="0.3">-22</text>
<text transform="translate(635.2 125.95) scale(1.15 1)" font-size="7.8" text-anchor="start" font-weight="bold" fill="#c33b3b" stroke="#c33b3b" stroke-width="0.3">-24</text>
<text transform="translate(635.2 150.45) scale(1.15 1)" font-size="7.8" text-anchor="start" font-weight="bold" fill="#c33b3b" stroke="#c33b3b" stroke-width="0.3">-26</text>
<text transform="translate(635.2 174.95) scale(1.15 1)" font-size="7.8" text-anchor="start" font-weight="bold" fill="#c33b3b" stroke="#c33b3b" stroke-width="0.3">-28</text>
<text transform="translate(635.2 199.45) scale(1.15 1)" font-size="7.8" text-anchor="start" font-weight="bold" fill="#c33b3b" stroke="#c33b3b" stroke-width="0.3">-30</text>
<text transform="translate(405.95 208.6) scale(1.15 1)" font-size="7.4" text-anchor="middle" font-weight="bold" fill="#1a1a1a" stroke="#1a1a1a" stroke-width="0.3">0</text>
<text transform="translate(455.47 208.6) scale(1.15 1)" font-size="7.4" text-anchor="middle" font-weight="bold" fill="#1a1a1a" stroke="#1a1a1a" stroke-width="0.3">6</text>
<text transform="translate(504.99 208.6) scale(1.15 1)" font-size="7.4" text-anchor="middle" font-weight="bold" fill="#1a1a1a" stroke="#1a1a1a" stroke-width="0.3">12</text>
<text transform="translate(554.51 208.6) scale(1.15 1)" font-size="7.4" text-anchor="middle" font-weight="bold" fill="#1a1a1a" stroke="#1a1a1a" stroke-width="0.3">24</text>
<text transform="translate(604.03 208.6) scale(1.15 1)" font-size="7.4" text-anchor="middle" font-weight="bold" fill="#1a1a1a" stroke="#1a1a1a" stroke-width="0.3">48</text>
<text transform="translate(359.3 105) rotate(-90)" font-size="14.5" text-anchor="middle" font-weight="normal" fill="#111">Hydrodynamic diameter (nm)</text>
<text transform="translate(673 111.2) rotate(-90)" font-size="14.6" text-anchor="middle" font-weight="normal" fill="#111">Zeta potential (mV)</text>
<text x="386" y="16.5" font-size="20" text-anchor="start" font-weight="normal" fill="#111">b.</text>
<path d="M405.95 111.8 L455.47 106.4 L504.99 117.7 L554.51 103.4 L604.03 107.4" fill="none" stroke="#4a4a4a" stroke-width="1.0"/>
<g stroke="#555" stroke-width="1" fill="none">
<path d="M405.95 106.7 V117.3 M403.75 106.7 H408.15 M403.75 117.3 H408.15"/>
<path d="M455.47 94.7 V118.4 M453.27 94.7 H457.67 M453.27 118.4 H457.67"/>
<path d="M504.99 111.5 V124.6 M502.79 111.5 H507.19 M502.79 124.6 H507.19"/>
<path d="M554.51 91 V115 M552.31 91 H556.71 M552.31 115 H556.71"/>
<path d="M604.03 104.9 V110.4 M601.83 104.9 H606.23 M601.83 110.4 H606.23"/>
</g>
<g fill="#444">
<rect x="404.15" y="110" width="3.6" height="3.6"/>
<rect x="453.67" y="104.6" width="3.6" height="3.6"/>
<rect x="503.19" y="115.9" width="3.6" height="3.6"/>
<rect x="552.71" y="101.6" width="3.6" height="3.6"/>
<rect x="602.23" y="105.6" width="3.6" height="3.6"/>
</g>
<path d="M405.95 135.5 L455.47 85.2 L504.99 88.1 L554.51 79 L604.03 98.7" fill="none" stroke="#d44a4a" stroke-width="1.1"/>
<g stroke="#d65050" stroke-width="1" fill="none">
<path d="M455.47 83 V87.4 M453.27 83 H457.67 M453.27 87.4 H457.67"/>
<path d="M504.99 87 V89.2 M502.79 87 H507.19 M502.79 89.2 H507.19"/>
<path d="M554.51 75.7 V82.3 M552.31 75.7 H556.71 M552.31 82.3 H556.71"/>
<path d="M604.03 96.7 V100.7 M601.83 96.7 H606.23 M601.83 100.7 H606.23"/>
</g>
<g fill="#e03a3a">
<rect x="404.15" y="133.7" width="3.6" height="3.6"/>
<rect x="453.67" y="83.4" width="3.6" height="3.6"/>
<rect x="503.19" y="86.3" width="3.6" height="3.6"/>
<rect x="552.71" y="77.2" width="3.6" height="3.6"/>
<rect x="602.23" y="96.9" width="3.6" height="3.6"/>
</g>
<g stroke="#333333" stroke-width="1.4" fill="none">
<path d="M387.7 241.6 V413.7 H635.3"/>
<path d="M387.7 242.2 H635.3"/>
</g>
<g stroke="#333333" stroke-width="1.1" fill="none">
<path d="M383.7 413.7 H387.7"/>
<path d="M385.7 401.45 H387.7"/>
<path d="M383.7 389.2 H387.7"/>
<path d="M385.7 376.95 H387.7"/>
<path d="M383.7 364.7 H387.7"/>
<path d="M385.7 352.45 H387.7"/>
<path d="M383.7 340.2 H387.7"/>
<path d="M385.7 327.95 H387.7"/>
<path d="M383.7 315.7 H387.7"/>
<path d="M385.7 303.45 H387.7"/>
<path d="M383.7 291.2 H387.7"/>
<path d="M385.7 278.95 H387.7"/>
<path d="M383.7 266.7 H387.7"/>
<path d="M385.7 254.45 H387.7"/>
<path d="M383.7 242.2 H387.7"/>
<path d="M412.46 413.7 V416.7"/>
<path d="M461.98 413.7 V416.7"/>
<path d="M511.5 413.7 V416.7"/>
<path d="M561.02 413.7 V416.7"/>
<path d="M610.54 413.7 V416.7"/>
<path d="M437.22 413.7 V415.5"/>
<path d="M486.74 413.7 V415.5"/>
<path d="M536.26 413.7 V415.5"/>
<path d="M585.78 413.7 V415.5"/>
<path d="M437.22 242.2 V244"/>
<path d="M486.74 242.2 V244"/>
<path d="M536.26 242.2 V244"/>
<path d="M585.78 242.2 V244"/>
</g>
<g stroke="#d24a4c" stroke-width="1.4" fill="none"><path d="M635.3 242.2 V413.7"/></g>
<g stroke="#d24a4c" stroke-width="1.1" fill="none">
<path d="M635.3 242.2 H638.8"/>
<path d="M635.3 254.45 H637.3"/>
<path d="M635.3 266.7 H638.8"/>
<path d="M635.3 278.95 H637.3"/>
<path d="M635.3 291.2 H638.8"/>
<path d="M635.3 303.45 H637.3"/>
<path d="M635.3 315.7 H638.8"/>
<path d="M635.3 327.95 H637.3"/>
<path d="M635.3 340.2 H638.8"/>
<path d="M635.3 352.45 H637.3"/>
<path d="M635.3 364.7 H638.8"/>
<path d="M635.3 376.95 H637.3"/>
<path d="M635.3 389.2 H638.8"/>
<path d="M635.3 401.45 H637.3"/>
<path d="M635.3 413.7 H638.8"/>
</g>
<text transform="translate(380.8 416.28) scale(1.14 1)" font-size="7.6" text-anchor="end" font-weight="bold" fill="#1a1a1a" stroke="#1a1a1a" stroke-width="0.3">40</text>
<text transform="translate(380.8 391.78) scale(1.14 1)" font-size="7.6" text-anchor="end" font-weight="bold" fill="#1a1a1a" stroke="#1a1a1a" stroke-width="0.3">50</text>
<text transform="translate(380.8 367.28) scale(1.14 1)" font-size="7.6" text-anchor="end" font-weight="bold" fill="#1a1a1a" stroke="#1a1a1a" stroke-width="0.3">60</text>
<text transform="translate(380.8 342.78) scale(1.14 1)" font-size="7.6" text-anchor="end" font-weight="bold" fill="#1a1a1a" stroke="#1a1a1a" stroke-width="0.3">70</text>
<text transform="translate(380.8 318.28) scale(1.14 1)" font-size="7.6" text-anchor="end" font-weight="bold" fill="#1a1a1a" stroke="#1a1a1a" stroke-width="0.3">80</text>
<text transform="translate(380.8 293.78) scale(1.14 1)" font-size="7.6" text-anchor="end" font-weight="bold" fill="#1a1a1a" stroke="#1a1a1a" stroke-width="0.3">90</text>
<text transform="translate(380.8 269.28) scale(1.14 1)" font-size="7.6" text-anchor="end" font-weight="bold" fill="#1a1a1a" stroke="#1a1a1a" stroke-width="0.3">100</text>
<text transform="translate(380.8 244.78) scale(1.14 1)" font-size="7.6" text-anchor="end" font-weight="bold" fill="#1a1a1a" stroke="#1a1a1a" stroke-width="0.3">110</text>
<text transform="translate(641.4 244.92) scale(1.1 1)" font-size="8.0" text-anchor="start" font-weight="bold" fill="#c33b3b" stroke="#c33b3b" stroke-width="0.3">-18</text>
<text transform="translate(641.4 269.42) scale(1.1 1)" font-size="8.0" text-anchor="start" font-weight="bold" fill="#c33b3b" stroke="#c33b3b" stroke-width="0.3">-20</text>
<text transform="translate(641.4 293.92) scale(1.1 1)" font-size="8.0" text-anchor="start" font-weight="bold" fill="#c33b3b" stroke="#c33b3b" stroke-width="0.3">-22</text>
<text transform="translate(641.4 318.42) scale(1.1 1)" font-size="8.0" text-anchor="start" font-weight="bold" fill="#c33b3b" stroke="#c33b3b" stroke-width="0.3">-24</text>
<text transform="translate(641.4 342.92) scale(1.1 1)" font-size="8.0" text-anchor="start" font-weight="bold" fill="#c33b3b" stroke="#c33b3b" stroke-width="0.3">-26</text>
<text transform="translate(641.4 367.42) scale(1.1 1)" font-size="8.0" text-anchor="start" font-weight="bold" fill="#c33b3b" stroke="#c33b3b" stroke-width="0.3">-28</text>
<text transform="translate(641.4 391.92) scale(1.1 1)" font-size="8.0" text-anchor="start" font-weight="bold" fill="#c33b3b" stroke="#c33b3b" stroke-width="0.3">-30</text>
<text transform="translate(641.4 416.42) scale(1.1 1)" font-size="8.0" text-anchor="start" font-weight="bold" fill="#c33b3b" stroke="#c33b3b" stroke-width="0.3">-32</text>
<text transform="translate(412.46 425.3) scale(1.2 1)" font-size="7.2" text-anchor="middle" font-weight="bold" fill="#1a1a1a" stroke="#1a1a1a" stroke-width="0.3">0</text>
<text transform="translate(461.98 425.3) scale(1.2 1)" font-size="7.2" text-anchor="middle" font-weight="bold" fill="#1a1a1a" stroke="#1a1a1a" stroke-width="0.3">6</text>
<text transform="translate(511.5 425.3) scale(1.2 1)" font-size="7.2" text-anchor="middle" font-weight="bold" fill="#1a1a1a" stroke="#1a1a1a" stroke-width="0.3">12</text>
<text transform="translate(561.02 425.3) scale(1.2 1)" font-size="7.2" text-anchor="middle" font-weight="bold" fill="#1a1a1a" stroke="#1a1a1a" stroke-width="0.3">24</text>
<text transform="translate(610.54 425.3) scale(1.2 1)" font-size="7.2" text-anchor="middle" font-weight="bold" fill="#1a1a1a" stroke="#1a1a1a" stroke-width="0.3">48</text>
<text transform="translate(360 318.8) rotate(-90)" font-size="13.85" text-anchor="middle" font-weight="normal" fill="#111">Hydrodynamic diameter (nm)</text>
<text transform="translate(675.5 331.2) rotate(-90)" font-size="14.6" text-anchor="middle" font-weight="normal" fill="#111">Zeta potential (mV)</text>
<text x="386" y="233" font-size="20" text-anchor="start" font-weight="normal" fill="#111">d.</text>
<path d="M412.46 379.2 L461.98 374.8 L511.5 324.8 L561.02 283.5 L610.54 274.4" fill="none" stroke="#444" stroke-width="1.2"/>
<g stroke="#555" stroke-width="1" fill="none">
<path d="M412.46 374.4 V383.5 M410.26 374.4 H414.66 M410.26 383.5 H414.66"/>
<path d="M461.98 370.4 V379.5 M459.78 370.4 H464.18 M459.78 379.5 H464.18"/>
<path d="M511.5 313.1 V336.5 M509.3 313.1 H513.7 M509.3 336.5 H513.7"/>
<path d="M561.02 276.7 V291.1 M558.82 276.7 H563.22 M558.82 291.1 H563.22"/>
<path d="M610.54 272.4 V276.4 M608.34 272.4 H612.74 M608.34 276.4 H612.74"/>
</g>
<g fill="#3a3a3a">
<rect x="410.66" y="377.4" width="3.6" height="3.6"/>
<rect x="460.18" y="373" width="3.6" height="3.6"/>
<rect x="509.7" y="323" width="3.6" height="3.6"/>
<rect x="559.22" y="281.7" width="3.6" height="3.6"/>
<rect x="608.74" y="272.6" width="3.6" height="3.6"/>
</g>
<path d="M412.46 260.2 L461.98 329.5 L511.5 344.1 L561.02 359.5 L610.54 364.2" fill="none" stroke="#d05a5a" stroke-width="1.0"/>
<g stroke="#d86060" stroke-width="1" fill="none">
<path d="M412.46 242.3 V277 M410.26 242.3 H414.66 M410.26 277 H414.66"/>
<path d="M461.98 317.5 V341.2 M459.78 317.5 H464.18 M459.78 341.2 H464.18"/>
<path d="M511.5 326.2 V361.3 M509.3 326.2 H513.7 M509.3 361.3 H513.7"/>
<path d="M561.02 348.5 V370.4 M558.82 348.5 H563.22 M558.82 370.4 H563.22"/>
<path d="M610.54 362.2 V366.2 M608.34 362.2 H612.74 M608.34 366.2 H612.74"/>
</g>
<g fill="#e03a3a">
<rect x="410.66" y="258.4" width="3.6" height="3.6"/>
<rect x="460.18" y="327.7" width="3.6" height="3.6"/>
<rect x="509.7" y="342.3" width="3.6" height="3.6"/>
<rect x="559.22" y="357.7" width="3.6" height="3.6"/>
<rect x="608.74" y="362.4" width="3.6" height="3.6"/>
</g>
<g stroke="#333333" stroke-width="1.4" fill="none">
<path d="M390.8 462 V633.7 H638.6"/>
<path d="M390.8 462.6 H638.6"/>
</g>
<g stroke="#333333" stroke-width="1.1" fill="none">
<path d="M388.8 633.65 H390.8"/>
<path d="M386.8 623.6 H390.8"/>
<path d="M388.8 613.55 H390.8"/>
<path d="M386.8 603.5 H390.8"/>
<path d="M388.8 593.45 H390.8"/>
<path d="M386.8 583.4 H390.8"/>
<path d="M388.8 573.35 H390.8"/>
<path d="M386.8 563.3 H390.8"/>
<path d="M388.8 553.25 H390.8"/>
<path d="M386.8 543.2 H390.8"/>
<path d="M388.8 533.15 H390.8"/>
<path d="M386.8 523.1 H390.8"/>
<path d="M388.8 513.05 H390.8"/>
<path d="M386.8 503 H390.8"/>
<path d="M388.8 492.95 H390.8"/>
<path d="M386.8 482.9 H390.8"/>
<path d="M388.8 472.85 H390.8"/>
<path d="M386.8 462.8 H390.8"/>
<path d="M415.7 633.7 V636.7"/>
<path d="M465.2 633.7 V636.7"/>
<path d="M514.7 633.7 V636.7"/>
<path d="M564.2 633.7 V636.7"/>
<path d="M613.7 633.7 V636.7"/>
<path d="M440.45 633.7 V635.5"/>
<path d="M489.95 633.7 V635.5"/>
<path d="M539.45 633.7 V635.5"/>
<path d="M588.95 633.7 V635.5"/>
<path d="M440.45 462.6 V464.4"/>
<path d="M489.95 462.6 V464.4"/>
<path d="M539.45 462.6 V464.4"/>
<path d="M588.95 462.6 V464.4"/>
</g>
<g stroke="#d24a4c" stroke-width="1.4" fill="none"><path d="M638.6 462.6 V633.7"/></g>
<g stroke="#d24a4c" stroke-width="1.1" fill="none">
<path d="M638.6 461.74 H640.6"/>
<path d="M638.6 473.9 H642.1"/>
<path d="M638.6 486.06 H640.6"/>
<path d="M638.6 498.22 H642.1"/>
<path d="M638.6 510.38 H640.6"/>
<path d="M638.6 522.53 H642.1"/>
<path d="M638.6 534.69 H640.6"/>
<path d="M638.6 546.85 H642.1"/>
<path d="M638.6 559.01 H640.6"/>
<path d="M638.6 571.17 H642.1"/>
<path d="M638.6 583.32 H640.6"/>
<path d="M638.6 595.48 H642.1"/>
<path d="M638.6 607.64 H640.6"/>
<path d="M638.6 619.8 H642.1"/>
<path d="M638.6 631.96 H640.6"/>
</g>
<text transform="translate(384 626.15) scale(1.22 1)" font-size="7.5" text-anchor="end" font-weight="bold" fill="#1a1a1a" stroke="#1a1a1a" stroke-width="0.3">100</text>
<text transform="translate(384 606.05) scale(1.22 1)" font-size="7.5" text-anchor="end" font-weight="bold" fill="#1a1a1a" stroke="#1a1a1a" stroke-width="0.3">120</text>
<text transform="translate(384 585.95) scale(1.22 1)" font-size="7.5" text-anchor="end" font-weight="bold" fill="#1a1a1a" stroke="#1a1a1a" stroke-width="0.3">140</text>
<text transform="translate(384 565.85) scale(1.22 1)" font-size="7.5" text-anchor="end" font-weight="bold" fill="#1a1a1a" stroke="#1a1a1a" stroke-width="0.3">160</text>
<text transform="translate(384 545.75) scale(1.22 1)" font-size="7.5" text-anchor="end" font-weight="bold" fill="#1a1a1a" stroke="#1a1a1a" stroke-width="0.3">180</text>
<text transform="translate(384 525.65) scale(1.22 1)" font-size="7.5" text-anchor="end" font-weight="bold" fill="#1a1a1a" stroke="#1a1a1a" stroke-width="0.3">200</text>
<text transform="translate(384 505.55) scale(1.22 1)" font-size="7.5" text-anchor="end" font-weight="bold" fill="#1a1a1a" stroke="#1a1a1a" stroke-width="0.3">220</text>
<text transform="translate(384 485.45) scale(1.22 1)" font-size="7.5" text-anchor="end" font-weight="bold" fill="#1a1a1a" stroke="#1a1a1a" stroke-width="0.3">240</text>
<text transform="translate(384 465.35) scale(1.22 1)" font-size="7.5" text-anchor="end" font-weight="bold" fill="#1a1a1a" stroke="#1a1a1a" stroke-width="0.3">260</text>
<text transform="translate(643.9 477.13) scale(1.03 1)" font-size="9.5" text-anchor="start" font-weight="normal" fill="#c33b3b">-1.0</text>
<text transform="translate(643.9 501.45) scale(1.03 1)" font-size="9.5" text-anchor="start" font-weight="normal" fill="#c33b3b">-1.5</text>
<text transform="translate(643.9 525.76) scale(1.03 1)" font-size="9.5" text-anchor="start" font-weight="normal" fill="#c33b3b">-2.0</text>
<text transform="translate(643.9 550.08) scale(1.03 1)" font-size="9.5" text-anchor="start" font-weight="normal" fill="#c33b3b">-2.5</text>
<text transform="translate(643.9 574.4) scale(1.03 1)" font-size="9.5" text-anchor="start" font-weight="normal" fill="#c33b3b">-3.0</text>
<text transform="translate(643.9 598.71) scale(1.03 1)" font-size="9.5" text-anchor="start" font-weight="normal" fill="#c33b3b">-3.5</text>
<text transform="translate(643.9 623.03) scale(1.03 1)" font-size="9.5" text-anchor="start" font-weight="normal" fill="#c33b3b">-4.0</text>
<text transform="translate(357.6 531.9) rotate(-90)" font-size="13.85" text-anchor="middle" font-weight="normal" fill="#111">Hydrodynamic diameter (nm)</text>
<text transform="translate(680 544.2) rotate(-90)" font-size="14.6" text-anchor="middle" font-weight="normal" fill="#111">Zeta potential (mV)</text>
<text x="387" y="449.3" font-size="18.5" text-anchor="start" font-weight="normal" fill="#111">f.</text>
<path d="M415.7 577.3 L465.2 571.8 L514.7 570.7 L564.2 573.2 L613.7 538.2" fill="none" stroke="#444" stroke-width="1.1"/>
<g stroke="#555" stroke-width="1" fill="none">
<path d="M415.7 570.3 V584.6 M413.5 570.3 H417.9 M413.5 584.6 H417.9"/>
<path d="M465.2 564.5 V579.1 M463 564.5 H467.4 M463 579.1 H467.4"/>
<path d="M514.7 557.6 V583.8 M512.5 557.6 H516.9 M512.5 583.8 H516.9"/>
<path d="M564.2 558.6 V588.2 M562 558.6 H566.4 M562 588.2 H566.4"/>
<path d="M613.7 518.9 V557.9 M611.5 518.9 H615.9 M611.5 557.9 H615.9"/>
</g>
<g fill="#3a3a3a">
<rect x="413.9" y="575.5" width="3.6" height="3.6"/>
<rect x="463.4" y="570" width="3.6" height="3.6"/>
<rect x="512.9" y="568.9" width="3.6" height="3.6"/>
<rect x="562.4" y="571.4" width="3.6" height="3.6"/>
<rect x="611.9" y="536.4" width="3.6" height="3.6"/>
</g>
<path d="M415.7 541.5 L465.2 492.6 L514.7 526.9 L564.2 600.3 L613.7 571.1" fill="none" stroke="#d44444" stroke-width="1.4"/>
<g stroke="#d65050" stroke-width="1" fill="none">
<path d="M415.7 533.5 V549.2 M413.5 533.5 H417.9 M413.5 549.2 H417.9"/>
<path d="M465.2 486.8 V498.1 M463 486.8 H467.4 M463 498.1 H467.4"/>
<path d="M514.7 514.9 V538.2 M512.5 514.9 H516.9 M512.5 538.2 H516.9"/>
<path d="M564.2 595.9 V603.9 M562 595.9 H566.4 M562 603.9 H566.4"/>
<path d="M613.7 564.5 V577.3 M611.5 564.5 H615.9 M611.5 577.3 H615.9"/>
</g>
<g fill="#e03a3a">
<rect x="413.9" y="539.7" width="3.6" height="3.6"/>
<rect x="463.4" y="490.8" width="3.6" height="3.6"/>
<rect x="512.9" y="525.1" width="3.6" height="3.6"/>
<rect x="562.4" y="598.5" width="3.6" height="3.6"/>
<rect x="611.9" y="569.3" width="3.6" height="3.6"/>
</g>
<g stroke="#333333" stroke-width="1.4" fill="none">
<path d="M386.8 674.4 V845 H625.7"/>
<path d="M386.8 675 H625.7"/>
</g>
<g stroke="#333333" stroke-width="1.1" fill="none">
<path d="M384.8 844.94 H386.8"/>
<path d="M382.8 835.5 H386.8"/>
<path d="M384.8 826.06 H386.8"/>
<path d="M382.8 816.61 H386.8"/>
<path d="M384.8 807.17 H386.8"/>
<path d="M382.8 797.73 H386.8"/>
<path d="M384.8 788.28 H386.8"/>
<path d="M382.8 778.84 H386.8"/>
<path d="M384.8 769.39 H386.8"/>
<path d="M382.8 759.95 H386.8"/>
<path d="M384.8 750.51 H386.8"/>
<path d="M382.8 741.06 H386.8"/>
<path d="M384.8 731.62 H386.8"/>
<path d="M382.8 722.17 H386.8"/>
<path d="M384.8 712.73 H386.8"/>
<path d="M382.8 703.29 H386.8"/>
<path d="M384.8 693.84 H386.8"/>
<path d="M382.8 684.4 H386.8"/>
<path d="M384.8 674.96 H386.8"/>
<path d="M406.9 845 V848"/>
<path d="M426.73 845 V846.8"/>
<path d="M446.56 845 V848"/>
<path d="M466.39 845 V846.8"/>
<path d="M486.22 845 V848"/>
<path d="M506.05 845 V846.8"/>
<path d="M525.88 845 V848"/>
<path d="M545.71 845 V846.8"/>
<path d="M565.54 845 V848"/>
<path d="M585.37 845 V846.8"/>
<path d="M605.2 845 V848"/>
<path d="M406.9 675 V678"/>
<path d="M426.73 675 V676.8"/>
<path d="M446.56 675 V678"/>
<path d="M466.39 675 V676.8"/>
<path d="M486.22 675 V678"/>
<path d="M506.05 675 V676.8"/>
<path d="M525.88 675 V678"/>
<path d="M545.71 675 V676.8"/>
<path d="M565.54 675 V678"/>
<path d="M585.37 675 V676.8"/>
<path d="M605.2 675 V678"/>
</g>
<g stroke="#d24a4c" stroke-width="1.4" fill="none"><path d="M625.7 675 V845"/></g>
<g stroke="#d24a4c" stroke-width="1.1" fill="none">
<path d="M625.7 674.8 H629.2"/>
<path d="M625.7 684.26 H627.7"/>
<path d="M625.7 693.71 H629.2"/>
<path d="M625.7 703.17 H627.7"/>
<path d="M625.7 712.62 H629.2"/>
<path d="M625.7 722.08 H627.7"/>
<path d="M625.7 731.53 H629.2"/>
<path d="M625.7 740.99 H627.7"/>
<path d="M625.7 750.44 H629.2"/>
<path d="M625.7 759.9 H627.7"/>
<path d="M625.7 769.36 H629.2"/>
<path d="M625.7 778.81 H627.7"/>
<path d="M625.7 788.27 H629.2"/>
<path d="M625.7 797.72 H627.7"/>
<path d="M625.7 807.18 H629.2"/>
<path d="M625.7 816.63 H627.7"/>
<path d="M625.7 826.09 H629.2"/>
<path d="M625.7 835.54 H627.7"/>
<path d="M625.7 845 H629.2"/>
</g>
<text transform="translate(380.8 838.15) scale(1.08 1)" font-size="7.8" text-anchor="end" font-weight="bold" fill="#1a1a1a" stroke="#1a1a1a" stroke-width="0.3">70</text>
<text transform="translate(380.8 819.26) scale(1.08 1)" font-size="7.8" text-anchor="end" font-weight="bold" fill="#1a1a1a" stroke="#1a1a1a" stroke-width="0.3">80</text>
<text transform="translate(380.8 800.38) scale(1.08 1)" font-size="7.8" text-anchor="end" font-weight="bold" fill="#1a1a1a" stroke="#1a1a1a" stroke-width="0.3">90</text>
<text transform="translate(380.8 781.49) scale(1.08 1)" font-size="7.8" text-anchor="end" font-weight="bold" fill="#1a1a1a" stroke="#1a1a1a" stroke-width="0.3">100</text>
<text transform="translate(380.8 762.6) scale(1.08 1)" font-size="7.8" text-anchor="end" font-weight="bold" fill="#1a1a1a" stroke="#1a1a1a" stroke-width="0.3">110</text>
<text transform="translate(380.8 743.71) scale(1.08 1)" font-size="7.8" text-anchor="end" font-weight="bold" fill="#1a1a1a" stroke="#1a1a1a" stroke-width="0.3">120</text>
<text transform="translate(380.8 724.83) scale(1.08 1)" font-size="7.8" text-anchor="end" font-weight="bold" fill="#1a1a1a" stroke="#1a1a1a" stroke-width="0.3">130</text>
<text transform="translate(380.8 705.94) scale(1.08 1)" font-size="7.8" text-anchor="end" font-weight="bold" fill="#1a1a1a" stroke="#1a1a1a" stroke-width="0.3">140</text>
<text transform="translate(380.8 687.05) scale(1.08 1)" font-size="7.8" text-anchor="end" font-weight="bold" fill="#1a1a1a" stroke="#1a1a1a" stroke-width="0.3">150</text>
<text transform="translate(632 677.45) scale(1.12 1)" font-size="7.8" text-anchor="start" font-weight="bold" fill="#c33b3b" stroke="#c33b3b" stroke-width="0.3">-9.0</text>
<text transform="translate(632 696.36) scale(1.12 1)" font-size="7.8" text-anchor="start" font-weight="bold" fill="#c33b3b" stroke="#c33b3b" stroke-width="0.3">-9.6</text>
<text transform="translate(632 715.27) scale(1.12 1)" font-size="7.8" text-anchor="start" font-weight="bold" fill="#c33b3b" stroke="#c33b3b" stroke-width="0.3">-9.8</text>
<text transform="translate(632 734.19) scale(1.12 1)" font-size="7.8" text-anchor="start" font-weight="bold" fill="#c33b3b" stroke="#c33b3b" stroke-width="0.3">-10.0</text>
<text transform="translate(632 753.1) scale(1.12 1)" font-size="7.8" text-anchor="start" font-weight="bold" fill="#c33b3b" stroke="#c33b3b" stroke-width="0.3">-10.2</text>
<text transform="translate(632 772.01) scale(1.12 1)" font-size="7.8" text-anchor="start" font-weight="bold" fill="#c33b3b" stroke="#c33b3b" stroke-width="0.3">-10.4</text>
<text transform="translate(632 790.92) scale(1.12 1)" font-size="7.8" text-anchor="start" font-weight="bold" fill="#c33b3b" stroke="#c33b3b" stroke-width="0.3">-10.6</text>
<text transform="translate(632 809.83) scale(1.12 1)" font-size="7.8" text-anchor="start" font-weight="bold" fill="#c33b3b" stroke="#c33b3b" stroke-width="0.3">-10.8</text>
<text transform="translate(632 828.74) scale(1.12 1)" font-size="7.8" text-anchor="start" font-weight="bold" fill="#c33b3b" stroke="#c33b3b" stroke-width="0.3">-11.0</text>
<text transform="translate(632 847.65) scale(1.12 1)" font-size="7.8" text-anchor="start" font-weight="bold" fill="#c33b3b" stroke="#c33b3b" stroke-width="0.3">-11.2</text>
<text transform="translate(406.9 856.5) scale(1.15 1)" font-size="7.0" text-anchor="middle" font-weight="bold" fill="#1a1a1a" stroke="#1a1a1a" stroke-width="0.3">0</text>
<text transform="translate(446.56 856.5) scale(1.15 1)" font-size="7.0" text-anchor="middle" font-weight="bold" fill="#1a1a1a" stroke="#1a1a1a" stroke-width="0.3">10</text>
<text transform="translate(486.22 856.5) scale(1.15 1)" font-size="7.0" text-anchor="middle" font-weight="bold" fill="#1a1a1a" stroke="#1a1a1a" stroke-width="0.3">20</text>
<text transform="translate(525.88 856.5) scale(1.15 1)" font-size="7.0" text-anchor="middle" font-weight="bold" fill="#1a1a1a" stroke="#1a1a1a" stroke-width="0.3">30</text>
<text transform="translate(565.54 856.5) scale(1.15 1)" font-size="7.0" text-anchor="middle" font-weight="bold" fill="#1a1a1a" stroke="#1a1a1a" stroke-width="0.3">40</text>
<text transform="translate(605.2 856.5) scale(1.15 1)" font-size="7.0" text-anchor="middle" font-weight="bold" fill="#1a1a1a" stroke="#1a1a1a" stroke-width="0.3">50</text>
<text transform="translate(359.6 755.9) rotate(-90)" font-size="14.35" text-anchor="middle" font-weight="normal" fill="#111">Hydrodynamic diameter (nm)</text>
<text transform="translate(675 756.1) rotate(-90)" font-size="14.6" text-anchor="middle" font-weight="normal" fill="#111">Zeta potential (mV)</text>
<text x="386" y="662.7" font-size="20" text-anchor="start" font-weight="normal" fill="#111">h.</text>
<path d="M406.9 821.9 L430.7 795 L454.49 697.2 L502.08 706.9 L597.27 700.4" fill="none" stroke="#444" stroke-width="1.1"/>
<g stroke="#555" stroke-width="1" fill="none">
<path d="M406.9 819.5 V824.7 M404.7 819.5 H409.1 M404.7 824.7 H409.1"/>
<path d="M430.7 792.3 V797.9 M428.5 792.3 H432.9 M428.5 797.9 H432.9"/>
<path d="M454.49 690 V704.7 M452.29 690 H456.69 M452.29 704.7 H456.69"/>
<path d="M502.08 698.3 V716.2 M499.88 698.3 H504.28 M499.88 716.2 H504.28"/>
<path d="M597.27 691.1 V710.1 M595.07 691.1 H599.47 M595.07 710.1 H599.47"/>
</g>
<g fill="#3a3a3a">
<rect x="405.1" y="820.1" width="3.6" height="3.6"/>
<rect x="428.9" y="793.2" width="3.6" height="3.6"/>
<rect x="452.69" y="695.4" width="3.6" height="3.6"/>
<rect x="500.28" y="705.1" width="3.6" height="3.6"/>
<rect x="595.47" y="698.6" width="3.6" height="3.6"/>
</g>
<path d="M406.9 813.3 L430.7 785.3 L454.49 813.1 L502.08 747.3 L597.27 816.3" fill="none" stroke="#d44444" stroke-width="1.3"/>
<g stroke="#d65050" stroke-width="1" fill="none">
<path d="M406.9 805 V819.5 M404.7 805 H409.1 M404.7 819.5 H409.1"/>
<path d="M430.7 772.2 V795 M428.5 772.2 H432.9 M428.5 795 H432.9"/>
<path d="M454.49 800.6 V825.6 M452.29 800.6 H456.69 M452.29 825.6 H456.69"/>
<path d="M502.08 735.1 V759.1 M499.88 735.1 H504.28 M499.88 759.1 H504.28"/>
<path d="M597.27 804.1 V828.1 M595.07 804.1 H599.47 M595.07 828.1 H599.47"/>
</g>
<g fill="#e03a3a">
<rect x="405.1" y="811.5" width="3.6" height="3.6"/>
<rect x="428.9" y="783.5" width="3.6" height="3.6"/>
<rect x="452.69" y="811.3" width="3.6" height="3.6"/>
<rect x="500.28" y="745.5" width="3.6" height="3.6"/>
<rect x="595.47" y="814.5" width="3.6" height="3.6"/>
</g>
<g style="font-family:&quot;Liberation Serif&quot;,serif" fill="#111">
<text transform="translate(510.8 872) scale(0.9 1)" font-size="16.2" text-anchor="middle" font-weight="normal" fill="#111">Time (hr)</text>
</g>
</svg>
</body></html>
